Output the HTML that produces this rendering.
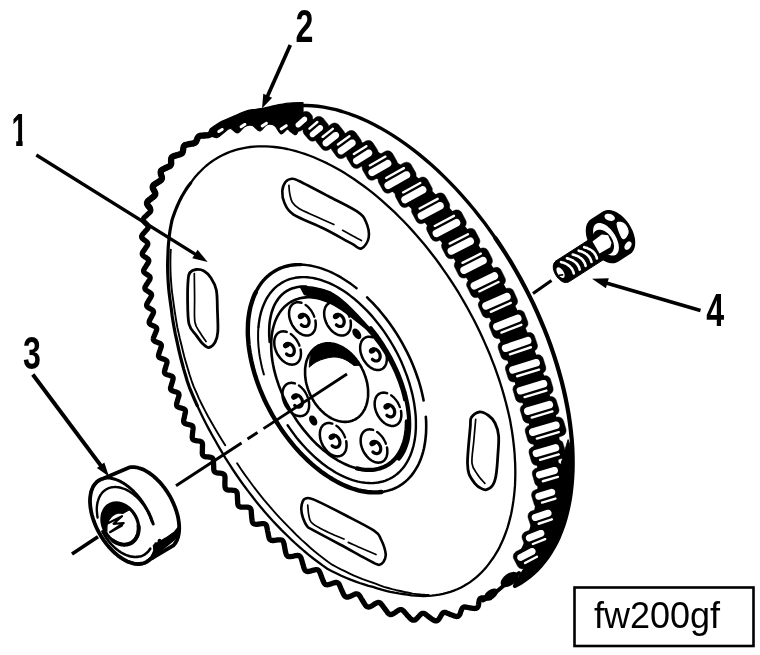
<!DOCTYPE html>
<html><head><meta charset="utf-8"><title>fw200gf</title>
<style>html,body{margin:0;padding:0;background:#fff;-webkit-font-smoothing:antialiased}svg{display:block}
text{font-family:"Liberation Sans",sans-serif;fill:#000}</style></head>
<body><svg width="760" height="655" viewBox="0 0 760 655">
<defs><filter id="g" x="-20%" y="-20%" width="140%" height="140%"><feOffset dx="0" dy="0"/></filter></defs>
<rect width="760" height="655" fill="#fff"/>
<path d="M300.2,105.5 L305.9,105.5 L311.8,105.7 L317.7,106.3 L323.7,107.1 L329.7,108.3 L335.9,109.7 L342.1,111.5 L348.4,113.5 L354.7,115.8 L361.0,118.4 L367.4,121.3 L373.9,124.5 L380.3,127.9 L386.7,131.6 L393.2,135.6 L399.6,139.9 L406.0,144.4 L412.4,149.1 L418.8,154.1 L425.1,159.4 L431.4,164.8 L437.7,170.5 L443.8,176.4 L450.0,182.6 L456.0,188.9 L461.9,195.4 L467.8,202.1 L473.6,209.0 L479.2,216.1 L484.8,223.3 L490.2,230.7 L495.5,238.3 L500.7,245.9" fill="none" stroke="#000" stroke-width="3.40" stroke-linecap="round" stroke-linejoin="round" />
<path d="M495.5,238.3 L500.7,246.0 L505.8,253.9 L510.8,261.9 L515.5,270.0 L520.2,278.2 L524.6,286.5 L528.9,294.9 L533.1,303.4 L537.0,311.9 L540.7,320.4 L544.3,329.0 L547.7,337.6 L550.9,346.3 L553.8,354.9 L556.6,363.6 L559.1,372.2 L561.5,380.8 L563.6,389.3 L565.5,397.8 L567.2,406.3 L568.7,414.7 L569.9,423.0 L570.9,431.2 L571.7,439.3 L572.3,447.3 L572.6,455.2 L572.7,462.9 L572.6,470.5 L572.2,478.0 L571.6,485.3 L570.8,492.4 L569.8,499.4 L568.5,506.2 L567.0,512.8 L565.3,519.1 L563.4,525.3 L561.2,531.3 L558.9,537.0 L556.3,542.5 L553.5,547.7 L550.5,552.8 L547.3,557.5 L543.9,562.0 L540.3,566.3 L536.6,570.2 L532.6,573.9 L528.5,577.4 L524.1,580.5 L519.7,583.4 L515.0,585.9" fill="none" stroke="#000" stroke-width="4.20" stroke-linecap="round" stroke-linejoin="round" />
<path d="M212.0,131.5 L211.6,132.4 L211.1,133.3 L210.5,134.0 L209.9,134.6 L209.1,134.9 L208.3,135.1 L207.4,135.3 L206.5,135.3 L205.6,135.4 L204.7,135.5 L203.8,135.5 L202.9,135.6 L202.0,135.6 L201.1,135.7 L200.2,135.8 L199.4,136.1 L198.7,136.5 L198.1,137.2 L197.6,138.0 L197.2,139.0 L196.8,140.0 L196.4,140.9 L196.0,141.8 L195.4,142.4 L194.8,142.9 L194.1,143.2 L193.3,143.4 L192.5,143.6 L191.6,143.7 L190.7,143.8 L189.9,144.0 L189.0,144.1 L188.1,144.3 L187.3,144.5 L186.4,144.7 L185.6,145.0 L184.8,145.3 L184.2,145.9 L183.8,146.6 L183.5,147.5 L183.3,148.5 L183.2,149.6 L183.0,150.6 L182.8,151.6 L182.5,152.4 L182.1,153.1 L181.5,153.6 L180.8,153.9 L180.0,154.2 L179.2,154.5 L178.4,154.7 L177.6,155.0 L176.8,155.2 L176.0,155.4 L175.2,155.7 L174.4,155.9 L173.7,156.2 L173.0,156.5 L172.3,156.9 L171.8,157.3 L171.5,157.9 L171.2,158.6 L171.1,159.3 L171.1,160.2 L171.1,161.0 L171.1,161.9 L171.2,162.7 L171.2,163.5 L171.1,164.2 L170.9,164.7 L170.6,165.2 L170.3,165.7 L169.8,166.0 L169.3,166.3 L168.8,166.6 L168.2,166.8 L167.7,167.1 L167.1,167.3 L166.5,167.6 L165.9,167.9 L165.3,168.1 L164.8,168.4 L164.2,168.7 L163.6,169.0 L163.0,169.3 L162.4,169.6 L161.9,170.0 L161.4,170.4 L161.0,170.8 L160.8,171.4 L160.7,172.1 L160.7,172.8 L160.8,173.6 L161.0,174.4 L161.3,175.3 L161.6,176.2 L161.8,177.0 L161.9,177.7 L161.9,178.4 L161.7,179.0 L161.5,179.6 L161.1,180.1 L160.5,180.5 L160.0,180.9 L159.4,181.3 L158.7,181.7 L158.1,182.1 L157.5,182.5 L156.8,182.9 L156.2,183.3 L155.5,183.7 L154.9,184.1 L154.2,184.6 L153.7,185.1 L153.2,185.6 L152.9,186.2 L152.7,186.9 L152.7,187.6 L153.0,188.5 L153.4,189.4 L153.9,190.3 L154.4,191.3 L154.9,192.2 L155.2,193.0 L155.3,193.8 L155.2,194.6 L154.9,195.2 L154.4,195.8 L153.8,196.4 L153.1,196.9 L152.4,197.5 L151.7,198.0 L151.0,198.6 L150.3,199.2 L149.5,199.7 L148.8,200.3 L148.1,200.9 L147.6,201.6 L147.2,202.3 L147.0,203.0 L147.1,203.9 L147.5,204.8 L148.1,205.7 L148.9,206.7 L149.6,207.6 L150.2,208.5 L150.7,209.4 L150.8,210.2 L150.7,210.9 L150.4,211.6 L149.9,212.2 L149.3,212.8 L148.6,213.4 L148.0,214.0 L147.3,214.6 L146.6,215.3 L146.0,215.9 L145.3,216.5 L144.6,217.2 L144.0,217.8 L143.6,218.5 L143.3,219.2 L143.2,220.0 L143.5,220.8 L144.0,221.6 L144.8,222.5 L145.7,223.3 L146.6,224.2 L147.4,225.0 L147.9,225.8 L148.2,226.5 L148.3,227.2 L148.1,227.9 L147.7,228.6 L147.1,229.2 L146.6,229.9 L146.0,230.5 L145.4,231.2 L144.8,231.8 L144.3,232.5 L143.7,233.1 L143.1,233.8 L142.6,234.4 L142.2,235.1 L141.8,235.8 L141.6,236.5 L141.7,237.2 L141.9,237.8 L142.4,238.5 L143.1,239.1 L143.9,239.8 L144.8,240.4 L145.7,241.0 L146.5,241.6 L147.2,242.3 L147.6,242.9 L147.8,243.5 L147.8,244.1 L147.6,244.8 L147.3,245.4 L146.9,246.1 L146.4,246.7 L146.0,247.4 L145.5,248.1 L145.1,248.7 L144.6,249.4 L144.2,250.1 L143.7,250.8 L143.2,251.4 L142.8,252.1 L142.5,252.8 L142.3,253.5 L142.3,254.1 L142.5,254.8 L142.9,255.4 L143.6,256.0 L144.4,256.6 L145.2,257.2 L146.2,257.7 L147.0,258.3 L147.8,258.9 L148.3,259.5 L148.7,260.1 L148.8,260.7 L148.7,261.4 L148.5,262.0 L148.2,262.7 L147.7,263.4 L147.3,264.1 L146.8,264.8 L146.4,265.5 L145.9,266.3 L145.5,267.0 L145.0,267.7 L144.5,268.5 L144.1,269.2 L143.8,270.0 L143.6,270.7 L143.7,271.5 L144.0,272.2 L144.7,272.9 L145.7,273.6 L146.8,274.4 L148.0,275.1 L149.0,275.8 L149.8,276.6 L150.1,277.4 L150.1,278.3 L149.9,279.2 L149.4,280.1 L148.8,281.0 L148.2,281.9 L147.6,282.9 L147.0,283.8 L146.4,284.7 L145.8,285.7 L145.2,286.6 L144.9,287.5 L144.9,288.4 L145.3,289.3 L146.1,290.1 L147.3,290.9 L148.5,291.7 L149.8,292.5 L150.7,293.3 L151.4,294.1 L151.6,294.9 L151.4,295.8 L151.1,296.6 L150.6,297.5 L150.1,298.4 L149.5,299.3 L149.0,300.2 L148.5,301.0 L148.0,301.9 L147.4,302.8 L147.0,303.7 L146.7,304.5 L146.6,305.3 L146.8,306.1 L147.4,306.9 L148.2,307.6 L149.3,308.2 L150.5,308.9 L151.7,309.5 L152.6,310.2 L153.2,310.9 L153.5,311.6 L153.5,312.4 L153.3,313.2 L152.9,314.1 L152.5,314.9 L152.0,315.8 L151.6,316.6 L151.1,317.5 L150.7,318.3 L150.2,319.2 L149.8,320.0 L149.4,320.9 L149.2,321.7 L149.2,322.5 L149.4,323.3 L149.9,324.0 L150.7,324.6 L151.8,325.1 L152.9,325.6 L154.1,326.2 L155.1,326.7 L156.0,327.2 L156.5,327.9 L156.7,328.6 L156.7,329.3 L156.6,330.1 L156.3,331.0 L155.9,331.8 L155.6,332.7 L155.2,333.5 L154.9,334.4 L154.5,335.2 L154.2,336.1 L153.8,336.9 L153.5,337.7 L153.4,338.6 L153.3,339.3 L153.5,340.0 L153.9,340.6 L154.6,341.2 L155.5,341.7 L156.6,342.1 L157.7,342.5 L158.8,342.9 L159.8,343.4 L160.5,343.8 L161.0,344.4 L161.3,345.0 L161.4,345.7 L161.3,346.4 L161.1,347.2 L160.8,348.0 L160.5,348.8 L160.3,349.6 L160.0,350.4 L159.7,351.2 L159.5,352.0 L159.2,352.8 L158.9,353.6 L158.7,354.4 L158.6,355.1 L158.5,355.8 L158.7,356.5 L159.0,357.1 L159.6,357.6 L160.4,358.0 L161.3,358.4 L162.4,358.7 L163.5,359.1 L164.5,359.4 L165.4,359.8 L166.1,360.3 L166.6,360.8 L166.9,361.4 L167.0,362.1 L166.9,362.8 L166.7,363.6 L166.5,364.4 L166.3,365.1 L166.0,365.9 L165.8,366.7 L165.6,367.5 L165.3,368.3 L165.1,369.1 L164.9,369.8 L164.7,370.6 L164.5,371.4 L164.5,372.1 L164.6,372.8 L164.9,373.4 L165.4,373.9 L166.2,374.3 L167.1,374.7 L168.2,375.0 L169.4,375.3 L170.5,375.7 L171.5,376.0 L172.3,376.5 L172.8,377.1 L173.1,377.8 L173.1,378.6 L173.0,379.4 L172.8,380.3 L172.5,381.3 L172.2,382.3 L171.9,383.2 L171.6,384.2 L171.3,385.2 L171.0,386.2 L170.7,387.2 L170.5,388.2 L170.6,389.0 L171.0,389.8 L171.8,390.5 L173.0,391.0 L174.4,391.5 L175.8,391.9 L177.1,392.4 L178.2,393.0 L178.8,393.7 L179.0,394.6 L179.0,395.6 L178.7,396.6 L178.4,397.7 L178.0,398.8 L177.7,399.8 L177.4,400.9 L177.1,402.0 L176.8,403.1 L176.6,404.1 L176.6,405.1 L176.8,405.9 L177.4,406.7 L178.4,407.2 L179.6,407.6 L181.0,408.0 L182.4,408.4 L183.6,408.8 L184.5,409.3 L185.2,410.0 L185.4,410.8 L185.5,411.7 L185.3,412.7 L185.1,413.7 L184.8,414.8 L184.6,415.8 L184.4,416.9 L184.2,417.9 L183.9,418.9 L183.7,420.0 L183.6,421.0 L183.7,421.9 L184.1,422.7 L184.7,423.3 L185.7,423.8 L186.9,424.2 L188.2,424.5 L189.6,424.8 L190.8,425.1 L191.8,425.5 L192.5,426.1 L192.9,426.8 L193.1,427.7 L193.1,428.6 L193.0,429.6 L192.8,430.7 L192.7,431.7 L192.6,432.7 L192.5,433.8 L192.4,434.8 L192.3,435.9 L192.2,436.9 L192.3,437.9 L192.5,438.7 L192.9,439.5 L193.7,440.0 L194.7,440.4 L195.9,440.7 L197.2,440.8 L198.6,441.0 L199.8,441.2 L200.8,441.6 L201.6,442.1 L202.1,442.7 L202.4,443.5 L202.5,444.4 L202.5,445.4 L202.5,446.3 L202.4,447.3 L202.4,448.3 L202.4,449.3 L202.4,450.2 L202.3,451.2 L202.3,452.2 L202.3,453.1 L202.4,454.0 L202.6,454.8 L203.0,455.5 L203.5,456.0 L204.3,456.4 L205.2,456.7 L206.3,456.9 L207.4,456.9 L208.6,457.0 L209.7,457.1 L210.7,457.3 L211.6,457.5 L212.2,457.9 L212.7,458.5 L213.1,459.1 L213.3,459.8 L213.4,460.7 L213.5,461.5 L213.5,462.4 L213.5,463.3 L213.6,464.1 L213.6,465.0 L213.6,465.9 L213.7,466.8 L213.7,467.7 L213.7,468.5 L213.8,469.4 L213.9,470.2 L214.1,471.0 L214.5,471.6 L215.0,472.1 L215.8,472.5 L216.7,472.8 L217.8,473.0 L218.9,473.1 L220.1,473.2 L221.3,473.4 L222.3,473.6 L223.2,473.9 L223.9,474.4 L224.4,475.0 L224.7,475.7 L224.9,476.5 L225.0,477.4 L225.0,478.3 L225.0,479.2 L225.0,480.1 L224.9,481.0 L224.9,482.0 L224.9,482.9 L224.9,483.8 L224.9,484.8 L224.9,485.7 L225.0,486.6 L225.1,487.4 L225.4,488.2 L225.8,488.9 L226.4,489.4 L227.2,489.8 L228.2,490.0 L229.3,490.1 L230.5,490.2 L231.8,490.2 L233.0,490.3 L234.1,490.4 L235.1,490.6 L235.8,491.0 L236.4,491.5 L236.8,492.2 L237.1,493.0 L237.2,493.8 L237.3,494.7 L237.4,495.7 L237.4,496.6 L237.4,497.6 L237.5,498.5 L237.5,499.4 L237.6,500.4 L237.6,501.3 L237.7,502.2 L237.7,503.2 L237.8,504.0 L238.0,504.9 L238.3,505.6 L238.8,506.2 L239.4,506.6 L240.1,506.9 L241.0,507.1 L242.0,507.2 L243.1,507.2 L244.3,507.2 L245.4,507.1 L246.5,507.1 L247.5,507.1 L248.4,507.3 L249.2,507.5 L249.8,507.8 L250.3,508.3 L250.6,508.8 L250.9,509.4 L251.1,510.1 L251.2,510.8 L251.3,511.6 L251.3,512.4 L251.4,513.2 L251.4,514.0 L251.5,514.8 L251.6,515.6 L251.6,516.4 L251.7,517.2 L251.8,518.0 L251.9,518.8 L252.0,519.6 L252.1,520.5 L252.2,521.2 L252.4,522.0 L252.7,522.6 L253.1,523.2 L253.7,523.7 L254.3,524.0 L255.1,524.2 L256.1,524.3 L257.1,524.3 L258.2,524.1 L259.3,524.0 L260.4,523.8 L261.5,523.7 L262.5,523.6 L263.5,523.6 L264.3,523.8 L265.0,524.0 L265.5,524.4 L266.0,524.9 L266.4,525.6 L266.6,526.3 L266.9,527.1 L267.0,527.9 L267.2,528.8 L267.4,529.7 L267.5,530.6 L267.7,531.5 L267.9,532.4 L268.1,533.3 L268.3,534.2 L268.4,535.1 L268.6,536.1 L268.8,537.0 L269.1,537.9 L269.4,538.7 L269.8,539.4 L270.5,539.9 L271.3,540.3 L272.2,540.5 L273.4,540.5 L274.7,540.4 L276.2,540.2 L277.6,539.9 L279.0,539.8 L280.2,539.8 L281.3,540.0 L282.2,540.3 L282.8,540.9 L283.3,541.7 L283.7,542.7 L283.9,543.7 L284.2,544.8 L284.4,545.9 L284.6,547.0 L284.8,548.1 L285.0,549.2 L285.2,550.3 L285.4,551.4 L285.7,552.4 L286.0,553.5 L286.3,554.4 L286.7,555.2 L287.3,555.9 L288.1,556.4 L289.0,556.6 L290.1,556.6 L291.4,556.5 L292.7,556.3 L294.0,556.0 L295.4,555.7 L296.6,555.5 L297.7,555.5 L298.7,555.6 L299.5,555.9 L300.1,556.5 L300.6,557.1 L301.0,557.9 L301.3,558.8 L301.6,559.8 L301.9,560.8 L302.2,561.8 L302.4,562.7 L302.7,563.7 L303.0,564.6 L303.3,565.6 L303.5,566.6 L303.8,567.5 L304.2,568.5 L304.5,569.3 L305.0,570.1 L305.5,570.7 L306.2,571.2 L307.0,571.4 L307.9,571.5 L309.0,571.4 L310.2,571.2 L311.4,570.8 L312.7,570.4 L313.9,570.1 L315.0,569.8 L316.1,569.7 L317.0,569.7 L317.8,569.9 L318.4,570.3 L319.0,570.9 L319.4,571.6 L319.8,572.3 L320.2,573.2 L320.5,574.1 L320.8,575.0 L321.2,575.8 L321.5,576.7 L321.8,577.6 L322.2,578.5 L322.5,579.4 L322.9,580.3 L323.2,581.1 L323.6,582.0 L324.0,582.8 L324.4,583.5 L325.0,584.1 L325.6,584.5 L326.3,584.7 L327.2,584.8 L328.2,584.7 L329.2,584.5 L330.4,584.1 L331.6,583.7 L332.7,583.2 L333.9,582.9 L334.9,582.6 L335.9,582.5 L336.8,582.5 L337.5,582.8 L338.2,583.2 L338.7,583.7 L339.2,584.4 L339.6,585.2 L339.9,586.0 L340.3,586.9 L340.6,587.7 L341.0,588.6 L341.4,589.4 L341.7,590.3 L342.1,591.1 L342.5,592.0 L342.9,592.8 L343.2,593.7 L343.7,594.5 L344.1,595.2 L344.6,595.9 L345.1,596.4 L345.8,596.8 L346.5,597.1 L347.3,597.1 L348.2,597.0 L349.2,596.7 L350.2,596.3 L351.3,595.8 L352.3,595.3 L353.4,594.8 L354.4,594.4 L355.3,594.0 L356.2,593.9 L357.0,593.9 L357.7,594.0 L358.3,594.3 L358.8,594.8 L359.3,595.3 L359.8,596.0 L360.2,596.7 L360.7,597.4 L361.1,598.2 L361.5,598.9 L362.0,599.7 L362.4,600.4 L362.9,601.1 L363.3,601.8 L363.7,602.6 L364.2,603.3 L364.7,604.0 L365.1,604.7 L365.6,605.4 L366.1,606.0 L366.7,606.5 L367.4,606.8 L368.1,607.0 L368.8,607.0 L369.7,606.8 L370.6,606.5 L371.5,606.0 L372.5,605.4 L373.5,604.8 L374.4,604.1 L375.4,603.5 L376.3,603.1 L377.1,602.7 L377.9,602.5 L378.7,602.5 L379.4,602.6 L380.0,602.9 L380.6,603.4 L381.1,603.9 L381.6,604.5 L382.1,605.2 L382.6,605.8 L383.1,606.5 L383.6,607.1 L384.0,607.8 L384.5,608.4 L385.0,609.0 L385.4,609.6 L385.8,610.2 L386.3,610.8 L386.7,611.4 L387.1,611.9 L387.5,612.5 L387.9,613.0 L388.3,613.4 L388.8,613.8 L389.2,614.1 L389.7,614.3 L390.2,614.5 L390.7,614.5 L391.2,614.5 L391.7,614.4 L392.3,614.2 L392.9,613.9 L393.5,613.6 L394.1,613.2 L394.8,612.8 L395.4,612.4 L396.0,611.9 L396.6,611.5 L397.2,611.1 L397.8,610.7 L398.4,610.3 L399.0,610.0 L399.5,609.8 L400.0,609.6 L400.5,609.6 L401.0,609.6 L401.5,609.6 L402.0,609.8 L402.4,610.1 L402.8,610.4 L403.3,610.7 L403.7,611.1 L404.1,611.6 L404.5,612.0 L404.9,612.5 L405.3,613.0 L405.7,613.4 L406.1,613.9 L406.5,614.4 L406.9,614.8 L407.3,615.3 L407.7,615.8 L408.1,616.2 L408.6,616.7 L409.0,617.2 L409.5,617.7 L409.9,618.1 L410.4,618.6 L410.8,619.0 L411.3,619.4 L411.9,619.7 L412.4,620.0 L412.9,620.2 L413.5,620.2 L414.1,620.2 L414.7,620.0 L415.4,619.7 L416.0,619.2 L416.7,618.6 L417.3,618.0 L418.0,617.2 L418.7,616.5 L419.4,615.7 L420.1,615.0 L420.7,614.3 L421.4,613.8 L422.1,613.5 L422.7,613.3 L423.3,613.3 L424.0,613.4 L424.6,613.6 L425.2,614.0 L425.8,614.5 L426.5,615.0 L427.1,615.5 L427.7,616.0 L428.4,616.5 L429.0,617.0 L429.7,617.5 L430.4,618.0 L431.0,618.5 L431.7,619.0 L432.4,619.4 L433.1,619.9 L433.8,620.3 L434.5,620.6 L435.2,620.8 L435.9,620.9 L436.6,620.9 L437.2,620.6 L437.9,620.2 L438.5,619.6 L439.1,618.9 L439.6,618.0 L440.2,617.1 L440.7,616.1 L441.2,615.2 L441.8,614.3 L442.3,613.6 L442.8,613.0 L443.4,612.6 L444.0,612.4 L444.7,612.3 L445.3,612.4 L446.0,612.6 L446.7,612.9 L447.4,613.2 L448.2,613.5 L448.9,613.8 L449.7,614.2 L450.4,614.5 L451.1,614.8 L451.9,615.0 L452.6,615.3 L453.4,615.6 L454.1,615.9 L454.8,616.1 L455.6,616.3 L456.3,616.5 L456.9,616.5 L457.6,616.4 L458.2,616.2 L458.7,615.8 L459.2,615.2 L459.7,614.5 L460.1,613.7 L460.4,612.8 L460.7,611.9 L461.0,611.0 L461.4,610.1 L461.7,609.2 L462.1,608.5 L462.5,607.9 L462.9,607.5 L463.4,607.2 L464.0,607.0 L464.6,607.0 L465.3,607.0 L465.9,607.1 L466.7,607.2 L467.4,607.4 L468.1,607.5 L468.9,607.7 L469.6,607.8 L470.3,607.9 L471.1,608.1 L471.9,608.2 L472.6,608.3 L473.4,608.4 L474.2,608.4 L475.0,608.5 L475.7,608.4 L476.4,608.2 L477.0,607.9 L477.5,607.4 L477.9,606.8 L478.3,606.0 L478.5,605.1 L478.6,604.1 L478.8,603.0 L478.9,602.0 L479.1,601.0 L479.3,600.1 L479.6,599.4 L480.0,598.8 L480.6,598.4 L481.2,598.1 L481.9,597.9 L482.6,597.9 L483.4,597.8 L484.3,597.8 L485.1,597.8 L485.9,597.8 L486.7,597.8 L487.5,597.8 L488.2,597.8 L489.0,597.8 L489.8,597.8" fill="none" stroke="#000" stroke-width="5.30" stroke-linecap="round" stroke-linejoin="round" />
<path d="M212.0,131.5 L211.6,132.4 L211.1,133.3 L210.5,134.0 L209.9,134.6 L209.1,134.9 L208.3,135.1 L207.4,135.3 L206.5,135.3 L205.6,135.4 L204.7,135.5 L203.8,135.5 L202.9,135.6 L202.0,135.6 L201.1,135.7 L200.2,135.8 L199.4,136.1 L198.7,136.5 L198.1,137.2 L197.6,138.0 L197.2,139.0 L196.8,140.0 L196.4,140.9 L196.0,141.8 L195.4,142.4 L194.8,142.9 L194.1,143.2 L193.3,143.4 L192.5,143.6 L191.6,143.7 L190.7,143.8 L189.9,144.0 L189.0,144.1 L188.1,144.3 L187.3,144.5 L186.4,144.7 L185.6,145.0 L184.8,145.3 L184.2,145.9 L183.8,146.6 L183.5,147.5 L183.3,148.5 L183.2,149.6 L183.0,150.6 L182.8,151.6 L182.5,152.4 L182.1,153.1 L181.5,153.6 L180.8,153.9 L180.0,154.2 L179.2,154.5 L178.4,154.7 L177.6,155.0 L176.8,155.2 L176.0,155.4 L175.2,155.7 L174.4,155.9 L173.7,156.2 L173.0,156.5 L172.3,156.9 L171.8,157.3 L171.5,157.9 L171.2,158.6 L171.1,159.3 L171.1,160.2 L171.1,161.0 L171.1,161.9 L171.2,162.7 L171.2,163.5 L171.1,164.2 L170.9,164.7 L170.6,165.2 L170.3,165.7 L169.8,166.0 L169.3,166.3 L168.8,166.6 L168.2,166.8 L167.7,167.1 L167.1,167.3 L166.5,167.6 L165.9,167.9 L165.3,168.1 L164.8,168.4 L164.2,168.7 L163.6,169.0 L163.0,169.3 L162.4,169.6 L161.9,170.0 L161.4,170.4 L161.0,170.8 L160.8,171.4 L160.7,172.1 L160.7,172.8 L160.8,173.6 L161.0,174.4 L161.3,175.3 L161.6,176.2 L161.8,177.0 L161.9,177.7 L161.9,178.4 L161.7,179.0 L161.5,179.6 L161.1,180.1 L160.5,180.5 L160.0,180.9 L159.4,181.3 L158.7,181.7 L158.1,182.1 L157.5,182.5 L156.8,182.9 L156.2,183.3 L155.5,183.7 L154.9,184.1 L154.2,184.6 L153.7,185.1 L153.2,185.6 L152.9,186.2 L152.7,186.9 L152.7,187.6 L153.0,188.5 L153.4,189.4 L153.9,190.3 L154.4,191.3 L154.9,192.2 L155.2,193.0 L155.3,193.8 L155.2,194.6 L154.9,195.2 L154.4,195.8 L153.8,196.4 L153.1,196.9 L152.4,197.5 L151.7,198.0 L151.0,198.6 L150.3,199.2 L149.5,199.7 L148.8,200.3 L148.1,200.9 L147.6,201.6 L147.2,202.3 L147.0,203.0 L147.1,203.9 L147.5,204.8 L148.1,205.7 L148.9,206.7 L149.6,207.6" fill="none" stroke="#000" stroke-width="6.30" stroke-linecap="round" stroke-linejoin="round" />
<path d="M210.0,129.2 C211.5,128.1 216.1,124.6 219.2,122.8 C222.3,121.0 225.3,120.0 228.4,118.6 C231.5,117.2 234.5,115.8 237.6,114.5 C240.7,113.2 243.7,111.7 246.8,110.8 C249.9,109.9 252.9,109.8 256.0,109.3 C259.1,108.8 262.1,108.4 265.2,107.8 C268.3,107.2 270.5,106.4 274.5,105.6 C278.5,104.8 284.4,103.7 289.2,103.2 C293.9,102.7 300.7,102.7 303.0,102.6 L303.0,113.0 C302.0,116.4 299.0,130.3 297.0,133.5 C295.0,136.7 292.6,132.7 291.0,132.0 C289.4,131.3 289.0,128.9 287.3,129.2 C285.6,129.5 283.1,134.4 281.0,133.8 C278.9,133.2 276.8,127.1 274.5,125.6 C272.2,124.1 269.5,123.7 267.0,124.6 C264.5,125.5 262.1,130.8 259.7,131.0 C257.3,131.2 254.8,126.3 252.4,125.5 C250.0,124.7 247.5,125.2 245.0,126.4 C242.5,127.6 240.0,132.6 237.6,132.9 C235.2,133.2 232.5,128.5 230.3,128.3 C228.2,128.2 226.8,130.5 224.7,132.0 C222.5,133.5 219.8,136.9 217.4,137.5 C215.0,138.1 211.2,135.9 210.0,135.6Z" fill="#000" stroke="#000" stroke-width="1.20" stroke-linecap="round" stroke-linejoin="round" />
<path d="M223.4,128.6 L223.6,128.9 L223.7,129.3 L223.6,129.7 L223.5,130.1 L223.3,130.4 L223.0,130.7 L219.6,132.8 L219.3,133.0 L218.9,133.1 L218.5,133.1 L218.1,132.9 L217.8,132.7 L217.6,132.4 L217.6,132.4 L217.4,132.1 L217.3,131.7 L217.4,131.3 L217.5,130.9 L217.7,130.6 L218.0,130.3 L221.4,128.2 L221.7,128.0 L222.1,127.9 L222.5,127.9 L222.9,128.1 L223.2,128.3 L223.4,128.6Z" fill="#fff" stroke="none" stroke-width="0.00" stroke-linecap="round" stroke-linejoin="round" />
<path d="M246.1,123.6 L246.3,123.9 L246.4,124.3 L246.4,124.7 L246.2,125.1 L246.0,125.4 L245.7,125.6 L241.9,128.1 L241.6,128.3 L241.2,128.3 L240.8,128.3 L240.4,128.2 L240.1,127.9 L239.9,127.6 L239.9,127.6 L239.7,127.3 L239.6,126.9 L239.6,126.5 L239.8,126.1 L240.0,125.8 L240.3,125.6 L244.1,123.1 L244.4,122.9 L244.8,122.9 L245.2,122.9 L245.6,123.0 L245.9,123.3 L246.1,123.6Z" fill="#fff" stroke="none" stroke-width="0.00" stroke-linecap="round" stroke-linejoin="round" />
<path d="M267.7,122.4 L267.8,122.8 L267.9,123.2 L267.9,123.6 L267.7,123.9 L267.5,124.2 L267.2,124.5 L263.0,127.2 L262.7,127.4 L262.3,127.5 L261.9,127.4 L261.5,127.3 L261.2,127.1 L260.9,126.8 L260.9,126.8 L260.8,126.4 L260.7,126.0 L260.7,125.6 L260.9,125.3 L261.1,125.0 L261.4,124.7 L265.6,122.0 L265.9,121.8 L266.3,121.7 L266.7,121.8 L267.1,121.9 L267.4,122.1 L267.7,122.4Z" fill="#fff" stroke="none" stroke-width="0.00" stroke-linecap="round" stroke-linejoin="round" />
<path d="M287.5,124.8 L287.6,125.2 L287.7,125.6 L287.7,126.0 L287.6,126.3 L287.3,126.7 L287.0,126.9 L282.0,130.2 L281.6,130.4 L281.3,130.4 L280.9,130.4 L280.5,130.3 L280.2,130.0 L279.9,129.8 L279.9,129.8 L279.8,129.4 L279.7,129.0 L279.7,128.6 L279.8,128.3 L280.1,127.9 L280.4,127.7 L285.4,124.4 L285.8,124.2 L286.1,124.2 L286.5,124.2 L286.9,124.3 L287.2,124.6 L287.5,124.8Z" fill="#fff" stroke="none" stroke-width="0.00" stroke-linecap="round" stroke-linejoin="round" />
<path d="M302.2,121.4 L315.8,128.8" fill="none" stroke="#000" stroke-width="13.72" stroke-linecap="butt" stroke-linejoin="round" />
<path d="M315.8,128.8 L330.3,136.8" fill="none" stroke="#000" stroke-width="15.61" stroke-linecap="butt" stroke-linejoin="round" />
<path d="M330.3,136.8 L346.2,144.5" fill="none" stroke="#000" stroke-width="19.08" stroke-linecap="butt" stroke-linejoin="round" />
<path d="M346.2,144.5 L362.4,154.4" fill="none" stroke="#000" stroke-width="20.50" stroke-linecap="butt" stroke-linejoin="round" />
<path d="M362.4,154.4 L379.7,165.5" fill="none" stroke="#000" stroke-width="21.23" stroke-linecap="butt" stroke-linejoin="round" />
<path d="M379.7,165.5 L397.2,177.7" fill="none" stroke="#000" stroke-width="25.08" stroke-linecap="butt" stroke-linejoin="round" />
<path d="M397.2,177.7 L413.8,192.3" fill="none" stroke="#000" stroke-width="27.27" stroke-linecap="butt" stroke-linejoin="round" />
<path d="M413.8,192.3 L430.7,208.3" fill="none" stroke="#000" stroke-width="27.27" stroke-linecap="butt" stroke-linejoin="round" />
<path d="M430.7,208.3 L446.4,225.6" fill="none" stroke="#000" stroke-width="28.35" stroke-linecap="butt" stroke-linejoin="round" />
<path d="M446.4,225.6 L460.7,243.6" fill="none" stroke="#000" stroke-width="28.44" stroke-linecap="butt" stroke-linejoin="round" />
<path d="M460.7,243.6 L473.4,263.0" fill="none" stroke="#000" stroke-width="28.16" stroke-linecap="butt" stroke-linejoin="round" />
<path d="M473.4,263.0 L486.1,282.5" fill="none" stroke="#000" stroke-width="28.16" stroke-linecap="butt" stroke-linejoin="round" />
<path d="M486.1,282.5 L498.0,303.0" fill="none" stroke="#000" stroke-width="28.89" stroke-linecap="butt" stroke-linejoin="round" />
<path d="M498.0,303.0 L508.6,324.3" fill="none" stroke="#000" stroke-width="28.46" stroke-linecap="butt" stroke-linejoin="round" />
<path d="M508.6,324.3 L517.8,346.3" fill="none" stroke="#000" stroke-width="28.46" stroke-linecap="butt" stroke-linejoin="round" />
<path d="M517.8,346.3 L525.6,368.3" fill="none" stroke="#000" stroke-width="29.20" stroke-linecap="butt" stroke-linejoin="round" />
<path d="M525.6,368.3 L533.0,389.2" fill="none" stroke="#000" stroke-width="29.94" stroke-linecap="butt" stroke-linejoin="round" />
<path d="M533.0,389.2 L539.6,409.9" fill="none" stroke="#000" stroke-width="28.42" stroke-linecap="butt" stroke-linejoin="round" />
<path d="M539.6,409.9 L545.6,430.6" fill="none" stroke="#000" stroke-width="28.42" stroke-linecap="butt" stroke-linejoin="round" />
<path d="M545.6,430.6 L547.3,452.5" fill="none" stroke="#000" stroke-width="26.32" stroke-linecap="butt" stroke-linejoin="round" />
<path d="M547.3,452.5 L548.3,474.6" fill="none" stroke="#000" stroke-width="21.66" stroke-linecap="butt" stroke-linejoin="round" />
<path d="M548.3,474.6 L546.6,496.2" fill="none" stroke="#000" stroke-width="19.57" stroke-linecap="butt" stroke-linejoin="round" />
<path d="M546.6,496.2 L543.0,517.2" fill="none" stroke="#000" stroke-width="19.56" stroke-linecap="butt" stroke-linejoin="round" />
<path d="M543.0,517.2 L536.6,537.4" fill="none" stroke="#000" stroke-width="18.60" stroke-linecap="butt" stroke-linejoin="round" />
<path d="M536.6,537.4 L528.1,556.0" fill="none" stroke="#000" stroke-width="18.60" stroke-linecap="butt" stroke-linejoin="round" />
<path d="M572.6,453.2 L572.7,461.0 L572.6,468.8 L572.3,476.3 L571.8,483.7 L571.0,491.0 L570.0,498.1 L568.8,504.9 L567.3,511.6 L565.6,518.1 L563.7,524.4 L561.5,530.4 L559.2,536.3 L556.6,541.8 L553.8,547.2 L550.8,552.3 L547.6,557.1 L544.2,561.7 L540.6,566.0 L536.8,570.0 L532.8,573.8 L528.6,577.3 L524.2,580.4 L519.7,583.3 L515.0,585.9 L514.0,584.0 C515.2,582.2 518.2,577.3 521.0,573.0 C523.8,568.7 526.9,564.2 530.5,558.0 C534.1,551.8 539.2,543.1 542.5,536.0 C545.8,528.9 548.3,523.0 550.5,515.2 C552.7,507.4 553.9,497.2 555.5,489.3 C557.1,481.4 558.5,474.2 560.0,468.0 C561.5,461.8 563.2,456.7 564.5,452.0 C565.8,447.3 567.4,442.0 568.0,440.0Z" fill="#000" stroke="#000" stroke-width="1.00" stroke-linecap="round" stroke-linejoin="round" />
<path d="M311.2,114.4 L312.0,115.6 L312.5,116.9 L312.6,118.4 L312.3,119.8 L311.7,121.1 L310.7,122.2 L302.0,129.9 L300.8,130.8 L299.4,131.2 L298.0,131.3 L296.6,131.1 L295.3,130.4 L294.2,129.5 L293.2,128.3 L292.4,127.2 L291.9,125.8 L291.8,124.4 L292.1,123.0 L292.7,121.7 L293.7,120.6 L302.4,112.8 L303.6,112.0 L305.0,111.5 L306.4,111.4 L307.8,111.7 L309.1,112.3 L310.2,113.3Z" fill="#000" stroke="#000" stroke-width="0.50" stroke-linecap="round" stroke-linejoin="round" />
<path d="M327.3,123.4 L328.1,124.6 L328.6,126.0 L328.6,127.4 L328.3,128.8 L327.6,130.1 L326.7,131.2 L316.3,139.9 L315.1,140.7 L313.7,141.1 L312.3,141.2 L310.9,140.9 L309.6,140.2 L308.5,139.3 L304.2,134.2 L303.5,133.0 L303.0,131.6 L303.0,130.2 L303.3,128.8 L303.9,127.5 L304.9,126.4 L315.3,117.7 L316.5,116.9 L317.9,116.5 L319.3,116.4 L320.7,116.7 L322.0,117.4 L323.1,118.3Z" fill="#000" stroke="#000" stroke-width="0.50" stroke-linecap="round" stroke-linejoin="round" />
<path d="M343.6,131.0 L344.4,132.3 L344.8,133.6 L344.8,135.1 L344.5,136.5 L343.8,137.7 L342.8,138.8 L329.4,149.4 L328.2,150.1 L326.8,150.5 L325.4,150.6 L324.0,150.2 L322.7,149.5 L321.7,148.5 L316.9,142.6 L316.2,141.4 L315.8,140.0 L315.8,138.5 L316.1,137.2 L316.8,135.9 L317.8,134.9 L331.2,124.2 L332.4,123.5 L333.8,123.1 L335.2,123.0 L336.6,123.4 L337.9,124.1 L338.9,125.1Z" fill="#000" stroke="#000" stroke-width="0.50" stroke-linecap="round" stroke-linejoin="round" />
<path d="M360.4,139.1 L361.1,140.3 L361.4,141.7 L361.4,143.2 L361.0,144.5 L360.2,145.8 L359.2,146.8 L344.2,157.6 L342.9,158.3 L341.6,158.6 L340.1,158.6 L338.7,158.2 L337.5,157.4 L336.5,156.4 L331.9,150.0 L331.2,148.8 L330.9,147.4 L331.0,145.9 L331.4,144.6 L332.1,143.3 L333.2,142.3 L348.1,131.5 L349.4,130.8 L350.8,130.5 L352.2,130.5 L353.6,130.9 L354.8,131.7 L355.8,132.7Z" fill="#000" stroke="#000" stroke-width="0.50" stroke-linecap="round" stroke-linejoin="round" />
<path d="M377.3,149.7 L377.9,151.0 L378.1,152.4 L378.0,153.8 L377.5,155.2 L376.7,156.3 L375.6,157.3 L359.3,167.6 L358.0,168.2 L356.6,168.4 L355.2,168.3 L353.8,167.8 L352.6,167.0 L351.7,165.9 L347.5,159.2 L346.9,157.9 L346.7,156.5 L346.8,155.0 L347.3,153.7 L348.1,152.5 L349.2,151.6 L365.4,141.3 L366.7,140.7 L368.2,140.5 L369.6,140.6 L370.9,141.1 L372.1,141.9 L373.0,143.0Z" fill="#000" stroke="#000" stroke-width="0.50" stroke-linecap="round" stroke-linejoin="round" />
<path d="M396.5,160.6 L397.1,161.9 L397.3,163.3 L397.1,164.7 L396.5,166.1 L395.7,167.2 L394.5,168.1 L374.5,179.6 L373.2,180.1 L371.7,180.3 L370.3,180.1 L369.0,179.5 L367.9,178.7 L367.0,177.5 L362.9,170.5 L362.4,169.1 L362.2,167.7 L362.4,166.3 L363.0,165.0 L363.8,163.8 L365.0,163.0 L385.0,151.5 L386.3,150.9 L387.8,150.8 L389.2,151.0 L390.5,151.5 L391.6,152.4 L392.5,153.5Z" fill="#000" stroke="#000" stroke-width="0.50" stroke-linecap="round" stroke-linejoin="round" />
<path d="M415.4,172.2 L415.9,173.6 L416.1,175.0 L415.9,176.4 L415.3,177.7 L414.5,178.9 L413.3,179.7 L390.5,192.5 L389.2,193.1 L387.8,193.2 L386.3,193.0 L385.0,192.5 L383.9,191.6 L383.0,190.4 L379.0,183.2 L378.4,181.9 L378.2,180.5 L378.5,179.0 L379.0,177.7 L379.9,176.6 L381.1,175.7 L403.8,162.9 L405.2,162.4 L406.6,162.2 L408.0,162.4 L409.3,163.0 L410.5,163.8 L411.3,165.0Z" fill="#000" stroke="#000" stroke-width="0.50" stroke-linecap="round" stroke-linejoin="round" />
<path d="M431.6,187.2 L432.2,188.5 L432.3,189.9 L432.1,191.3 L431.5,192.7 L430.6,193.8 L429.5,194.6 L407.3,206.8 L406.0,207.3 L404.6,207.5 L403.1,207.3 L401.8,206.7 L400.7,205.8 L399.9,204.7 L395.9,197.4 L395.4,196.1 L395.2,194.7 L395.4,193.2 L396.0,191.9 L396.9,190.8 L398.0,190.0 L420.2,177.8 L421.5,177.2 L422.9,177.1 L424.4,177.3 L425.7,177.9 L426.8,178.8 L427.7,179.9Z" fill="#000" stroke="#000" stroke-width="0.50" stroke-linecap="round" stroke-linejoin="round" />
<path d="M449.1,203.1 L449.6,204.5 L449.7,205.9 L449.5,207.3 L448.9,208.6 L448.0,209.7 L446.9,210.6 L423.7,223.1 L422.3,223.6 L420.9,223.7 L419.5,223.5 L418.2,222.9 L417.0,222.0 L416.2,220.8 L412.3,213.5 L411.8,212.2 L411.6,210.7 L411.8,209.3 L412.4,208.0 L413.3,206.9 L414.5,206.1 L437.7,193.6 L439.0,193.1 L440.5,192.9 L441.9,193.1 L443.2,193.7 L444.3,194.6 L445.2,195.8Z" fill="#000" stroke="#000" stroke-width="0.50" stroke-linecap="round" stroke-linejoin="round" />
<path d="M465.6,220.3 L466.1,221.6 L466.2,223.0 L466.0,224.4 L465.4,225.7 L464.4,226.9 L463.3,227.7 L438.6,240.7 L437.2,241.2 L435.8,241.3 L434.4,241.1 L433.1,240.5 L432.0,239.5 L431.1,238.4 L427.2,230.9 L426.7,229.6 L426.6,228.1 L426.9,226.7 L427.5,225.4 L428.4,224.3 L429.5,223.5 L454.2,210.5 L455.6,210.0 L457.0,209.9 L458.4,210.1 L459.7,210.7 L460.8,211.6 L461.7,212.8Z" fill="#000" stroke="#000" stroke-width="0.50" stroke-linecap="round" stroke-linejoin="round" />
<path d="M479.3,238.7 L479.8,240.1 L479.9,241.5 L479.6,242.9 L479.0,244.2 L478.1,245.3 L476.9,246.2 L453.4,258.2 L452.0,258.7 L450.6,258.8 L449.2,258.6 L447.9,258.0 L446.8,257.0 L446.0,255.9 L442.2,248.5 L441.7,247.1 L441.6,245.7 L441.8,244.3 L442.5,243.0 L443.4,241.9 L444.6,241.1 L468.1,229.0 L469.4,228.5 L470.9,228.4 L472.3,228.6 L473.6,229.2 L474.7,230.2 L475.5,231.4Z" fill="#000" stroke="#000" stroke-width="0.50" stroke-linecap="round" stroke-linejoin="round" />
<path d="M491.9,258.4 L492.3,259.7 L492.4,261.2 L492.2,262.6 L491.5,263.9 L490.6,265.0 L489.4,265.8 L466.0,277.5 L464.7,278.0 L463.2,278.1 L461.8,277.8 L460.5,277.2 L459.5,276.2 L458.6,275.1 L454.9,267.6 L454.4,266.3 L454.3,264.8 L454.6,263.4 L455.2,262.1 L456.2,261.0 L457.4,260.2 L480.7,248.5 L482.1,248.0 L483.5,247.9 L484.9,248.2 L486.2,248.8 L487.3,249.8 L488.1,250.9Z" fill="#000" stroke="#000" stroke-width="0.50" stroke-linecap="round" stroke-linejoin="round" />
<path d="M504.9,277.9 L505.4,279.3 L505.5,280.7 L505.2,282.1 L504.5,283.4 L503.6,284.5 L502.4,285.3 L478.2,297.1 L476.9,297.6 L475.5,297.6 L474.0,297.4 L472.8,296.7 L471.7,295.8 L470.9,294.6 L467.2,287.1 L466.7,285.7 L466.6,284.3 L466.9,282.9 L467.6,281.6 L468.5,280.5 L469.7,279.7 L493.9,267.9 L495.2,267.4 L496.7,267.3 L498.1,267.6 L499.3,268.2 L500.4,269.2 L501.2,270.4Z" fill="#000" stroke="#000" stroke-width="0.50" stroke-linecap="round" stroke-linejoin="round" />
<path d="M517.1,299.1 L517.5,300.5 L517.6,301.9 L517.2,303.3 L516.5,304.6 L515.6,305.6 L514.3,306.3 L489.5,317.4 L488.1,317.8 L486.6,317.9 L485.2,317.5 L484.0,316.8 L482.9,315.9 L482.2,314.6 L478.8,307.0 L478.4,305.6 L478.3,304.2 L478.7,302.8 L479.4,301.5 L480.3,300.5 L481.6,299.7 L506.4,288.6 L507.8,288.2 L509.3,288.2 L510.7,288.5 L511.9,289.2 L513.0,290.2 L513.7,291.4Z" fill="#000" stroke="#000" stroke-width="0.50" stroke-linecap="round" stroke-linejoin="round" />
<path d="M527.6,321.4 L527.9,322.8 L527.9,324.2 L527.5,325.6 L526.7,326.8 L525.7,327.8 L524.4,328.5 L499.8,338.2 L498.4,338.5 L497.0,338.5 L495.6,338.1 L494.4,337.4 L493.4,336.3 L492.7,335.1 L489.6,327.3 L489.3,325.9 L489.3,324.4 L489.7,323.1 L490.4,321.8 L491.5,320.8 L492.7,320.1 L517.4,310.5 L518.8,310.1 L520.2,310.2 L521.6,310.6 L522.8,311.3 L523.8,312.3 L524.5,313.6Z" fill="#000" stroke="#000" stroke-width="0.50" stroke-linecap="round" stroke-linejoin="round" />
<path d="M537.2,344.2 L537.5,345.6 L537.4,347.0 L536.9,348.4 L536.1,349.5 L535.1,350.5 L533.8,351.1 L508.0,359.9 L506.6,360.2 L505.2,360.1 L503.8,359.6 L502.6,358.8 L501.7,357.8 L501.1,356.5 L498.3,348.5 L498.1,347.1 L498.2,345.7 L498.6,344.3 L499.4,343.1 L500.5,342.2 L501.8,341.6 L527.5,332.8 L528.9,332.5 L530.4,332.6 L531.7,333.0 L532.9,333.8 L533.9,334.9 L534.5,336.2Z" fill="#000" stroke="#000" stroke-width="0.50" stroke-linecap="round" stroke-linejoin="round" />
<path d="M545.6,366.6 L545.8,368.0 L545.7,369.5 L545.2,370.8 L544.3,372.0 L543.2,372.9 L541.9,373.5 L514.9,381.7 L513.5,381.9 L512.1,381.8 L510.7,381.3 L509.6,380.5 L508.7,379.3 L508.1,378.0 L505.6,370.0 L505.4,368.6 L505.5,367.2 L506.0,365.8 L506.9,364.6 L508.0,363.7 L509.3,363.1 L536.3,354.9 L537.7,354.7 L539.1,354.8 L540.5,355.3 L541.6,356.2 L542.5,357.3 L543.1,358.6Z" fill="#000" stroke="#000" stroke-width="0.50" stroke-linecap="round" stroke-linejoin="round" />
<path d="M552.9,387.6 L553.1,389.1 L553.0,390.5 L552.5,391.8 L551.6,393.0 L550.5,393.9 L549.2,394.5 L522.4,402.6 L521.0,402.8 L519.6,402.6 L518.3,402.1 L517.1,401.3 L516.2,400.2 L515.6,398.9 L513.2,390.8 L512.9,389.4 L513.1,388.0 L513.6,386.6 L514.4,385.5 L515.5,384.6 L516.9,384.0 L543.6,375.9 L545.0,375.7 L546.5,375.8 L547.8,376.3 L549.0,377.2 L549.9,378.3 L550.5,379.6Z" fill="#000" stroke="#000" stroke-width="0.50" stroke-linecap="round" stroke-linejoin="round" />
<path d="M558.7,408.6 L559.0,410.0 L558.8,411.4 L558.3,412.8 L557.5,413.9 L556.3,414.8 L555.0,415.4 L529.7,422.9 L528.3,423.2 L526.9,423.0 L525.5,422.5 L524.4,421.7 L523.5,420.6 L522.9,419.2 L520.5,411.2 L520.2,409.8 L520.4,408.4 L520.9,407.0 L521.7,405.8 L522.9,404.9 L524.2,404.4 L549.5,396.8 L550.9,396.6 L552.3,396.7 L553.7,397.3 L554.8,398.1 L555.7,399.2 L556.3,400.5Z" fill="#000" stroke="#000" stroke-width="0.50" stroke-linecap="round" stroke-linejoin="round" />
<path d="M565.9,429.0 L566.1,430.5 L565.9,431.9 L565.4,433.2 L564.6,434.4 L563.4,435.3 L562.1,435.9 L534.6,444.0 L533.2,444.2 L531.8,444.0 L530.4,443.5 L529.3,442.7 L528.4,441.6 L527.8,440.2 L525.4,432.2 L525.2,430.8 L525.3,429.3 L525.9,428.0 L526.7,426.8 L527.8,425.9 L529.1,425.4 L556.6,417.3 L558.1,417.0 L559.5,417.2 L560.8,417.7 L562.0,418.5 L562.9,419.7 L563.5,421.0Z" fill="#000" stroke="#000" stroke-width="0.50" stroke-linecap="round" stroke-linejoin="round" />
<path d="M565.4,451.6 L565.6,453.0 L565.5,454.4 L564.9,455.8 L564.1,456.9 L563.0,457.8 L561.6,458.4 L538.3,465.2 L536.9,465.4 L535.5,465.2 L534.1,464.7 L533.0,463.9 L532.1,462.7 L531.5,461.4 L529.2,453.5 L529.0,452.1 L529.1,450.7 L529.6,449.3 L530.5,448.2 L531.6,447.3 L532.9,446.7 L556.3,439.9 L557.7,439.7 L559.1,439.9 L560.5,440.4 L561.6,441.2 L562.5,442.3 L563.1,443.7Z" fill="#000" stroke="#000" stroke-width="0.50" stroke-linecap="round" stroke-linejoin="round" />
<path d="M564.1,474.2 L564.3,475.6 L564.2,477.0 L563.7,478.4 L562.8,479.5 L561.7,480.4 L560.4,481.0 L541.5,486.4 L540.1,486.6 L538.6,486.5 L537.3,485.9 L536.1,485.1 L535.2,484.0 L534.7,482.6 L532.5,475.0 L532.3,473.6 L532.4,472.2 L532.9,470.8 L533.8,469.7 L534.9,468.8 L536.2,468.2 L555.1,462.8 L556.5,462.6 L558.0,462.7 L559.3,463.2 L560.5,464.1 L561.4,465.2 L561.9,466.5Z" fill="#000" stroke="#000" stroke-width="0.50" stroke-linecap="round" stroke-linejoin="round" />
<path d="M561.4,495.8 L561.6,497.2 L561.5,498.6 L561.0,500.0 L560.2,501.1 L559.1,502.0 L557.8,502.6 L541.0,507.8 L539.5,508.0 L538.1,507.9 L536.8,507.4 L535.6,506.5 L534.7,505.4 L534.1,504.1 L531.8,496.6 L531.6,495.2 L531.7,493.8 L532.2,492.4 L533.0,491.3 L534.1,490.4 L535.5,489.8 L552.3,484.6 L553.7,484.4 L555.1,484.5 L556.4,485.0 L557.6,485.9 L558.5,487.0 L559.1,488.3Z" fill="#000" stroke="#000" stroke-width="0.50" stroke-linecap="round" stroke-linejoin="round" />
<path d="M557.8,516.4 L558.1,517.8 L558.0,519.3 L557.5,520.6 L556.7,521.8 L555.6,522.8 L554.3,523.4 L537.6,528.9 L536.2,529.2 L534.8,529.1 L533.4,528.6 L532.3,527.8 L531.3,526.7 L530.7,525.4 L528.2,518.0 L528.0,516.6 L528.1,515.1 L528.5,513.8 L529.4,512.6 L530.4,511.6 L531.7,511.0 L548.4,505.5 L549.8,505.2 L551.2,505.3 L552.6,505.8 L553.8,506.6 L554.7,507.7 L555.4,509.0Z" fill="#000" stroke="#000" stroke-width="0.50" stroke-linecap="round" stroke-linejoin="round" />
<path d="M550.8,535.9 L551.2,537.3 L551.2,538.7 L550.8,540.1 L550.1,541.3 L549.0,542.3 L547.8,543.0 L532.4,549.1 L531.0,549.5 L529.5,549.5 L528.1,549.1 L526.9,548.4 L525.9,547.3 L525.2,546.1 L522.4,539.0 L522.0,537.6 L522.0,536.1 L522.4,534.7 L523.2,533.5 L524.2,532.5 L525.5,531.8 L540.9,525.7 L542.3,525.3 L543.7,525.3 L545.1,525.7 L546.3,526.5 L547.3,527.5 L548.0,528.7Z" fill="#000" stroke="#000" stroke-width="0.50" stroke-linecap="round" stroke-linejoin="round" />
<path d="M542.3,553.0 L542.8,554.3 L542.9,555.8 L542.6,557.2 L542.0,558.5 L541.1,559.6 L539.9,560.4 L524.9,568.3 L523.6,568.8 L522.2,568.9 L520.7,568.6 L519.4,568.0 L518.3,567.1 L517.5,565.9 L513.9,559.1 L513.4,557.7 L513.3,556.3 L513.5,554.9 L514.1,553.6 L515.1,552.5 L516.2,551.6 L531.2,543.8 L532.6,543.3 L534.0,543.2 L535.4,543.4 L536.7,544.0 L537.8,544.9 L538.7,546.1Z" fill="#000" stroke="#000" stroke-width="0.50" stroke-linecap="round" stroke-linejoin="round" />
<path d="M306.6,117.5 L307.0,118.1 L307.2,118.7 L307.2,119.4 L307.1,120.1 L306.8,120.7 L306.4,121.2 L299.9,126.9 L299.4,127.3 L298.7,127.6 L298.0,127.6 L297.3,127.5 L296.7,127.2 L296.2,126.7 L296.2,126.7 L295.8,126.1 L295.5,125.5 L295.5,124.8 L295.6,124.1 L295.9,123.5 L296.4,123.0 L302.8,117.3 L303.4,116.9 L304.1,116.6 L304.7,116.6 L305.4,116.7 L306.1,117.0 L306.6,117.5Z" fill="#fff" stroke="none" stroke-width="0.00" stroke-linecap="round" stroke-linejoin="round" />
<path d="M322.4,126.1 L322.8,126.7 L323.1,127.5 L323.1,128.2 L322.9,129.0 L322.6,129.7 L322.1,130.2 L314.4,136.6 L313.8,137.0 L313.1,137.3 L312.3,137.3 L311.6,137.2 L310.9,136.8 L310.3,136.3 L310.3,136.3 L309.9,135.6 L309.7,134.9 L309.6,134.2 L309.8,133.4 L310.2,132.7 L310.7,132.2 L318.3,125.7 L318.9,125.3 L319.7,125.1 L320.4,125.1 L321.2,125.2 L321.8,125.6 L322.4,126.1Z" fill="#fff" stroke="none" stroke-width="0.00" stroke-linecap="round" stroke-linejoin="round" />
<path d="M318.2,121.2 L318.4,121.5 L318.5,121.8 L318.5,122.1 L318.4,122.4 L318.3,122.7 L318.1,122.9 L310.2,129.5 L310.0,129.7 L309.7,129.8 L309.4,129.8 L309.1,129.7 L308.8,129.6 L308.5,129.4 L308.5,129.4 L308.4,129.1 L308.3,128.8 L308.3,128.5 L308.3,128.2 L308.5,127.9 L308.7,127.7 L316.5,121.1 L316.8,120.9 L317.1,120.8 L317.4,120.8 L317.7,120.9 L318.0,121.0 L318.2,121.2Z" fill="#fff" stroke="none" stroke-width="0.00" stroke-linecap="round" stroke-linejoin="round" />
<path d="M338.4,133.3 L338.8,134.0 L339.1,134.8 L339.1,135.7 L338.9,136.5 L338.5,137.3 L337.9,137.9 L328.0,145.8 L327.2,146.3 L326.4,146.5 L325.5,146.5 L324.7,146.3 L324.0,145.9 L323.3,145.3 L323.2,145.1 L322.8,144.4 L322.5,143.6 L322.5,142.7 L322.7,141.9 L323.1,141.1 L323.7,140.5 L333.6,132.6 L334.4,132.2 L335.2,131.9 L336.1,131.9 L336.9,132.1 L337.7,132.5 L338.3,133.1Z" fill="#fff" stroke="none" stroke-width="0.00" stroke-linecap="round" stroke-linejoin="round" />
<path d="M333.7,128.1 L333.9,128.3 L334.0,128.6 L334.0,129.0 L333.9,129.3 L333.7,129.5 L333.5,129.8 L323.3,137.9 L323.1,138.0 L322.8,138.1 L322.5,138.1 L322.1,138.1 L321.9,137.9 L321.6,137.7 L321.6,137.7 L321.5,137.4 L321.4,137.1 L321.4,136.8 L321.5,136.5 L321.6,136.2 L321.8,136.0 L332.0,127.9 L332.3,127.7 L332.6,127.6 L332.9,127.6 L333.2,127.7 L333.5,127.9 L333.7,128.1Z" fill="#fff" stroke="none" stroke-width="0.00" stroke-linecap="round" stroke-linejoin="round" />
<path d="M355.1,141.1 L355.5,141.8 L355.7,142.7 L355.7,143.5 L355.4,144.4 L355.0,145.1 L354.4,145.7 L342.9,154.0 L342.2,154.4 L341.3,154.6 L340.5,154.5 L339.6,154.3 L338.9,153.8 L338.3,153.2 L338.1,152.9 L337.7,152.1 L337.5,151.3 L337.5,150.4 L337.7,149.6 L338.2,148.8 L338.8,148.3 L350.2,140.0 L351.0,139.6 L351.8,139.4 L352.7,139.4 L353.5,139.6 L354.2,140.1 L354.8,140.7Z" fill="#fff" stroke="none" stroke-width="0.00" stroke-linecap="round" stroke-linejoin="round" />
<path d="M350.4,135.6 L350.5,135.8 L350.6,136.1 L350.6,136.4 L350.5,136.7 L350.3,137.0 L350.1,137.2 L338.6,145.5 L338.4,145.7 L338.1,145.8 L337.8,145.7 L337.4,145.7 L337.2,145.5 L337.0,145.3 L337.0,145.3 L336.8,145.0 L336.7,144.7 L336.8,144.4 L336.8,144.1 L337.0,143.8 L337.2,143.6 L348.7,135.3 L349.0,135.1 L349.3,135.1 L349.6,135.1 L349.9,135.2 L350.2,135.3 L350.4,135.6Z" fill="#fff" stroke="none" stroke-width="0.00" stroke-linecap="round" stroke-linejoin="round" />
<path d="M371.8,151.3 L372.2,152.1 L372.3,153.0 L372.2,153.8 L371.9,154.6 L371.5,155.3 L370.8,155.9 L358.3,163.8 L357.5,164.2 L356.6,164.4 L355.8,164.3 L355.0,164.0 L354.3,163.5 L353.7,162.8 L353.5,162.4 L353.1,161.6 L352.9,160.8 L353.0,159.9 L353.3,159.1 L353.8,158.4 L354.5,157.9 L367.0,149.9 L367.8,149.6 L368.6,149.4 L369.5,149.5 L370.3,149.8 L371.0,150.3 L371.5,150.9Z" fill="#fff" stroke="none" stroke-width="0.00" stroke-linecap="round" stroke-linejoin="round" />
<path d="M367.4,145.5 L367.5,145.8 L367.5,146.1 L367.5,146.4 L367.4,146.7 L367.2,147.0 L367.0,147.2 L354.5,155.1 L354.3,155.2 L353.9,155.3 L353.6,155.2 L353.3,155.1 L353.1,155.0 L352.9,154.7 L352.9,154.7 L352.8,154.4 L352.7,154.1 L352.7,153.8 L352.8,153.5 L353.0,153.3 L353.3,153.1 L365.7,145.2 L366.0,145.0 L366.3,145.0 L366.6,145.0 L366.9,145.1 L367.2,145.3 L367.4,145.5Z" fill="#fff" stroke="none" stroke-width="0.00" stroke-linecap="round" stroke-linejoin="round" />
<path d="M391.0,162.0 L391.4,162.8 L391.5,163.6 L391.4,164.5 L391.0,165.3 L390.5,166.0 L389.8,166.5 L373.6,175.8 L372.8,176.1 L372.0,176.2 L371.1,176.1 L370.3,175.8 L369.6,175.3 L369.1,174.6 L368.7,174.0 L368.4,173.2 L368.3,172.3 L368.4,171.4 L368.8,170.7 L369.3,170.0 L370.0,169.4 L386.2,160.2 L387.0,159.8 L387.8,159.7 L388.7,159.8 L389.5,160.2 L390.2,160.7 L390.7,161.4Z" fill="#fff" stroke="none" stroke-width="0.00" stroke-linecap="round" stroke-linejoin="round" />
<path d="M386.4,156.0 L386.5,156.3 L386.6,156.6 L386.5,156.9 L386.4,157.2 L386.2,157.4 L386.0,157.6 L370.5,166.5 L370.2,166.6 L369.9,166.7 L369.6,166.6 L369.3,166.5 L369.0,166.3 L368.9,166.0 L368.9,166.0 L368.7,165.8 L368.7,165.4 L368.7,165.1 L368.9,164.8 L369.1,164.6 L369.3,164.4 L384.8,155.5 L385.1,155.4 L385.4,155.4 L385.7,155.4 L386.0,155.5 L386.2,155.7 L386.4,156.0Z" fill="#fff" stroke="none" stroke-width="0.00" stroke-linecap="round" stroke-linejoin="round" />
<path d="M409.9,173.6 L410.2,174.4 L410.3,175.3 L410.2,176.1 L409.8,176.9 L409.3,177.6 L408.6,178.1 L389.7,188.8 L388.9,189.1 L388.0,189.2 L387.1,189.1 L386.4,188.7 L385.7,188.2 L385.2,187.5 L384.7,186.7 L384.4,185.9 L384.3,185.1 L384.4,184.2 L384.8,183.4 L385.3,182.8 L386.0,182.2 L404.9,171.6 L405.7,171.3 L406.6,171.2 L407.5,171.3 L408.2,171.6 L408.9,172.1 L409.4,172.8Z" fill="#fff" stroke="none" stroke-width="0.00" stroke-linecap="round" stroke-linejoin="round" />
<path d="M404.9,167.6 L405.1,167.9 L405.1,168.2 L405.0,168.5 L404.9,168.8 L404.7,169.0 L404.5,169.2 L386.8,179.1 L386.5,179.3 L386.2,179.3 L385.9,179.2 L385.6,179.1 L385.4,178.9 L385.2,178.7 L385.2,178.7 L385.1,178.4 L385.0,178.1 L385.1,177.8 L385.2,177.5 L385.4,177.2 L385.6,177.0 L403.3,167.1 L403.6,167.0 L403.9,167.0 L404.2,167.0 L404.5,167.1 L404.8,167.3 L404.9,167.6Z" fill="#fff" stroke="none" stroke-width="0.00" stroke-linecap="round" stroke-linejoin="round" />
<path d="M426.1,188.5 L426.4,189.3 L426.5,190.2 L426.4,191.0 L426.0,191.8 L425.5,192.5 L424.8,193.0 L406.5,203.0 L405.7,203.4 L404.8,203.5 L404.0,203.3 L403.2,203.0 L402.5,202.4 L402.0,201.7 L401.6,201.0 L401.3,200.2 L401.2,199.3 L401.3,198.5 L401.7,197.7 L402.2,197.0 L402.9,196.5 L421.2,186.5 L422.0,186.1 L422.9,186.0 L423.7,186.2 L424.5,186.5 L425.2,187.1 L425.7,187.8Z" fill="#fff" stroke="none" stroke-width="0.00" stroke-linecap="round" stroke-linejoin="round" />
<path d="M421.3,182.4 L421.4,182.7 L421.5,183.0 L421.4,183.3 L421.3,183.6 L421.1,183.8 L420.8,184.0 L403.7,193.5 L403.4,193.6 L403.1,193.6 L402.8,193.6 L402.5,193.4 L402.2,193.2 L402.1,193.0 L402.1,193.0 L401.9,192.7 L401.9,192.4 L402.0,192.1 L402.1,191.8 L402.3,191.6 L402.5,191.4 L419.7,181.9 L420.0,181.8 L420.3,181.8 L420.6,181.8 L420.9,182.0 L421.1,182.1 L421.3,182.4Z" fill="#fff" stroke="none" stroke-width="0.00" stroke-linecap="round" stroke-linejoin="round" />
<path d="M443.5,204.4 L443.8,205.2 L443.9,206.1 L443.8,206.9 L443.4,207.7 L442.9,208.4 L442.2,208.9 L422.9,219.3 L422.1,219.6 L421.2,219.7 L420.4,219.5 L419.6,219.2 L418.9,218.6 L418.4,217.9 L418.0,217.1 L417.7,216.3 L417.6,215.5 L417.7,214.6 L418.1,213.8 L418.6,213.2 L419.3,212.7 L438.6,202.3 L439.4,202.0 L440.3,201.9 L441.2,202.0 L441.9,202.4 L442.6,202.9 L443.1,203.6Z" fill="#fff" stroke="none" stroke-width="0.00" stroke-linecap="round" stroke-linejoin="round" />
<path d="M438.7,198.3 L438.8,198.6 L438.8,198.9 L438.8,199.2 L438.7,199.5 L438.5,199.7 L438.2,199.9 L420.2,209.6 L419.9,209.7 L419.6,209.7 L419.3,209.7 L419.0,209.5 L418.8,209.3 L418.6,209.1 L418.6,209.1 L418.5,208.8 L418.4,208.5 L418.5,208.2 L418.6,207.9 L418.8,207.6 L419.1,207.5 L437.1,197.8 L437.4,197.7 L437.7,197.6 L438.0,197.7 L438.3,197.8 L438.5,198.0 L438.7,198.3Z" fill="#fff" stroke="none" stroke-width="0.00" stroke-linecap="round" stroke-linejoin="round" />
<path d="M460.0,221.5 L460.3,222.3 L460.4,223.2 L460.2,224.0 L459.9,224.8 L459.3,225.4 L458.6,225.9 L437.8,236.9 L437.0,237.2 L436.2,237.3 L435.3,237.1 L434.5,236.8 L433.9,236.2 L433.4,235.5 L432.9,234.6 L432.6,233.8 L432.5,232.9 L432.7,232.1 L433.0,231.3 L433.6,230.7 L434.3,230.2 L455.1,219.2 L455.9,218.9 L456.8,218.8 L457.6,219.0 L458.4,219.3 L459.0,219.9 L459.5,220.6Z" fill="#fff" stroke="none" stroke-width="0.00" stroke-linecap="round" stroke-linejoin="round" />
<path d="M455.0,215.3 L455.1,215.6 L455.2,215.9 L455.1,216.2 L455.0,216.5 L454.8,216.7 L454.5,216.9 L435.4,227.0 L435.1,227.1 L434.7,227.1 L434.4,227.1 L434.2,227.0 L433.9,226.7 L433.7,226.5 L433.7,226.5 L433.6,226.2 L433.6,225.9 L433.6,225.6 L433.8,225.3 L434.0,225.1 L434.2,224.9 L453.4,214.8 L453.7,214.7 L454.0,214.6 L454.3,214.7 L454.6,214.8 L454.9,215.0 L455.0,215.3Z" fill="#fff" stroke="none" stroke-width="0.00" stroke-linecap="round" stroke-linejoin="round" />
<path d="M473.7,239.9 L474.0,240.7 L474.1,241.6 L473.9,242.4 L473.6,243.2 L473.0,243.9 L472.3,244.4 L452.7,254.4 L451.9,254.7 L451.0,254.8 L450.2,254.7 L449.4,254.3 L448.7,253.7 L448.2,253.0 L447.8,252.2 L447.5,251.4 L447.5,250.5 L447.6,249.7 L448.0,248.9 L448.5,248.3 L449.3,247.8 L468.8,237.7 L469.7,237.4 L470.5,237.3 L471.4,237.5 L472.1,237.8 L472.8,238.4 L473.3,239.1Z" fill="#fff" stroke="none" stroke-width="0.00" stroke-linecap="round" stroke-linejoin="round" />
<path d="M469.0,233.7 L469.1,234.0 L469.1,234.3 L469.0,234.6 L468.9,234.9 L468.7,235.1 L468.5,235.3 L450.2,244.7 L449.9,244.8 L449.6,244.8 L449.3,244.8 L449.0,244.6 L448.8,244.4 L448.6,244.2 L448.6,244.2 L448.5,243.9 L448.5,243.6 L448.5,243.2 L448.7,243.0 L448.9,242.7 L449.1,242.5 L467.4,233.2 L467.7,233.1 L468.0,233.0 L468.3,233.1 L468.6,233.2 L468.8,233.4 L469.0,233.7Z" fill="#fff" stroke="none" stroke-width="0.00" stroke-linecap="round" stroke-linejoin="round" />
<path d="M486.5,259.4 L486.8,260.2 L486.9,261.0 L486.7,261.9 L486.3,262.7 L485.8,263.3 L485.1,263.8 L465.4,273.7 L464.5,274.0 L463.7,274.0 L462.8,273.9 L462.1,273.5 L461.4,272.9 L460.9,272.2 L460.5,271.4 L460.2,270.6 L460.2,269.7 L460.3,268.9 L460.7,268.1 L461.3,267.5 L462.0,267.0 L481.7,257.1 L482.5,256.8 L483.4,256.7 L484.2,256.9 L485.0,257.3 L485.6,257.8 L486.1,258.6Z" fill="#fff" stroke="none" stroke-width="0.00" stroke-linecap="round" stroke-linejoin="round" />
<path d="M481.8,253.1 L481.9,253.4 L482.0,253.7 L481.9,254.0 L481.8,254.3 L481.6,254.5 L481.3,254.7 L463.0,263.9 L462.7,264.0 L462.4,264.0 L462.1,264.0 L461.8,263.8 L461.5,263.6 L461.4,263.4 L461.4,263.4 L461.3,263.1 L461.2,262.8 L461.3,262.5 L461.4,262.2 L461.6,261.9 L461.9,261.8 L480.2,252.6 L480.5,252.5 L480.8,252.4 L481.1,252.5 L481.4,252.6 L481.7,252.8 L481.8,253.1Z" fill="#fff" stroke="none" stroke-width="0.00" stroke-linecap="round" stroke-linejoin="round" />
<path d="M497.9,274.8 L498.2,275.6 L498.2,276.4 L498.1,277.3 L497.7,278.1 L497.1,278.7 L496.4,279.2 L475.7,289.3 L474.8,289.6 L474.0,289.7 L473.1,289.5 L472.4,289.1 L471.7,288.5 L471.3,287.8 L470.8,286.9 L470.5,286.1 L470.5,285.3 L470.7,284.4 L471.0,283.7 L471.6,283.0 L472.3,282.5 L493.0,272.4 L493.9,272.1 L494.7,272.0 L495.6,272.2 L496.3,272.6 L497.0,273.2 L497.5,273.9Z" fill="#fff" stroke="none" stroke-width="0.00" stroke-linecap="round" stroke-linejoin="round" />
<path d="M499.6,281.5 L499.7,281.8 L499.7,282.1 L499.6,282.4 L499.5,282.7 L499.3,282.9 L499.0,283.1 L479.9,292.5 L479.6,292.6 L479.3,292.6 L478.9,292.6 L478.7,292.4 L478.4,292.2 L478.3,292.0 L478.3,292.0 L478.2,291.7 L478.1,291.4 L478.2,291.0 L478.3,290.8 L478.5,290.5 L478.8,290.4 L498.0,281.0 L498.3,280.9 L498.6,280.8 L498.9,280.9 L499.2,281.0 L499.4,281.3 L499.6,281.5Z" fill="#fff" stroke="none" stroke-width="0.00" stroke-linecap="round" stroke-linejoin="round" />
<path d="M510.5,295.6 L510.7,296.4 L510.8,297.3 L510.6,298.1 L510.2,298.9 L509.6,299.5 L508.8,299.9 L487.2,309.6 L486.3,309.8 L485.5,309.8 L484.6,309.6 L483.9,309.2 L483.3,308.6 L482.8,307.9 L482.4,307.0 L482.2,306.2 L482.1,305.3 L482.3,304.5 L482.7,303.7 L483.3,303.1 L484.1,302.6 L505.7,293.0 L506.6,292.7 L507.4,292.7 L508.3,292.9 L509.0,293.3 L509.6,293.9 L510.1,294.7Z" fill="#fff" stroke="none" stroke-width="0.00" stroke-linecap="round" stroke-linejoin="round" />
<path d="M511.9,302.4 L512.0,302.7 L512.0,303.0 L511.9,303.3 L511.7,303.6 L511.5,303.8 L511.3,304.0 L491.3,312.9 L491.0,313.0 L490.7,313.0 L490.4,312.9 L490.1,312.8 L489.9,312.5 L489.7,312.3 L489.7,312.3 L489.6,312.0 L489.6,311.7 L489.7,311.4 L489.8,311.1 L490.1,310.9 L490.3,310.7 L510.3,301.8 L510.6,301.7 L510.9,301.7 L511.2,301.8 L511.5,301.9 L511.7,302.1 L511.9,302.4Z" fill="#fff" stroke="none" stroke-width="0.00" stroke-linecap="round" stroke-linejoin="round" />
<path d="M521.4,317.5 L521.6,318.3 L521.6,319.2 L521.3,320.0 L520.9,320.7 L520.3,321.3 L519.5,321.8 L497.9,330.2 L497.0,330.5 L496.2,330.4 L495.4,330.2 L494.6,329.8 L494.0,329.1 L493.6,328.4 L493.2,327.5 L493.0,326.6 L493.0,325.8 L493.3,324.9 L493.7,324.2 L494.4,323.6 L495.1,323.2 L516.7,314.7 L517.6,314.5 L518.4,314.5 L519.3,314.7 L520.0,315.2 L520.6,315.8 L521.0,316.6Z" fill="#fff" stroke="none" stroke-width="0.00" stroke-linecap="round" stroke-linejoin="round" />
<path d="M522.5,324.4 L522.6,324.7 L522.5,325.0 L522.5,325.3 L522.3,325.5 L522.1,325.8 L521.8,325.9 L501.8,333.8 L501.5,333.8 L501.2,333.8 L500.9,333.7 L500.6,333.6 L500.4,333.3 L500.3,333.1 L500.3,333.1 L500.2,332.8 L500.2,332.5 L500.3,332.2 L500.4,331.9 L500.7,331.7 L500.9,331.5 L520.9,323.7 L521.2,323.6 L521.5,323.6 L521.8,323.7 L522.1,323.9 L522.3,324.1 L522.5,324.4Z" fill="#fff" stroke="none" stroke-width="0.00" stroke-linecap="round" stroke-linejoin="round" />
<path d="M531.3,339.9 L531.5,340.8 L531.4,341.6 L531.2,342.4 L530.7,343.2 L530.0,343.7 L529.3,344.1 L506.5,351.9 L505.6,352.1 L504.8,352.0 L503.9,351.7 L503.2,351.3 L502.7,350.6 L502.3,349.8 L501.9,348.9 L501.8,348.0 L501.8,347.2 L502.1,346.4 L502.6,345.6 L503.2,345.1 L504.0,344.7 L526.8,336.9 L527.7,336.8 L528.5,336.8 L529.3,337.1 L530.1,337.6 L530.6,338.2 L531.0,339.0Z" fill="#fff" stroke="none" stroke-width="0.00" stroke-linecap="round" stroke-linejoin="round" />
<path d="M532.0,346.9 L532.1,347.2 L532.1,347.5 L532.0,347.8 L531.8,348.0 L531.6,348.3 L531.3,348.4 L510.3,355.5 L510.0,355.6 L509.7,355.6 L509.4,355.5 L509.1,355.3 L508.9,355.1 L508.8,354.8 L508.8,354.8 L508.7,354.5 L508.8,354.2 L508.9,353.9 L509.0,353.6 L509.3,353.4 L509.5,353.3 L530.5,346.1 L530.8,346.1 L531.1,346.1 L531.4,346.2 L531.7,346.4 L531.9,346.6 L532.0,346.9Z" fill="#fff" stroke="none" stroke-width="0.00" stroke-linecap="round" stroke-linejoin="round" />
<path d="M539.8,362.2 L540.0,363.0 L539.9,363.9 L539.6,364.7 L539.1,365.4 L538.4,366.0 L537.6,366.3 L513.6,373.6 L512.8,373.8 L511.9,373.7 L511.1,373.4 L510.4,372.9 L509.9,372.2 L509.5,371.4 L509.2,370.5 L509.1,369.6 L509.2,368.8 L509.5,368.0 L510.0,367.3 L510.6,366.7 L511.4,366.4 L535.4,359.0 L536.3,358.9 L537.1,359.0 L537.9,359.3 L538.6,359.8 L539.2,360.5 L539.5,361.2Z" fill="#fff" stroke="none" stroke-width="0.00" stroke-linecap="round" stroke-linejoin="round" />
<path d="M540.2,369.2 L540.3,369.5 L540.2,369.8 L540.1,370.1 L539.9,370.4 L539.7,370.6 L539.4,370.7 L517.5,377.4 L517.1,377.4 L516.8,377.4 L516.5,377.3 L516.3,377.1 L516.1,376.9 L516.0,376.6 L516.0,376.6 L515.9,376.3 L515.9,376.0 L516.0,375.7 L516.2,375.4 L516.5,375.2 L516.8,375.1 L538.7,368.4 L539.0,368.3 L539.3,368.4 L539.6,368.5 L539.9,368.7 L540.1,368.9 L540.2,369.2Z" fill="#fff" stroke="none" stroke-width="0.00" stroke-linecap="round" stroke-linejoin="round" />
<path d="M547.2,383.2 L547.3,384.1 L547.2,384.9 L546.9,385.7 L546.4,386.4 L545.7,387.0 L544.9,387.3 L521.2,394.5 L520.3,394.6 L519.5,394.5 L518.6,394.2 L518.0,393.7 L517.4,393.1 L517.1,392.3 L516.8,391.3 L516.6,390.5 L516.7,389.6 L517.0,388.8 L517.5,388.1 L518.2,387.6 L519.0,387.2 L542.8,380.0 L543.6,379.9 L544.5,380.0 L545.3,380.3 L546.0,380.8 L546.5,381.5 L546.9,382.2Z" fill="#fff" stroke="none" stroke-width="0.00" stroke-linecap="round" stroke-linejoin="round" />
<path d="M547.5,390.2 L547.6,390.5 L547.6,390.8 L547.5,391.1 L547.3,391.4 L547.0,391.6 L546.7,391.7 L525.0,398.2 L524.6,398.3 L524.3,398.3 L524.0,398.2 L523.8,398.0 L523.6,397.7 L523.5,397.4 L523.5,397.4 L523.4,397.1 L523.4,396.8 L523.6,396.5 L523.7,396.3 L524.0,396.1 L524.3,395.9 L546.0,389.4 L546.4,389.3 L546.7,389.4 L547.0,389.5 L547.2,389.7 L547.4,389.9 L547.5,390.2Z" fill="#fff" stroke="none" stroke-width="0.00" stroke-linecap="round" stroke-linejoin="round" />
<path d="M553.0,404.1 L553.2,405.0 L553.1,405.8 L552.8,406.6 L552.3,407.3 L551.6,407.9 L550.8,408.2 L528.4,414.9 L527.6,415.0 L526.7,414.9 L525.9,414.6 L525.2,414.1 L524.7,413.4 L524.3,412.6 L524.1,411.7 L523.9,410.8 L524.0,410.0 L524.3,409.2 L524.8,408.5 L525.5,407.9 L526.3,407.6 L548.6,400.9 L549.5,400.8 L550.3,400.9 L551.1,401.2 L551.8,401.7 L552.4,402.4 L552.7,403.2Z" fill="#fff" stroke="none" stroke-width="0.00" stroke-linecap="round" stroke-linejoin="round" />
<path d="M553.5,411.1 L553.6,411.4 L553.6,411.7 L553.4,412.0 L553.3,412.2 L553.0,412.4 L552.7,412.5 L532.1,418.7 L531.8,418.7 L531.5,418.7 L531.2,418.6 L530.9,418.4 L530.7,418.2 L530.6,417.9 L530.6,417.9 L530.5,417.6 L530.6,417.3 L530.7,417.0 L530.9,416.7 L531.1,416.5 L531.4,416.4 L552.0,410.2 L552.3,410.2 L552.7,410.2 L553.0,410.3 L553.2,410.5 L553.4,410.8 L553.5,411.1Z" fill="#fff" stroke="none" stroke-width="0.00" stroke-linecap="round" stroke-linejoin="round" />
<path d="M559.6,424.7 L559.7,425.6 L559.6,426.4 L559.3,427.2 L558.8,427.9 L558.1,428.5 L557.3,428.8 L533.4,435.9 L532.5,436.0 L531.7,435.9 L530.9,435.6 L530.2,435.1 L529.6,434.4 L529.3,433.6 L529.0,432.7 L528.9,431.8 L529.0,431.0 L529.3,430.2 L529.8,429.5 L530.4,428.9 L531.2,428.6 L555.2,421.5 L556.1,421.4 L556.9,421.5 L557.7,421.8 L558.4,422.3 L558.9,423.0 L559.3,423.8Z" fill="#fff" stroke="none" stroke-width="0.00" stroke-linecap="round" stroke-linejoin="round" />
<path d="M559.9,431.7 L560.0,432.0 L559.9,432.3 L559.8,432.6 L559.6,432.9 L559.4,433.1 L559.1,433.2 L537.2,439.7 L536.9,439.7 L536.5,439.7 L536.3,439.6 L536.0,439.4 L535.8,439.1 L535.7,438.9 L535.7,438.9 L535.6,438.5 L535.7,438.2 L535.8,437.9 L536.0,437.7 L536.2,437.5 L536.5,437.4 L558.4,430.9 L558.7,430.9 L559.0,430.9 L559.3,431.0 L559.6,431.2 L559.8,431.4 L559.9,431.7Z" fill="#fff" stroke="none" stroke-width="0.00" stroke-linecap="round" stroke-linejoin="round" />
<path d="M559.1,447.2 L559.3,448.1 L559.2,449.0 L558.9,449.8 L558.4,450.4 L557.7,451.0 L556.9,451.3 L537.1,457.1 L536.2,457.2 L535.4,457.1 L534.6,456.8 L533.9,456.3 L533.3,455.6 L533.0,454.8 L532.8,454.0 L532.6,453.2 L532.7,452.3 L533.0,451.5 L533.6,450.8 L534.2,450.3 L535.0,450.0 L554.8,444.2 L555.7,444.1 L556.5,444.2 L557.3,444.5 L558.0,445.0 L558.6,445.7 L558.9,446.4Z" fill="#fff" stroke="none" stroke-width="0.00" stroke-linecap="round" stroke-linejoin="round" />
<path d="M559.9,454.1 L559.9,454.4 L559.9,454.7 L559.8,455.0 L559.6,455.3 L559.3,455.5 L559.0,455.6 L540.4,461.0 L540.1,461.1 L539.8,461.0 L539.5,460.9 L539.3,460.7 L539.1,460.5 L539.0,460.2 L539.0,460.2 L538.9,459.9 L538.9,459.6 L539.1,459.3 L539.2,459.0 L539.5,458.8 L539.8,458.7 L558.4,453.3 L558.7,453.3 L559.0,453.3 L559.3,453.4 L559.5,453.6 L559.7,453.8 L559.9,454.1Z" fill="#fff" stroke="none" stroke-width="0.00" stroke-linecap="round" stroke-linejoin="round" />
<path d="M557.9,469.8 L558.0,470.7 L557.9,471.5 L557.6,472.3 L557.1,473.0 L556.4,473.6 L555.6,473.9 L540.3,478.3 L539.4,478.5 L538.6,478.4 L537.8,478.0 L537.1,477.5 L536.6,476.9 L536.2,476.1 L536.1,475.5 L535.9,474.7 L536.0,473.8 L536.3,473.0 L536.8,472.3 L537.5,471.8 L538.3,471.5 L553.6,467.0 L554.5,466.9 L555.4,467.0 L556.2,467.3 L556.8,467.8 L557.4,468.5 L557.7,469.3Z" fill="#fff" stroke="none" stroke-width="0.00" stroke-linecap="round" stroke-linejoin="round" />
<path d="M559.0,476.6 L559.1,476.9 L559.0,477.2 L558.9,477.5 L558.7,477.7 L558.5,477.9 L558.2,478.1 L543.2,482.4 L542.9,482.4 L542.6,482.4 L542.3,482.3 L542.0,482.1 L541.8,481.9 L541.7,481.6 L541.7,481.6 L541.6,481.3 L541.7,480.9 L541.8,480.7 L542.0,480.4 L542.2,480.2 L542.5,480.1 L557.6,475.8 L557.9,475.7 L558.2,475.7 L558.5,475.9 L558.7,476.0 L558.9,476.3 L559.0,476.6Z" fill="#fff" stroke="none" stroke-width="0.00" stroke-linecap="round" stroke-linejoin="round" />
<path d="M555.1,491.5 L555.2,492.4 L555.2,493.2 L554.9,494.0 L554.4,494.7 L553.7,495.3 L552.9,495.6 L539.6,499.7 L538.8,499.8 L537.9,499.8 L537.1,499.5 L536.4,499.0 L535.9,498.3 L535.5,497.5 L535.4,497.1 L535.3,496.2 L535.3,495.4 L535.6,494.6 L536.1,493.9 L536.8,493.3 L537.6,493.0 L550.8,488.9 L551.7,488.8 L552.6,488.9 L553.4,489.2 L554.1,489.7 L554.6,490.3 L555.0,491.1Z" fill="#fff" stroke="none" stroke-width="0.00" stroke-linecap="round" stroke-linejoin="round" />
<path d="M556.6,498.2 L556.6,498.5 L556.6,498.8 L556.5,499.1 L556.3,499.4 L556.0,499.6 L555.8,499.7 L542.4,503.8 L542.1,503.8 L541.8,503.8 L541.5,503.7 L541.2,503.5 L541.0,503.3 L540.9,503.0 L540.9,503.0 L540.8,502.7 L540.9,502.4 L541.0,502.1 L541.2,501.8 L541.4,501.6 L541.7,501.5 L555.1,497.4 L555.4,497.3 L555.7,497.4 L556.0,497.5 L556.2,497.7 L556.4,497.9 L556.6,498.2Z" fill="#fff" stroke="none" stroke-width="0.00" stroke-linecap="round" stroke-linejoin="round" />
<path d="M551.4,512.3 L551.6,513.2 L551.5,514.0 L551.2,514.9 L550.7,515.6 L550.1,516.1 L549.3,516.5 L536.1,520.9 L535.3,521.0 L534.4,521.0 L533.6,520.7 L532.9,520.2 L532.4,519.5 L532.0,518.8 L531.8,518.4 L531.7,517.5 L531.7,516.6 L532.0,515.8 L532.5,515.1 L533.2,514.6 L533.9,514.2 L547.1,509.8 L547.9,509.7 L548.8,509.7 L549.6,510.0 L550.3,510.5 L550.9,511.2 L551.3,511.9Z" fill="#fff" stroke="none" stroke-width="0.00" stroke-linecap="round" stroke-linejoin="round" />
<path d="M553.0,519.0 L553.1,519.3 L553.1,519.6 L552.9,519.9 L552.8,520.1 L552.5,520.3 L552.3,520.5 L539.0,524.9 L538.7,524.9 L538.4,524.9 L538.1,524.8 L537.8,524.6 L537.6,524.4 L537.5,524.1 L537.5,524.1 L537.4,523.8 L537.4,523.5 L537.5,523.2 L537.7,522.9 L538.0,522.7 L538.2,522.6 L551.5,518.2 L551.8,518.1 L552.1,518.2 L552.4,518.3 L552.7,518.4 L552.9,518.7 L553.0,519.0Z" fill="#fff" stroke="none" stroke-width="0.00" stroke-linecap="round" stroke-linejoin="round" />
<path d="M544.2,532.2 L544.4,533.0 L544.4,533.9 L544.2,534.7 L543.7,535.4 L543.1,536.0 L542.4,536.4 L530.4,541.2 L529.5,541.4 L528.7,541.4 L527.9,541.2 L527.1,540.7 L526.5,540.1 L526.1,539.4 L526.0,539.1 L525.8,538.3 L525.8,537.4 L526.0,536.6 L526.5,535.9 L527.1,535.3 L527.8,534.8 L539.8,530.1 L540.7,529.9 L541.5,529.9 L542.4,530.1 L543.1,530.5 L543.7,531.2 L544.1,531.9Z" fill="#fff" stroke="none" stroke-width="0.00" stroke-linecap="round" stroke-linejoin="round" />
<path d="M546.3,538.6 L546.4,538.9 L546.4,539.3 L546.3,539.6 L546.1,539.8 L545.9,540.1 L545.6,540.2 L533.4,545.1 L533.1,545.2 L532.8,545.2 L532.5,545.1 L532.2,544.9 L532.0,544.7 L531.8,544.4 L531.8,544.4 L531.7,544.1 L531.7,543.8 L531.8,543.5 L532.0,543.2 L532.2,543.0 L532.5,542.9 L544.7,538.0 L545.0,537.9 L545.4,537.9 L545.7,538.0 L545.9,538.1 L546.2,538.4 L546.3,538.6Z" fill="#fff" stroke="none" stroke-width="0.00" stroke-linecap="round" stroke-linejoin="round" />
<path d="M535.3,550.0 L535.6,550.8 L535.6,551.6 L535.5,552.5 L535.1,553.3 L534.6,553.9 L533.9,554.4 L522.1,560.6 L521.3,560.9 L520.5,560.9 L519.6,560.8 L518.9,560.4 L518.2,559.9 L517.7,559.2 L517.5,558.9 L517.2,558.1 L517.2,557.2 L517.3,556.4 L517.7,555.6 L518.2,554.9 L518.9,554.4 L530.6,548.3 L531.5,548.0 L532.3,547.9 L533.2,548.0 L533.9,548.4 L534.6,549.0 L535.1,549.7Z" fill="#fff" stroke="none" stroke-width="0.00" stroke-linecap="round" stroke-linejoin="round" />
<path d="M538.0,556.2 L538.1,556.5 L538.1,556.8 L538.1,557.1 L537.9,557.4 L537.7,557.7 L537.5,557.8 L525.6,564.1 L525.3,564.2 L524.9,564.2 L524.6,564.2 L524.4,564.0 L524.1,563.8 L523.9,563.6 L523.9,563.6 L523.8,563.3 L523.8,563.0 L523.9,562.7 L524.0,562.4 L524.2,562.2 L524.4,562.0 L536.4,555.7 L536.7,555.6 L537.0,555.6 L537.3,555.6 L537.6,555.8 L537.8,556.0 L538.0,556.2Z" fill="#fff" stroke="none" stroke-width="0.00" stroke-linecap="round" stroke-linejoin="round" />
<ellipse cx="509.5" cy="579.5" rx="10.0" ry="6.0" transform="rotate(-36 509.5 579.5)"/>
<ellipse cx="491.0" cy="594.5" rx="8.0" ry="4.6" transform="rotate(-36 491.0 594.5)"/>
<path d="M483.0,600.5 L492.0,595.5 L508.0,582.0 L519.0,573.0" fill="none" stroke="#000" stroke-width="4.00" stroke-linecap="round" stroke-linejoin="round" />
<path d="M508.9,523.0 L507.6,527.3 L506.2,531.5 L504.7,535.5 L503.1,539.5 L501.4,543.3 L499.6,547.1 L497.7,550.7 L495.6,554.1 L493.5,557.5 L491.2,560.7 L488.9,563.9 L486.5,566.9 L484.0,569.8 L481.4,572.5 L478.7,575.1 L475.9,577.6 L473.0,579.9 L470.1,582.1 L467.0,584.1 L463.8,586.0 L460.6,587.7 L457.2,589.2 L453.8,590.6 L450.3,591.8 L446.7,592.9 L443.0,593.8 L439.3,594.6 L435.5,595.2 L431.7,595.6 L427.7,595.9 L423.7,596.0 L419.7,595.9 L415.6,595.7 L411.5,595.3 L407.3,594.7 L403.0,594.0 L398.8,593.4 L394.6,592.7 L390.3,591.8 L386.0,590.8 L381.7,589.7 L377.3,588.4 L372.9,586.9 L368.5,585.8 L364.0,584.4 L359.6,583.0 L355.1,581.3 L350.5,579.6 L345.9,577.7 L341.3,575.7 L336.7,573.5 L332.0,571.2 L327.3,568.7 L322.6,565.4 L318.0,562.0 L313.3,558.5 L308.7,554.8 L304.1,551.0 L299.6,547.1 L295.0,543.0 L290.5,538.8 L286.1,534.5 L281.6,530.1 L277.3,525.6 L272.9,521.0 L268.6,516.2 L264.4,511.4 L260.2,506.4 L256.1,501.4 L252.1,496.3 L248.1,491.1 L244.1,485.8 L240.3,480.5 L236.5,475.0 L232.8,469.5 L229.2,463.9 L225.6,458.3 L222.2,452.6 L218.8,446.8 L215.5,441.0 L212.2,435.2 L209.0,429.4 L205.9,423.5 L202.9,417.5 L200.0,411.5 L197.2,405.5" fill="none" stroke="#000" stroke-width="2.30" stroke-linecap="round" stroke-linejoin="round" />
<path d="M197.2,405.5 L194.5,399.5 L191.9,393.4 L189.4,387.3 L187.3,381.2 L185.5,375.1 L183.7,369.1 L182.1,363.0 L180.5,357.0 L179.1,351.1 L177.8,345.1 L176.5,339.2 L175.2,333.3 L174.1,327.5 L173.1,321.7 L172.2,316.0 L171.5,310.3 L170.7,304.6 L169.9,298.9 L169.2,293.2 L168.6,287.6 L168.2,282.1 L167.9,276.6 L167.7,271.1 L167.6,265.8 L167.7,260.5 L167.9,255.3 L168.1,250.1 L168.4,244.9 L168.9,239.9 L169.4,234.9 L170.1,230.0 L171.0,225.3 L171.9,220.6 L173.3,216.3 L174.8,212.1 L176.4,208.0 L178.1,204.1 L179.9,200.2 L181.8,196.5 L183.9,193.0 L186.0,189.5 L188.3,186.2 L190.6,183.1" fill="none" stroke="#000" stroke-width="3.20" stroke-linecap="round" stroke-linejoin="round" />
<path d="M190.6,183.1 L192.9,179.9 L195.3,176.8 L197.8,173.9 L200.5,171.2 L203.2,168.5 L206.0,166.0 L208.9,163.7 L211.8,161.5 L214.9,159.4 L218.1,157.5 L221.3,155.7 L224.7,154.1 L228.1,152.6 L231.5,151.3 L235.1,150.1 L238.8,149.1 L242.5,148.3 L246.2,147.6 L250.1,147.0 L254.0,146.6 L257.9,146.4 L262.0,146.3 L266.0,146.4 L270.2,146.6 L274.4,147.0 L278.6,147.5 L282.8,148.2 L287.2,149.0 L291.5,150.0 L295.9,151.2 L300.3,152.5 L304.7,153.9 L309.2,155.5 L313.7,157.3 L318.2,159.2 L322.7,161.2 L327.3,163.4 L331.8,165.7 L336.4,168.2 L340.9,170.8 L345.5,173.6 L350.0,176.5 L354.6,179.5 L359.1,182.7 L363.7,186.0 L368.2,189.4 L372.7,192.9 L377.2,196.6 L381.6,200.4 L386.0,204.3 L390.4,208.3 L394.8,212.4 L399.1,216.7 L403.4,221.0 L407.7,225.5 L411.9,230.1 L416.0,234.7 L420.1,239.5 L424.2,244.3 L428.2,249.2 L432.1,254.2 L436.0,259.3 L439.8,264.5 L443.5,269.8 L447.2,275.1 L450.8,280.5 L454.3,285.9 L457.8,291.4 L461.1,297.0 L464.4,302.6 L467.6,308.3 L470.7,314.0 L473.8,319.7 L476.7,325.5 L479.5,331.3 L482.3,337.2 L484.9,343.1 L487.5,349.0 L490.0,354.9 L492.3,360.8 L494.6,366.7 L496.7,372.7 L498.8,378.6 L500.7,384.5 L502.5,390.4 L504.2,396.4 L505.8,402.2 L507.3,408.1 L508.7,414.0 L510.0,419.8 L511.0,425.6 L512.0,431.3 L512.8,437.0 L513.5,442.6 L514.1,448.2 L514.6,453.7 L514.9,459.1 L515.2,464.5 L515.3,469.9 L515.3,475.1 L515.2,480.3 L515.0,485.4 L514.6,490.4 L514.1,495.3 L513.5,500.2 L512.8,504.9 L512.0,509.6 L511.1,514.2 L510.0,518.6 L508.9,523.0" fill="none" stroke="#000" stroke-width="2.30" stroke-linecap="round" stroke-linejoin="round" />
<path d="M428.6,594.9 L424.7,594.8 L420.7,594.5 L416.8,594.1 L412.7,593.6 L408.7,592.8 L404.6,592.0 L400.4,591.0 L396.3,590.2 L392.2,589.2 L388.1,588.0 L383.9,586.8 L379.8,585.3 L375.5,583.7 L371.1,582.2 L366.8,580.7 L362.6,579.2 L358.3,577.4 L354.0,575.6 L349.7,573.6 L345.3,571.4 L340.9,569.3 L336.4,567.0 L332.1,564.7 L327.9,561.8 L323.6,558.5 L319.1,555.0 L314.7,551.4 L310.3,547.7 L306.0,543.8 L301.6,539.9 L297.3,535.8 L293.1,531.5 L288.8,527.2 L284.6,522.8 L280.3,518.4 L276.1,513.8 L272.0,509.2 L267.9,504.4 L263.8,499.6 L259.8,494.6 L255.9,489.6 L252.0,484.5 L248.2,479.3 L244.4,474.1 L240.7,468.8 L237.1,463.3" fill="none" stroke="#000" stroke-width="1.90" stroke-linecap="round" stroke-linejoin="round" />
<path d="M225.2,445.2 L221.6,439.5 L218.1,433.8 L214.7,428.1 L211.4,422.3 L208.1,416.5 L205.0,410.6 L202.0,404.7 L199.1,398.8 L196.4,392.7 L193.8,386.8 L191.6,380.8 L189.6,374.8 L187.8,368.7 L186.0,362.7 L184.3,356.7 L182.8,350.8 L181.4,344.8 L179.9,338.9 L178.6,333.0 L177.3,327.2 L176.3,321.4 L175.4,315.6 L174.5,309.9 L173.7,304.1 L172.9,298.4 L172.1,292.7 L171.5,287.1 L171.1,281.6 L170.7,276.1 L170.5,270.7 L170.4,265.3 L170.4,260.0 L170.5,254.8 L170.8,249.6" fill="none" stroke="#000" stroke-width="1.90" stroke-linecap="round" stroke-linejoin="round" />
<path d="M291.8,178.8 C294.1,178.6 293.0,178.1 299.0,181.0 C305.0,183.9 318.3,190.9 328.0,196.0 C337.7,201.1 350.7,207.1 357.0,211.4 C363.3,215.7 363.9,217.2 365.8,221.6 C367.8,226.0 369.4,233.1 368.7,237.6 C368.0,242.1 364.3,247.5 361.4,248.5 C358.5,249.5 357.6,246.7 351.3,243.4 C345.0,240.1 333.4,233.3 323.7,228.5 C314.0,223.7 299.7,218.6 293.2,214.3 C286.7,210.1 286.3,206.9 284.5,203.0 C282.7,199.1 282.1,194.5 282.3,191.0 C282.5,187.5 283.9,184.0 285.5,182.0 C287.1,180.0 289.6,179.0 291.8,178.8Z" fill="#fff" stroke="#000" stroke-width="2.60" stroke-linecap="round" stroke-linejoin="round" />
<path d="M288.9,185.3 C289.0,186.8 289.2,191.2 289.8,194.0 C290.4,196.8 290.8,199.9 292.3,202.3 C293.8,204.7 295.1,206.1 299.0,208.5 C302.9,210.9 310.2,213.8 316.0,216.5 C321.8,219.2 330.9,223.2 333.9,224.5" fill="none" stroke="#000" stroke-width="1.70" stroke-linecap="round" stroke-linejoin="round" />
<path d="M342.6,230.3 C344.2,231.2 348.9,233.8 352.0,235.5 C355.1,237.2 359.8,239.7 361.4,240.5" fill="none" stroke="#000" stroke-width="1.70" stroke-linecap="round" stroke-linejoin="round" />
<path d="M305.6,498.5 C307.5,498.1 307.4,496.9 314.0,499.6 C320.6,502.4 335.0,509.8 345.0,515.0 C355.0,520.2 368.0,526.6 374.0,530.6 C380.0,534.6 378.9,535.1 380.8,539.0 C382.8,542.9 385.3,550.2 385.7,554.0 C386.1,557.8 384.6,560.2 383.4,562.0 C382.1,563.8 381.2,565.4 378.2,564.8 C375.2,564.2 371.8,561.8 365.4,558.4 C359.0,555.0 348.6,549.1 340.0,544.5 C331.4,539.9 319.5,533.6 314.0,530.6 C308.5,527.6 309.0,528.4 307.2,526.3 C305.4,524.2 304.0,520.9 303.0,518.0 C302.0,515.1 301.4,511.9 301.3,509.2 C301.2,506.5 301.8,503.8 302.5,502.0 C303.2,500.2 303.7,498.9 305.6,498.5Z" fill="#fff" stroke="#000" stroke-width="2.60" stroke-linecap="round" stroke-linejoin="round" />
<path d="M307.7,505.0 C307.9,506.5 308.1,511.2 308.6,514.0 C309.2,516.8 309.0,519.6 311.0,522.0 C313.0,524.4 317.0,526.5 320.5,528.5 C324.0,530.5 328.1,532.2 332.0,534.0 C335.9,535.8 342.0,538.2 344.0,539.0" fill="none" stroke="#000" stroke-width="1.70" stroke-linecap="round" stroke-linejoin="round" />
<path d="M348.3,542.4 C350.6,543.4 357.4,546.5 362.0,548.5 C366.6,550.5 373.7,553.5 376.0,554.5" fill="none" stroke="#000" stroke-width="1.70" stroke-linecap="round" stroke-linejoin="round" />
<path d="M188.2,279.0 C188.6,274.4 188.7,274.1 190.0,272.5 C191.3,270.9 193.7,269.8 196.0,269.5 C198.3,269.2 201.5,269.6 204.0,271.0 C206.5,272.4 208.9,274.8 211.0,278.0 C213.1,281.2 215.2,284.7 216.3,290.0 C217.4,295.3 217.2,303.0 217.4,310.0 C217.7,317.0 218.2,326.7 217.8,332.0 C217.4,337.3 216.7,339.4 215.2,342.0 C213.7,344.6 211.0,347.2 209.0,347.5 C207.0,347.8 205.2,346.1 203.0,344.0 C200.8,341.9 198.3,338.3 196.0,335.0 C193.7,331.7 190.4,329.8 189.0,324.0 C187.6,318.2 187.7,307.5 187.6,300.0 C187.5,292.5 187.8,283.6 188.2,279.0Z" fill="#fff" stroke="#000" stroke-width="2.80" stroke-linecap="round" stroke-linejoin="round" />
<path d="M194.3,273.5 C194.4,277.6 194.5,289.9 194.6,298.0 C194.7,306.1 194.0,316.2 194.9,322.0 C195.8,327.8 198.2,329.2 200.0,332.5 C201.8,335.8 205.0,340.0 206.0,341.5" fill="none" stroke="#000" stroke-width="1.70" stroke-linecap="round" stroke-linejoin="round" />
<path d="M470.3,426.6 C470.8,422.0 469.8,419.9 471.3,417.5 C472.8,415.1 476.5,412.3 479.4,412.0 C482.3,411.7 485.9,413.7 488.5,415.5 C491.1,417.3 493.3,419.6 495.0,423.0 C496.7,426.4 498.1,430.3 498.6,435.8 C499.1,441.3 498.2,449.3 497.8,456.0 C497.4,462.7 496.8,471.1 495.9,476.0 C495.0,480.9 494.2,483.2 492.5,485.5 C490.8,487.8 488.0,489.5 485.8,489.8 C483.6,490.1 481.3,488.6 479.5,487.5 C477.7,486.4 476.6,485.6 474.8,483.4 C473.1,481.1 470.2,477.4 469.0,474.0 C467.8,470.6 467.6,468.1 467.5,463.3 C467.4,458.5 468.1,451.1 468.6,445.0 C469.1,438.9 469.9,431.2 470.3,426.6Z" fill="#fff" stroke="#000" stroke-width="2.80" stroke-linecap="round" stroke-linejoin="round" />
<path d="M475.7,419.3 C475.4,422.9 474.4,433.7 473.8,441.0 C473.2,448.3 471.4,457.7 472.0,463.3 C472.6,468.9 475.4,471.1 477.5,474.5 C479.6,477.9 483.7,481.9 484.9,483.4" fill="none" stroke="#000" stroke-width="1.70" stroke-linecap="round" stroke-linejoin="round" />
<path d="M381.3,492.0 L378.6,492.3 L375.8,492.4 L373.0,492.4 L370.1,492.2 L367.2,492.0 L364.3,491.5 L361.3,491.0 L358.3,490.3 L355.2,489.4 L352.2,488.5 L349.1,487.4 L346.0,486.1 L342.9,484.8 L339.8,483.3 L336.7,481.6 L333.6,479.9 L330.5,478.0 L327.4,476.0 L324.3,473.9 L321.2,471.7 L318.1,469.3 L315.1,466.9 L312.1,464.3 L309.1,461.7 L306.2,458.9 L303.3,456.0 L300.4,453.1 L297.6,450.0 L294.8,446.9 L292.1,443.7 L289.5,440.4 L286.9,437.0 L284.3,433.5 L281.8,430.0 L279.4,426.4 L277.1,422.8 L274.8,419.1 L272.6,415.4 L270.5,411.6 L268.5,407.8 L266.5,403.9 L264.6,400.0 L262.9,396.1 L261.2,392.2 L259.6,388.2 L258.1,384.2 L256.7,380.3 L255.4,376.3 L254.2,372.3 L253.1,368.4 L252.1,364.4 L251.2,360.5 L250.4,356.5 L249.7,352.7 L249.1,348.8 L248.6,345.0 L248.3,341.2 L248.0,337.5 L247.8,333.8 L247.8,330.2 L247.9,326.6 L248.0,323.1 L248.3,319.6 L248.7,316.3 L249.2,313.0 L249.8,309.8 L250.5,306.6 L251.4,303.6 L252.3,300.7 L253.3,297.8 L254.4,295.0 L255.7,292.4" fill="none" stroke="#000" stroke-width="4.40" stroke-linecap="round" stroke-linejoin="round" />
<path d="M255.7,292.4 L257.0,289.8 L258.4,287.4 L259.9,285.1 L261.5,282.8 L263.2,280.7 L265.0,278.8 L266.9,276.9 L268.9,275.2 L270.9,273.6 L273.1,272.1 L275.3,270.7 L277.6,269.5 L279.9,268.4 L282.3,267.5 L284.8,266.6 L287.4,266.0 L290.0,265.4 L292.7,265.0 L295.4,264.7 L298.2,264.6 L301.0,264.6" fill="none" stroke="#000" stroke-width="3.40" stroke-linecap="round" stroke-linejoin="round" />
<path d="M301.0,264.6 L303.9,264.8 L306.9,265.1 L309.9,265.5 L312.9,266.1 L315.9,266.8 L319.0,267.6 L322.1,268.6 L325.3,269.8 L328.4,271.0 L331.5,272.4 L334.7,274.0 L337.8,275.6 L341.0,277.4 L344.2,279.4 L347.3,281.4 L350.4,283.6 L353.5,285.9 L356.6,288.3" fill="none" stroke="#000" stroke-width="2.40" stroke-linecap="round" stroke-linejoin="round" />
<path d="M367.1,297.4 L370.0,300.3 L372.9,303.2 L375.8,306.3 L378.6,309.4 L381.3,312.7 L384.0,316.0 L386.7,319.4 L389.2,322.8 L391.8,326.4 L394.2,330.0 L396.6,333.6 L398.9,337.4 L401.1,341.1 L403.2,344.9 L405.3,348.8 L407.3,352.7 L409.2,356.6 L411.0,360.5 L412.7,364.5 L414.3,368.5 L415.8,372.5 L417.2,376.5 L418.6,380.5 L419.8,384.5 L420.9,388.5 L421.9,392.5 L422.8,396.5 L423.6,400.5" fill="none" stroke="#000" stroke-width="2.60" stroke-linecap="round" stroke-linejoin="round" />
<path d="M425.8,416.7 L426.1,420.5 L426.2,424.3 L426.2,428.0 L426.1,431.6 L425.9,435.2 L425.5,438.7 L425.1,442.1 L424.5,445.4 L423.9,448.7 L423.1,451.8 L422.2,454.9 L421.2,457.9 L420.1,460.7 L418.9,463.5 L417.6,466.2 L416.1,468.7 L414.6,471.1 L413.0,473.4 L411.3,475.6 L409.5,477.7 L407.6,479.6 L405.6,481.4 L403.5,483.1 L401.3,484.7 L399.1,486.1 L396.8,487.3 L394.4,488.5 L391.9,489.5 L389.3,490.3 L386.7,491.0 L384.1,491.6 L381.3,492.0" fill="none" stroke="#000" stroke-width="2.60" stroke-linecap="round" stroke-linejoin="round" />
<path d="M263.9,374.6 L262.9,371.0 L262.0,367.5 L261.2,363.9 L260.5,360.4 L259.8,356.9 L259.3,353.4 L258.9,349.9 L258.5,346.5 L258.3,343.1 L258.1,339.8 L258.1,336.5 L258.1,333.3 L258.2,330.1 L258.5,327.0" fill="none" stroke="#000" stroke-width="2.00" stroke-linecap="round" stroke-linejoin="round" />
<path d="M258.5,327.0 L258.8,323.9 L259.2,321.0 L259.7,318.0 L260.3,315.2 L261.0,312.4 L261.8,309.8 L262.7,307.2 L263.7,304.7 L264.8,302.3 L265.9,299.9 L267.2,297.7 L268.5,295.6 L269.9,293.6 L271.4,291.7 L273.0,289.9 L274.7,288.2 L276.4,286.7 L278.2,285.2 L280.1,283.9 L282.1,282.6 L284.1,281.5 L286.2,280.5 L288.3,279.7 L290.5,278.9 L292.8,278.3 L295.1,277.8 L297.5,277.5 L299.9,277.2 L302.3,277.1 L304.8,277.1 L307.4,277.3 L310.0,277.6 L312.6,277.9 L315.2,278.5 L317.9,279.1 L320.6,279.9 L323.3,280.8 L326.0,281.8 L328.8,282.9 L331.5,284.2 L334.3,285.5 L337.1,287.0 L339.8,288.6 L342.6,290.3 L345.3,292.1 L348.1,294.1 L350.8,296.1 L353.5,298.2 L356.2,300.5 L358.9,302.8 L361.5,305.3 L364.1,307.8 L366.7,310.4 L369.3,313.1 L371.8,315.9 L374.2,318.7 L376.6,321.7 L379.0,324.7 L381.3,327.7 L383.6,330.9 L385.8,334.1 L387.9,337.3 L390.0,340.6 L392.0,344.0 L394.0,347.4 L395.9,350.8 L397.7,354.3 L399.4,357.8 L401.1,361.3 L402.6,364.9 L404.1,368.5 L405.5,372.1 L406.9,375.7 L408.1,379.3 L409.3,382.9 L410.3,386.5 L411.3,390.1 L412.2,393.6 L413.0,397.2 L413.7,400.8 L414.3,404.3 L414.8,407.8 L415.2,411.2 L415.6,414.6 L415.8,418.0 L415.9,421.3 L415.9,424.6 L415.9,427.9 L415.7,431.0 L415.5,434.1 L415.1,437.2 L414.7,440.1 L414.1,443.0 L413.5,445.8 L412.7,448.6 L411.9,451.2 L411.0,453.8 L410.0,456.3 L408.9,458.6 L407.7,460.9 L406.4,463.1 L405.1,465.2 L403.6,467.2 L402.1,469.0 L400.5,470.8 L398.8,472.5 L397.1,474.0 L395.2,475.4 L393.3,476.7 L391.4,477.9 L389.3,479.0 L387.2,479.9 L385.0,480.8 L382.8,481.5 L380.5,482.0 L378.2,482.5 L375.8,482.8 L373.4,483.0 L370.9,483.1 L368.4,483.0 L365.8,482.9 L363.3,482.5 L360.6,482.1 L358.0,481.6 L355.3,480.9 L352.6,480.1 L349.9,479.2 L347.2,478.1 L344.4,476.9 L341.6,475.6 L338.9,474.2 L336.1,472.7 L333.4,471.1 L330.6,469.3 L327.8,467.5 L325.1,465.5 L322.4,463.5 L319.7,461.3 L317.0,459.0 L314.3,456.7 L311.7,454.2 L309.1,451.7 L306.5,449.0 L304.0,446.3 L301.5,443.5 L299.0,440.6 L296.6,437.7 L294.3,434.6 L292.0,431.5 L289.8,428.4 L287.6,425.2" fill="none" stroke="#000" stroke-width="2.40" stroke-linecap="round" stroke-linejoin="round" />
<path d="M269.7,341.9 L269.5,339.0 L269.3,336.1 L269.2,333.2 L269.2,330.4 L269.3,327.7 L269.4,325.0 L269.7,322.4 L270.0,319.9 L270.5,317.4 L271.0,315.0 L271.6,312.7 L272.3,310.5 L273.1,308.3 L273.9,306.3 L274.8,304.3 L275.9,302.4 L277.0,300.7 L278.1,299.0 L279.4,297.4 L280.7,295.9 L282.1,294.5 L283.6,293.3 L285.1,292.1 L286.7,291.0 L288.4,290.1 L290.1,289.2 L291.9,288.5 L293.8,287.9 L295.7,287.4 L297.7,287.0 L299.7,286.7 L301.8,286.5 L303.9,286.5 L306.1,286.5" fill="none" stroke="#000" stroke-width="2.60" stroke-linecap="round" stroke-linejoin="round" />
<path d="M370.7,328.2 L372.9,331.0 L375.1,333.8 L377.2,336.6 L379.2,339.5 L381.2,342.5 L383.2,345.5 L385.0,348.5 L386.9,351.6 L388.7,354.7 L390.4,357.8 L392.0,360.9 L393.6,364.1 L395.1,367.3 L396.6,370.5 L398.0,373.7 L399.3,377.0 L400.5,380.2 L401.7,383.4 L402.7,386.6 L403.7,389.8 L404.7,393.0 L405.5,396.2 L406.2,399.3 L406.9,402.4 L407.5,405.5 L408.0,408.6 L408.4,411.6 L408.7,414.5 L409.0,417.5 L409.1,420.4 L409.2,423.2 L409.2,425.9 L409.1,428.6 L408.9,431.3 L408.6,433.9 L408.2,436.4 L407.8,438.8 L407.3,441.2 L406.6,443.4 L405.9,445.6 L405.1,447.8 L404.3,449.8 L403.3,451.7 L402.3,453.6 L401.2,455.3 L400.0,457.0 L398.7,458.5" fill="none" stroke="#000" stroke-width="4.20" stroke-linecap="round" stroke-linejoin="round" />
<path d="M368.0,469.9 L365.9,469.8 L363.7,469.6 L361.5,469.3 L359.2,468.9 L356.9,468.4 L354.7,467.7 L352.3,467.0 L350.0,466.2 L347.7,465.3 L345.3,464.2 L343.0,463.1 L340.6,461.9 L338.2,460.6 L335.9,459.2 L333.5,457.7 L331.1,456.1 L328.8,454.4 L326.5,452.6 L324.1,450.8 L321.8,448.8 L319.6,446.8 L317.3,444.7 L315.1,442.6 L312.9,440.3 L310.7,438.0 L308.6,435.6 L306.5,433.2 L304.4,430.7 L302.4,428.1 L300.4,425.5 L298.5,422.9 L296.6,420.2 L294.8,417.4 L293.0,414.6 L291.3,411.8 L289.7,408.9 L288.1,406.0 L286.5,403.1 L285.1,400.2 L283.7,397.2 L282.3,394.2 L281.1,391.2 L279.9,388.2 L278.7,385.2 L277.7,382.2 L276.7,379.2 L275.8,376.2 L275.0,373.2 L274.2,370.2 L273.6,367.2 L273.0,364.3 L272.5,361.4 L272.1,358.5 L271.7,355.6 L271.5,352.8 L271.3,350.0 L271.2,347.2 L271.2,344.5 L271.2,341.8 L271.4,339.2 L271.6,336.7 L271.9,334.2 L272.3,331.7 L272.8,329.3 L273.4,327.0 L274.0,324.8 L274.7,322.6 L275.5,320.5 L276.4,318.5 L277.3,316.6 L278.4,314.7 L279.5,312.9 L280.6,311.2 L281.9,309.6 L283.2,308.1 L284.6,306.7 L286.0,305.4 L287.5,304.2 L289.1,303.0 L290.7,302.0 L292.4,301.1 L294.2,300.2 L296.0,299.5 L297.8,298.9 L299.8,298.3 L301.7,297.9 L303.7,297.6 L305.8,297.4 L307.8,297.3 L310.0,297.3 L312.1,297.4 L314.3,297.6 L316.5,297.9 L318.8,298.3 L321.1,298.8 L323.3,299.5 L325.7,300.2 L328.0,301.0 L330.3,301.9 L332.7,303.0 L335.0,304.1 L337.4,305.3 L339.8,306.6 L342.1,308.0 L344.5,309.5 L346.9,311.1 L349.2,312.8 L351.5,314.6 L353.9,316.4 L356.2,318.4 L358.4,320.4 L360.7,322.5 L362.9,324.6 L365.1,326.9 L367.3,329.2 L369.4,331.6 L371.5,334.0 L373.6,336.5 L375.6,339.1 L377.6,341.7 L379.5,344.3 L381.4,347.0 L383.2,349.8 L385.0,352.6 L386.7,355.4 L388.3,358.3 L389.9,361.2 L391.5,364.1 L392.9,367.0 L394.3,370.0 L395.7,373.0 L396.9,376.0 L398.1,379.0 L399.3,382.0 L400.3,385.0 L401.3,388.0 L402.2,391.0 L403.0,394.0 L403.8,397.0 L404.4,400.0" fill="none" stroke="#000" stroke-width="2.60" stroke-linecap="round" stroke-linejoin="round" />
<path d="M406.8,421.4 L406.8,424.1 L406.7,426.8 L406.5,429.4 L406.2,431.9 L405.9,434.4 L405.4,436.9 L404.9,439.2 L404.3,441.5 L403.6,443.8 L402.8,445.9 L401.9,448.0 L401.0,450.0 L400.0,451.9 L398.9,453.7 L397.7,455.5 L396.5,457.1 L395.2,458.7 L393.8,460.1 L392.3,461.5 L390.8,462.8 L389.2,463.9 L387.6,465.0 L385.9,466.0 L384.1,466.8 L382.3,467.6 L380.4,468.2 L378.5,468.8 L376.5,469.2 L374.5,469.6 L372.4,469.8 L370.3,469.9 L368.2,469.9 L366.0,469.8 L363.8,469.6 L361.5,469.3 L359.3,468.9 L356.9,468.4" fill="none" stroke="#000" stroke-width="4.20" stroke-linecap="round" stroke-linejoin="round" />
<path d="M300.0,286.4 C302.5,286.6 310.0,286.7 315.0,287.6 C320.0,288.5 325.0,289.5 330.0,292.0 C335.0,294.5 340.2,298.4 345.0,302.5 C349.8,306.6 354.1,311.3 359.0,316.5 C363.9,321.7 371.9,330.7 374.5,333.5 L367.0,329.5 C364.6,327.6 356.8,321.3 352.5,318.0 C348.2,314.7 344.8,312.0 341.0,309.5 C337.2,307.0 334.2,305.1 330.0,303.2 C325.8,301.3 320.2,299.4 316.0,298.0 C311.8,296.6 306.4,295.2 304.5,294.6Z" fill="#000" stroke="#000" stroke-width="1.40" stroke-linecap="round" stroke-linejoin="round" />
<path d="M315.4,320.5 L315.5,321.1 L315.6,321.7 L315.6,322.2 L315.7,322.8 L315.7,323.4 L315.7,323.9 L315.8,324.5 L315.7,325.0 L315.7,325.6 L315.7,326.1 L315.6,326.6 L315.5,327.1 L315.5,327.6 L315.3,328.1 L315.2,328.6 L315.1,329.1 L314.9,329.5 L314.8,330.0 L314.6,330.4 L314.4,330.8 L314.2,331.2 L313.9,331.6 L313.7,332.0 L313.4,332.3 L313.2,332.6 L312.9,333.0 L312.6,333.3 L312.3,333.6 L312.0,333.8 L311.6,334.1 L311.3,334.3 L310.9,334.5 L310.6,334.7 L310.2,334.9 L309.8,335.0 L309.4,335.2 L309.0,335.3 L308.6,335.4 L308.2,335.5 L307.8,335.5 L307.3,335.5 L306.9,335.6 L306.5,335.6 L306.0,335.5 L305.6,335.5 L305.1,335.4 L304.7,335.3 L304.2,335.2 L303.7,335.1 L303.3,335.0 L302.8,334.8 L302.3,334.6 L301.9,334.4 L301.4,334.2 L300.9,333.9 L300.5,333.7 L300.0,333.4 L299.6,333.1 L299.1,332.8 L298.7,332.5 L298.2,332.1 L297.8,331.7 L297.3,331.4 L296.9,331.0 L296.5,330.6 L296.1,330.1 L295.7,329.7 L295.3,329.3 L294.9,328.8 L294.5,328.3 L294.1,327.8 L293.8,327.3 L293.4,326.8 L293.1,326.3 L292.7,325.8 L292.4,325.3 L292.1,324.7 L291.8,324.2 L291.6,323.6 L291.3,323.0 L291.0,322.5 L290.8,321.9 L290.6,321.3 L290.4,320.8 L290.2,320.2 L290.0,319.6 L289.8,319.0 L289.7,318.4 L289.5,317.9 L289.4,317.3 L289.3,316.7 L289.2,316.1 L289.2,315.6 L289.1,315.0 L289.1,314.4 L289.1,313.9 L289.0,313.3 L289.1,312.8 L289.1,312.2 L289.1,311.7 L289.2,311.2 L289.3,310.7 L289.3,310.2 L289.5,309.7 L289.6,309.2 L289.7,308.7 L289.9,308.3 L290.0,307.8 L290.2,307.4 L290.4,307.0 L290.6,306.6 L290.9,306.2 L291.1,305.8 L291.4,305.5 L291.6,305.2 L291.9,304.8 L292.2,304.5 L292.5,304.2 L292.8,304.0 L293.2,303.7 L293.5,303.5 L293.9,303.3 L294.2,303.1 L294.6,302.9 L295.0,302.8 L295.4,302.6 L295.8,302.5 L296.2,302.4 L296.6,302.3 L297.0,302.3 L297.5,302.3 L297.9,302.2 L298.3,302.2 L298.8,302.3 L299.2,302.3 L299.7,302.4 L300.1,302.5 L300.6,302.6 L301.1,302.7 L301.5,302.8" fill="none" stroke="#000" stroke-width="2.50" stroke-linecap="round" stroke-linejoin="round" />
<path d="M305.5,304.9 L305.9,305.2 L306.4,305.5 L306.8,305.9 L307.2,306.2 L307.7,306.6 L308.1,307.0 L308.5,307.4 L308.9,307.9 L309.3,308.3 L309.7,308.8 L310.1,309.2 L310.5,309.7 L310.9,310.2 L311.2,310.7 L311.6,311.2 L311.9,311.7 L312.2,312.3 L312.5,312.8 L312.8,313.4 L313.1,313.9 L313.4,314.5 L313.6,315.0 L313.9,315.6 L314.1,316.2 L314.3,316.7" fill="none" stroke="#000" stroke-width="2.30" stroke-linecap="round" stroke-linejoin="round" />
<path d="M299.9,315.5 L300.0,315.4 L300.1,315.3 L300.3,315.2 L300.4,315.1 L300.5,315.0 L300.7,314.9 L300.8,314.8 L301.0,314.7 L301.1,314.6 L301.3,314.6 L301.4,314.5 L301.6,314.5 L301.8,314.4 L301.9,314.4 L302.1,314.4 L302.3,314.3 L302.4,314.3 L302.6,314.3 L302.8,314.3 L303.0,314.3 L303.1,314.3 L303.3,314.4 L303.5,314.4 L303.7,314.4 L303.9,314.5 L304.1,314.5 L304.2,314.6 L304.4,314.7 L304.6,314.7 L304.8,314.8 L305.0,314.9 L305.1,315.0 L305.3,315.1 L305.5,315.2 L305.6,315.3 L305.8,315.4 L306.0,315.6 L306.2,315.7 L306.3,315.8 L306.5,316.0 L306.6,316.1 L306.8,316.3 L306.9,316.4 L307.1,316.6 L307.2,316.8 L307.4,316.9 L307.5,317.1 L307.6,317.3 L307.7,317.5 L307.9,317.7 L308.0,317.9 L308.1,318.0 L308.2,318.2 L308.3,318.4 L308.4,318.6 L308.5,318.9 L308.6,319.1 L308.6,319.3 L308.7,319.5 L308.8,319.7 L308.8,319.9 L308.9,320.1 L308.9,320.3 L309.0,320.5 L309.0,320.7 L309.0,321.0 L309.1,321.2 L309.1,321.4 L309.1,321.6 L309.1,321.8 L309.1,322.0 L309.1,322.2 L309.1,322.4 L309.0,322.6 L309.0,322.8 L309.0,323.0 L308.9,323.2 L308.9,323.4 L308.9,323.6 L308.8,323.7 L308.7,323.9 L308.7,324.1 L308.6,324.2 L308.5,324.4 L308.4,324.6 L308.3,324.7 L308.2,324.9 L308.1,325.0 L308.0,325.1 L307.9,325.3 L307.8,325.4 L307.7,325.5 L307.5,325.6 L307.4,325.7 L307.3,325.8 L307.1,325.9 L307.0,326.0 L306.8,326.1 L306.7,326.2 L306.5,326.2 L306.4,326.3 L306.2,326.3 L306.0,326.4 L305.9,326.4 L305.7,326.4 L305.5,326.5 L305.4,326.5 L305.2,326.5 L305.0,326.5 L304.8,326.5 L304.7,326.5 L304.5,326.4 L304.3,326.4 L304.1,326.4 L303.9,326.3 L303.7,326.3 L303.6,326.2 L303.4,326.1 L303.2,326.1 L303.0,326.0 L302.8,325.9 L302.7,325.8 L302.5,325.7 L302.3,325.6 L302.2,325.5 L302.0,325.4 L301.8,325.2 L301.6,325.1 L301.5,325.0 L301.3,324.8" fill="none" stroke="#000" stroke-width="3.20" stroke-linecap="round" stroke-linejoin="round" />
<ellipse cx="301.2" cy="316.1" rx="3.6" ry="2.8" transform="rotate(-30 301.2 316.1)"/>
<path d="M350.5,320.5 L350.6,321.1 L350.7,321.7 L350.7,322.2 L350.8,322.8 L350.8,323.4 L350.8,323.9 L350.9,324.5 L350.8,325.0 L350.8,325.6 L350.8,326.1 L350.7,326.6 L350.6,327.1 L350.6,327.6 L350.4,328.1 L350.3,328.6 L350.2,329.1 L350.0,329.5 L349.9,330.0 L349.7,330.4 L349.5,330.8 L349.3,331.2 L349.0,331.6 L348.8,332.0 L348.5,332.3 L348.3,332.6 L348.0,333.0 L347.7,333.3 L347.4,333.6 L347.1,333.8 L346.7,334.1 L346.4,334.3 L346.0,334.5 L345.7,334.7 L345.3,334.9 L344.9,335.0 L344.5,335.2 L344.1,335.3 L343.7,335.4 L343.3,335.5 L342.9,335.5 L342.4,335.5 L342.0,335.6 L341.6,335.6 L341.1,335.5 L340.7,335.5 L340.2,335.4 L339.8,335.3 L339.3,335.2 L338.8,335.1 L338.4,335.0 L337.9,334.8 L337.4,334.6 L337.0,334.4 L336.5,334.2 L336.0,333.9 L335.6,333.7 L335.1,333.4 L334.7,333.1 L334.2,332.8 L333.8,332.5 L333.3,332.1 L332.9,331.7 L332.4,331.4 L332.0,331.0 L331.6,330.6 L331.2,330.1 L330.8,329.7 L330.4,329.3 L330.0,328.8 L329.6,328.3 L329.2,327.8 L328.9,327.3 L328.5,326.8 L328.2,326.3 L327.8,325.8 L327.5,325.3 L327.2,324.7 L326.9,324.2 L326.7,323.6 L326.4,323.0 L326.1,322.5 L325.9,321.9 L325.7,321.3 L325.5,320.8 L325.3,320.2 L325.1,319.6 L324.9,319.0 L324.8,318.4 L324.6,317.9 L324.5,317.3 L324.4,316.7 L324.3,316.1 L324.3,315.6 L324.2,315.0 L324.2,314.4 L324.2,313.9 L324.1,313.3 L324.2,312.8 L324.2,312.2 L324.2,311.7 L324.3,311.2 L324.4,310.7 L324.4,310.2 L324.6,309.7 L324.7,309.2 L324.8,308.7 L325.0,308.3 L325.1,307.8 L325.3,307.4 L325.5,307.0 L325.7,306.6 L326.0,306.2 L326.2,305.8 L326.5,305.5 L326.7,305.2 L327.0,304.8 L327.3,304.5 L327.6,304.2 L327.9,304.0 L328.3,303.7 L328.6,303.5 L329.0,303.3 L329.3,303.1 L329.7,302.9 L330.1,302.8 L330.5,302.6 L330.9,302.5 L331.3,302.4 L331.7,302.3 L332.1,302.3 L332.6,302.3 L333.0,302.2 L333.4,302.2 L333.9,302.3 L334.3,302.3 L334.8,302.4 L335.2,302.5 L335.7,302.6 L336.2,302.7 L336.6,302.8" fill="none" stroke="#000" stroke-width="2.50" stroke-linecap="round" stroke-linejoin="round" />
<path d="M340.6,304.9 L341.0,305.2 L341.5,305.5 L341.9,305.9 L342.3,306.2 L342.8,306.6 L343.2,307.0 L343.6,307.4 L344.0,307.9 L344.4,308.3 L344.8,308.8 L345.2,309.2 L345.6,309.7 L346.0,310.2 L346.3,310.7 L346.7,311.2 L347.0,311.7 L347.3,312.3 L347.6,312.8 L347.9,313.4 L348.2,313.9 L348.5,314.5 L348.7,315.0 L349.0,315.6 L349.2,316.2 L349.4,316.7" fill="none" stroke="#000" stroke-width="2.30" stroke-linecap="round" stroke-linejoin="round" />
<path d="M335.0,315.5 L335.1,315.4 L335.2,315.3 L335.4,315.2 L335.5,315.1 L335.6,315.0 L335.8,314.9 L335.9,314.8 L336.1,314.7 L336.2,314.6 L336.4,314.6 L336.5,314.5 L336.7,314.5 L336.9,314.4 L337.0,314.4 L337.2,314.4 L337.4,314.3 L337.5,314.3 L337.7,314.3 L337.9,314.3 L338.1,314.3 L338.2,314.3 L338.4,314.4 L338.6,314.4 L338.8,314.4 L339.0,314.5 L339.2,314.5 L339.3,314.6 L339.5,314.7 L339.7,314.7 L339.9,314.8 L340.1,314.9 L340.2,315.0 L340.4,315.1 L340.6,315.2 L340.7,315.3 L340.9,315.4 L341.1,315.6 L341.3,315.7 L341.4,315.8 L341.6,316.0 L341.7,316.1 L341.9,316.3 L342.0,316.4 L342.2,316.6 L342.3,316.8 L342.5,316.9 L342.6,317.1 L342.7,317.3 L342.8,317.5 L343.0,317.7 L343.1,317.9 L343.2,318.0 L343.3,318.2 L343.4,318.4 L343.5,318.6 L343.6,318.9 L343.7,319.1 L343.7,319.3 L343.8,319.5 L343.9,319.7 L343.9,319.9 L344.0,320.1 L344.0,320.3 L344.1,320.5 L344.1,320.7 L344.1,321.0 L344.2,321.2 L344.2,321.4 L344.2,321.6 L344.2,321.8 L344.2,322.0 L344.2,322.2 L344.2,322.4 L344.1,322.6 L344.1,322.8 L344.1,323.0 L344.0,323.2 L344.0,323.4 L344.0,323.6 L343.9,323.7 L343.8,323.9 L343.8,324.1 L343.7,324.2 L343.6,324.4 L343.5,324.6 L343.4,324.7 L343.3,324.9 L343.2,325.0 L343.1,325.1 L343.0,325.3 L342.9,325.4 L342.8,325.5 L342.6,325.6 L342.5,325.7 L342.4,325.8 L342.2,325.9 L342.1,326.0 L341.9,326.1 L341.8,326.2 L341.6,326.2 L341.5,326.3 L341.3,326.3 L341.1,326.4 L341.0,326.4 L340.8,326.4 L340.6,326.5 L340.5,326.5 L340.3,326.5 L340.1,326.5 L339.9,326.5 L339.8,326.5 L339.6,326.4 L339.4,326.4 L339.2,326.4 L339.0,326.3 L338.8,326.3 L338.7,326.2 L338.5,326.1 L338.3,326.1 L338.1,326.0 L337.9,325.9 L337.8,325.8 L337.6,325.7 L337.4,325.6 L337.3,325.5 L337.1,325.4 L336.9,325.2 L336.7,325.1 L336.6,325.0 L336.4,324.8" fill="none" stroke="#000" stroke-width="3.20" stroke-linecap="round" stroke-linejoin="round" />
<ellipse cx="336.3" cy="316.1" rx="3.6" ry="2.8" transform="rotate(-30 336.3 316.1)"/>
<path d="M386.5,355.0 L386.6,355.6 L386.7,356.2 L386.7,356.7 L386.8,357.3 L386.8,357.9 L386.8,358.4 L386.9,359.0 L386.8,359.5 L386.8,360.1 L386.8,360.6 L386.7,361.1 L386.6,361.6 L386.6,362.1 L386.4,362.6 L386.3,363.1 L386.2,363.6 L386.0,364.0 L385.9,364.5 L385.7,364.9 L385.5,365.3 L385.3,365.7 L385.0,366.1 L384.8,366.5 L384.5,366.8 L384.3,367.1 L384.0,367.5 L383.7,367.8 L383.4,368.1 L383.1,368.3 L382.7,368.6 L382.4,368.8 L382.0,369.0 L381.7,369.2 L381.3,369.4 L380.9,369.5 L380.5,369.7 L380.1,369.8 L379.7,369.9 L379.3,370.0 L378.9,370.0 L378.4,370.0 L378.0,370.1 L377.6,370.1 L377.1,370.0 L376.7,370.0 L376.2,369.9 L375.8,369.8 L375.3,369.7 L374.8,369.6 L374.4,369.5 L373.9,369.3 L373.4,369.1 L373.0,368.9 L372.5,368.7 L372.0,368.4 L371.6,368.2 L371.1,367.9 L370.7,367.6 L370.2,367.3 L369.8,367.0 L369.3,366.6 L368.9,366.2 L368.4,365.9 L368.0,365.5 L367.6,365.1 L367.2,364.6 L366.8,364.2 L366.4,363.8 L366.0,363.3 L365.6,362.8 L365.2,362.3 L364.9,361.8 L364.5,361.3 L364.2,360.8 L363.8,360.3 L363.5,359.8 L363.2,359.2 L362.9,358.7 L362.7,358.1 L362.4,357.5 L362.1,357.0 L361.9,356.4 L361.7,355.8 L361.5,355.3 L361.3,354.7 L361.1,354.1 L360.9,353.5 L360.8,352.9 L360.6,352.4 L360.5,351.8 L360.4,351.2 L360.3,350.6 L360.3,350.1 L360.2,349.5 L360.2,348.9 L360.2,348.4 L360.1,347.8 L360.2,347.3 L360.2,346.7 L360.2,346.2 L360.3,345.7 L360.4,345.2 L360.4,344.7 L360.6,344.2 L360.7,343.7 L360.8,343.2 L361.0,342.8 L361.1,342.3 L361.3,341.9 L361.5,341.5 L361.7,341.1 L362.0,340.7 L362.2,340.3 L362.5,340.0 L362.7,339.7 L363.0,339.3 L363.3,339.0 L363.6,338.7 L363.9,338.5 L364.3,338.2 L364.6,338.0 L365.0,337.8 L365.3,337.6 L365.7,337.4 L366.1,337.3 L366.5,337.1 L366.9,337.0 L367.3,336.9 L367.7,336.8 L368.1,336.8 L368.6,336.8 L369.0,336.7 L369.4,336.7 L369.9,336.8 L370.3,336.8 L370.8,336.9 L371.2,337.0 L371.7,337.1 L372.2,337.2 L372.6,337.3" fill="none" stroke="#000" stroke-width="2.50" stroke-linecap="round" stroke-linejoin="round" />
<path d="M376.6,339.4 L377.0,339.7 L377.5,340.0 L377.9,340.4 L378.3,340.7 L378.8,341.1 L379.2,341.5 L379.6,341.9 L380.0,342.4 L380.4,342.8 L380.8,343.3 L381.2,343.7 L381.6,344.2 L382.0,344.7 L382.3,345.2 L382.7,345.7 L383.0,346.2 L383.3,346.8 L383.6,347.3 L383.9,347.9 L384.2,348.4 L384.5,349.0 L384.7,349.5 L385.0,350.1 L385.2,350.7 L385.4,351.2" fill="none" stroke="#000" stroke-width="2.30" stroke-linecap="round" stroke-linejoin="round" />
<path d="M371.0,350.0 L371.1,349.9 L371.2,349.8 L371.4,349.7 L371.5,349.6 L371.6,349.5 L371.8,349.4 L371.9,349.3 L372.1,349.2 L372.2,349.1 L372.4,349.1 L372.5,349.0 L372.7,349.0 L372.9,348.9 L373.0,348.9 L373.2,348.9 L373.4,348.8 L373.5,348.8 L373.7,348.8 L373.9,348.8 L374.1,348.8 L374.2,348.8 L374.4,348.9 L374.6,348.9 L374.8,348.9 L375.0,349.0 L375.2,349.0 L375.3,349.1 L375.5,349.2 L375.7,349.2 L375.9,349.3 L376.1,349.4 L376.2,349.5 L376.4,349.6 L376.6,349.7 L376.7,349.8 L376.9,349.9 L377.1,350.1 L377.3,350.2 L377.4,350.3 L377.6,350.5 L377.7,350.6 L377.9,350.8 L378.0,350.9 L378.2,351.1 L378.3,351.3 L378.5,351.4 L378.6,351.6 L378.7,351.8 L378.8,352.0 L379.0,352.2 L379.1,352.4 L379.2,352.5 L379.3,352.7 L379.4,352.9 L379.5,353.1 L379.6,353.4 L379.7,353.6 L379.7,353.8 L379.8,354.0 L379.9,354.2 L379.9,354.4 L380.0,354.6 L380.0,354.8 L380.1,355.0 L380.1,355.2 L380.1,355.5 L380.2,355.7 L380.2,355.9 L380.2,356.1 L380.2,356.3 L380.2,356.5 L380.2,356.7 L380.2,356.9 L380.1,357.1 L380.1,357.3 L380.1,357.5 L380.0,357.7 L380.0,357.9 L380.0,358.1 L379.9,358.2 L379.8,358.4 L379.8,358.6 L379.7,358.7 L379.6,358.9 L379.5,359.1 L379.4,359.2 L379.3,359.4 L379.2,359.5 L379.1,359.6 L379.0,359.8 L378.9,359.9 L378.8,360.0 L378.6,360.1 L378.5,360.2 L378.4,360.3 L378.2,360.4 L378.1,360.5 L377.9,360.6 L377.8,360.7 L377.6,360.7 L377.5,360.8 L377.3,360.8 L377.1,360.9 L377.0,360.9 L376.8,360.9 L376.6,361.0 L376.5,361.0 L376.3,361.0 L376.1,361.0 L375.9,361.0 L375.8,361.0 L375.6,360.9 L375.4,360.9 L375.2,360.9 L375.0,360.8 L374.8,360.8 L374.7,360.7 L374.5,360.6 L374.3,360.6 L374.1,360.5 L373.9,360.4 L373.8,360.3 L373.6,360.2 L373.4,360.1 L373.3,360.0 L373.1,359.9 L372.9,359.7 L372.7,359.6 L372.6,359.5 L372.4,359.3" fill="none" stroke="#000" stroke-width="3.20" stroke-linecap="round" stroke-linejoin="round" />
<ellipse cx="372.3" cy="350.6" rx="3.6" ry="2.8" transform="rotate(-30 372.3 350.6)"/>
<path d="M401.0,410.9 L401.1,411.5 L401.2,412.1 L401.2,412.6 L401.3,413.2 L401.3,413.8 L401.3,414.3 L401.4,414.9 L401.3,415.4 L401.3,416.0 L401.3,416.5 L401.2,417.0 L401.1,417.5 L401.1,418.0 L400.9,418.5 L400.8,419.0 L400.7,419.5 L400.5,419.9 L400.4,420.4 L400.2,420.8 L400.0,421.2 L399.8,421.6 L399.5,422.0 L399.3,422.4 L399.0,422.7 L398.8,423.0 L398.5,423.4 L398.2,423.7 L397.9,424.0 L397.6,424.2 L397.2,424.5 L396.9,424.7 L396.5,424.9 L396.2,425.1 L395.8,425.3 L395.4,425.4 L395.0,425.6 L394.6,425.7 L394.2,425.8 L393.8,425.9 L393.4,425.9 L392.9,425.9 L392.5,426.0 L392.1,426.0 L391.6,425.9 L391.2,425.9 L390.7,425.8 L390.3,425.7 L389.8,425.6 L389.3,425.5 L388.9,425.4 L388.4,425.2 L387.9,425.0 L387.5,424.8 L387.0,424.6 L386.5,424.3 L386.1,424.1 L385.6,423.8 L385.2,423.5 L384.7,423.2 L384.3,422.9 L383.8,422.5 L383.4,422.1 L382.9,421.8 L382.5,421.4 L382.1,421.0 L381.7,420.5 L381.3,420.1 L380.9,419.7 L380.5,419.2 L380.1,418.7 L379.7,418.2 L379.4,417.7 L379.0,417.2 L378.7,416.7 L378.3,416.2 L378.0,415.7 L377.7,415.1 L377.4,414.6 L377.2,414.0 L376.9,413.4 L376.6,412.9 L376.4,412.3 L376.2,411.7 L376.0,411.2 L375.8,410.6 L375.6,410.0 L375.4,409.4 L375.3,408.8 L375.1,408.3 L375.0,407.7 L374.9,407.1 L374.8,406.5 L374.8,406.0 L374.7,405.4 L374.7,404.8 L374.7,404.3 L374.6,403.7 L374.7,403.2 L374.7,402.6 L374.7,402.1 L374.8,401.6 L374.9,401.1 L374.9,400.6 L375.1,400.1 L375.2,399.6 L375.3,399.1 L375.5,398.7 L375.6,398.2 L375.8,397.8 L376.0,397.4 L376.2,397.0 L376.5,396.6 L376.7,396.2 L377.0,395.9 L377.2,395.6 L377.5,395.2 L377.8,394.9 L378.1,394.6 L378.4,394.4 L378.8,394.1 L379.1,393.9 L379.5,393.7 L379.8,393.5 L380.2,393.3 L380.6,393.2 L381.0,393.0 L381.4,392.9 L381.8,392.8 L382.2,392.7 L382.6,392.7 L383.1,392.7 L383.5,392.6 L383.9,392.6 L384.4,392.7 L384.8,392.7 L385.3,392.8 L385.7,392.9 L386.2,393.0 L386.7,393.1 L387.1,393.2" fill="none" stroke="#000" stroke-width="2.50" stroke-linecap="round" stroke-linejoin="round" />
<path d="M391.1,395.3 L391.5,395.6 L392.0,395.9 L392.4,396.3 L392.8,396.6 L393.3,397.0 L393.7,397.4 L394.1,397.8 L394.5,398.3 L394.9,398.7 L395.3,399.2 L395.7,399.6 L396.1,400.1 L396.5,400.6 L396.8,401.1 L397.2,401.6 L397.5,402.1 L397.8,402.7 L398.1,403.2 L398.4,403.8 L398.7,404.3 L399.0,404.9 L399.2,405.4 L399.5,406.0 L399.7,406.6 L399.9,407.1" fill="none" stroke="#000" stroke-width="2.30" stroke-linecap="round" stroke-linejoin="round" />
<path d="M385.5,405.9 L385.6,405.8 L385.7,405.7 L385.9,405.6 L386.0,405.5 L386.1,405.4 L386.3,405.3 L386.4,405.2 L386.6,405.1 L386.7,405.0 L386.9,405.0 L387.0,404.9 L387.2,404.9 L387.4,404.8 L387.5,404.8 L387.7,404.8 L387.9,404.7 L388.0,404.7 L388.2,404.7 L388.4,404.7 L388.6,404.7 L388.7,404.7 L388.9,404.8 L389.1,404.8 L389.3,404.8 L389.5,404.9 L389.7,404.9 L389.8,405.0 L390.0,405.1 L390.2,405.1 L390.4,405.2 L390.6,405.3 L390.7,405.4 L390.9,405.5 L391.1,405.6 L391.2,405.7 L391.4,405.8 L391.6,406.0 L391.8,406.1 L391.9,406.2 L392.1,406.4 L392.2,406.5 L392.4,406.7 L392.5,406.8 L392.7,407.0 L392.8,407.2 L393.0,407.3 L393.1,407.5 L393.2,407.7 L393.3,407.9 L393.5,408.1 L393.6,408.3 L393.7,408.4 L393.8,408.6 L393.9,408.8 L394.0,409.0 L394.1,409.3 L394.2,409.5 L394.2,409.7 L394.3,409.9 L394.4,410.1 L394.4,410.3 L394.5,410.5 L394.5,410.7 L394.6,410.9 L394.6,411.1 L394.6,411.4 L394.7,411.6 L394.7,411.8 L394.7,412.0 L394.7,412.2 L394.7,412.4 L394.7,412.6 L394.7,412.8 L394.6,413.0 L394.6,413.2 L394.6,413.4 L394.5,413.6 L394.5,413.8 L394.5,414.0 L394.4,414.1 L394.3,414.3 L394.3,414.5 L394.2,414.6 L394.1,414.8 L394.0,415.0 L393.9,415.1 L393.8,415.3 L393.7,415.4 L393.6,415.5 L393.5,415.7 L393.4,415.8 L393.3,415.9 L393.1,416.0 L393.0,416.1 L392.9,416.2 L392.7,416.3 L392.6,416.4 L392.4,416.5 L392.3,416.6 L392.1,416.6 L392.0,416.7 L391.8,416.7 L391.6,416.8 L391.5,416.8 L391.3,416.8 L391.1,416.9 L391.0,416.9 L390.8,416.9 L390.6,416.9 L390.4,416.9 L390.3,416.9 L390.1,416.8 L389.9,416.8 L389.7,416.8 L389.5,416.7 L389.3,416.7 L389.2,416.6 L389.0,416.5 L388.8,416.5 L388.6,416.4 L388.4,416.3 L388.3,416.2 L388.1,416.1 L387.9,416.0 L387.8,415.9 L387.6,415.8 L387.4,415.6 L387.2,415.5 L387.1,415.4 L386.9,415.2" fill="none" stroke="#000" stroke-width="3.20" stroke-linecap="round" stroke-linejoin="round" />
<ellipse cx="386.8" cy="406.5" rx="3.6" ry="2.8" transform="rotate(-30 386.8 406.5)"/>
<path d="M387.0,447.6 L387.1,448.2 L387.2,448.8 L387.2,449.3 L387.3,449.9 L387.3,450.5 L387.3,451.0 L387.4,451.6 L387.3,452.1 L387.3,452.7 L387.3,453.2 L387.2,453.7 L387.1,454.2 L387.1,454.7 L386.9,455.2 L386.8,455.7 L386.7,456.2 L386.5,456.6 L386.4,457.1 L386.2,457.5 L386.0,457.9 L385.8,458.3 L385.5,458.7 L385.3,459.1 L385.0,459.4 L384.8,459.7 L384.5,460.1 L384.2,460.4 L383.9,460.7 L383.6,460.9 L383.2,461.2 L382.9,461.4 L382.5,461.6 L382.2,461.8 L381.8,462.0 L381.4,462.1 L381.0,462.3 L380.6,462.4 L380.2,462.5 L379.8,462.6 L379.4,462.6 L378.9,462.6 L378.5,462.7 L378.1,462.7 L377.6,462.6 L377.2,462.6 L376.7,462.5 L376.3,462.4 L375.8,462.3 L375.3,462.2 L374.9,462.1 L374.4,461.9 L373.9,461.7 L373.5,461.5 L373.0,461.3 L372.5,461.0 L372.1,460.8 L371.6,460.5 L371.2,460.2 L370.7,459.9 L370.3,459.6 L369.8,459.2 L369.4,458.8 L368.9,458.5 L368.5,458.1 L368.1,457.7 L367.7,457.2 L367.3,456.8 L366.9,456.4 L366.5,455.9 L366.1,455.4 L365.7,454.9 L365.4,454.4 L365.0,453.9 L364.7,453.4 L364.3,452.9 L364.0,452.4 L363.7,451.8 L363.4,451.3 L363.2,450.7 L362.9,450.1 L362.6,449.6 L362.4,449.0 L362.2,448.4 L362.0,447.9 L361.8,447.3 L361.6,446.7 L361.4,446.1 L361.3,445.5 L361.1,445.0 L361.0,444.4 L360.9,443.8 L360.8,443.2 L360.8,442.7 L360.7,442.1 L360.7,441.5 L360.7,441.0 L360.6,440.4 L360.7,439.9 L360.7,439.3 L360.7,438.8 L360.8,438.3 L360.9,437.8 L360.9,437.3 L361.1,436.8 L361.2,436.3 L361.3,435.8 L361.5,435.4 L361.6,434.9 L361.8,434.5 L362.0,434.1 L362.2,433.7 L362.5,433.3 L362.7,432.9 L363.0,432.6 L363.2,432.3 L363.5,431.9 L363.8,431.6 L364.1,431.3 L364.4,431.1 L364.8,430.8 L365.1,430.6 L365.5,430.4 L365.8,430.2 L366.2,430.0 L366.6,429.9 L367.0,429.7 L367.4,429.6 L367.8,429.5 L368.2,429.4 L368.6,429.4 L369.1,429.4 L369.5,429.3 L369.9,429.3 L370.4,429.4 L370.8,429.4 L371.3,429.5 L371.7,429.6 L372.2,429.7 L372.7,429.8 L373.1,429.9" fill="none" stroke="#000" stroke-width="2.50" stroke-linecap="round" stroke-linejoin="round" />
<path d="M377.1,432.0 L377.5,432.3 L378.0,432.6 L378.4,433.0 L378.8,433.3 L379.3,433.7 L379.7,434.1 L380.1,434.5 L380.5,435.0 L380.9,435.4 L381.3,435.9 L381.7,436.3 L382.1,436.8 L382.5,437.3 L382.8,437.8 L383.2,438.3 L383.5,438.8 L383.8,439.4 L384.1,439.9 L384.4,440.5 L384.7,441.0 L385.0,441.6 L385.2,442.1 L385.5,442.7 L385.7,443.3 L385.9,443.8" fill="none" stroke="#000" stroke-width="2.30" stroke-linecap="round" stroke-linejoin="round" />
<path d="M371.5,442.6 L371.6,442.5 L371.7,442.4 L371.9,442.3 L372.0,442.2 L372.1,442.1 L372.3,442.0 L372.4,441.9 L372.6,441.8 L372.7,441.7 L372.9,441.7 L373.0,441.6 L373.2,441.6 L373.4,441.5 L373.5,441.5 L373.7,441.5 L373.9,441.4 L374.0,441.4 L374.2,441.4 L374.4,441.4 L374.6,441.4 L374.7,441.4 L374.9,441.5 L375.1,441.5 L375.3,441.5 L375.5,441.6 L375.7,441.6 L375.8,441.7 L376.0,441.8 L376.2,441.8 L376.4,441.9 L376.6,442.0 L376.7,442.1 L376.9,442.2 L377.1,442.3 L377.2,442.4 L377.4,442.5 L377.6,442.7 L377.8,442.8 L377.9,442.9 L378.1,443.1 L378.2,443.2 L378.4,443.4 L378.5,443.5 L378.7,443.7 L378.8,443.9 L379.0,444.0 L379.1,444.2 L379.2,444.4 L379.3,444.6 L379.5,444.8 L379.6,445.0 L379.7,445.1 L379.8,445.3 L379.9,445.5 L380.0,445.7 L380.1,446.0 L380.2,446.2 L380.2,446.4 L380.3,446.6 L380.4,446.8 L380.4,447.0 L380.5,447.2 L380.5,447.4 L380.6,447.6 L380.6,447.8 L380.6,448.1 L380.7,448.3 L380.7,448.5 L380.7,448.7 L380.7,448.9 L380.7,449.1 L380.7,449.3 L380.7,449.5 L380.6,449.7 L380.6,449.9 L380.6,450.1 L380.5,450.3 L380.5,450.5 L380.5,450.7 L380.4,450.8 L380.3,451.0 L380.3,451.2 L380.2,451.3 L380.1,451.5 L380.0,451.7 L379.9,451.8 L379.8,452.0 L379.7,452.1 L379.6,452.2 L379.5,452.4 L379.4,452.5 L379.3,452.6 L379.1,452.7 L379.0,452.8 L378.9,452.9 L378.7,453.0 L378.6,453.1 L378.4,453.2 L378.3,453.3 L378.1,453.3 L378.0,453.4 L377.8,453.4 L377.6,453.5 L377.5,453.5 L377.3,453.5 L377.1,453.6 L377.0,453.6 L376.8,453.6 L376.6,453.6 L376.4,453.6 L376.3,453.6 L376.1,453.5 L375.9,453.5 L375.7,453.5 L375.5,453.4 L375.3,453.4 L375.2,453.3 L375.0,453.2 L374.8,453.2 L374.6,453.1 L374.4,453.0 L374.3,452.9 L374.1,452.8 L373.9,452.7 L373.8,452.6 L373.6,452.5 L373.4,452.3 L373.2,452.2 L373.1,452.1 L372.9,451.9" fill="none" stroke="#000" stroke-width="3.20" stroke-linecap="round" stroke-linejoin="round" />
<ellipse cx="372.8" cy="443.2" rx="3.6" ry="2.8" transform="rotate(-30 372.8 443.2)"/>
<path d="M346.2,441.3 L346.3,441.9 L346.4,442.5 L346.4,443.0 L346.5,443.6 L346.5,444.2 L346.5,444.7 L346.6,445.3 L346.5,445.8 L346.5,446.4 L346.5,446.9 L346.4,447.4 L346.3,447.9 L346.3,448.4 L346.1,448.9 L346.0,449.4 L345.9,449.9 L345.7,450.3 L345.6,450.8 L345.4,451.2 L345.2,451.6 L345.0,452.0 L344.7,452.4 L344.5,452.8 L344.2,453.1 L344.0,453.4 L343.7,453.8 L343.4,454.1 L343.1,454.4 L342.8,454.6 L342.4,454.9 L342.1,455.1 L341.7,455.3 L341.4,455.5 L341.0,455.7 L340.6,455.8 L340.2,456.0 L339.8,456.1 L339.4,456.2 L339.0,456.3 L338.6,456.3 L338.1,456.3 L337.7,456.4 L337.3,456.4 L336.8,456.3 L336.4,456.3 L335.9,456.2 L335.5,456.1 L335.0,456.0 L334.5,455.9 L334.1,455.8 L333.6,455.6 L333.1,455.4 L332.7,455.2 L332.2,455.0 L331.7,454.7 L331.3,454.5 L330.8,454.2 L330.4,453.9 L329.9,453.6 L329.5,453.3 L329.0,452.9 L328.6,452.5 L328.1,452.2 L327.7,451.8 L327.3,451.4 L326.9,450.9 L326.5,450.5 L326.1,450.1 L325.7,449.6 L325.3,449.1 L324.9,448.6 L324.6,448.1 L324.2,447.6 L323.9,447.1 L323.5,446.6 L323.2,446.1 L322.9,445.5 L322.6,445.0 L322.4,444.4 L322.1,443.8 L321.8,443.3 L321.6,442.7 L321.4,442.1 L321.2,441.6 L321.0,441.0 L320.8,440.4 L320.6,439.8 L320.5,439.2 L320.3,438.7 L320.2,438.1 L320.1,437.5 L320.0,436.9 L320.0,436.4 L319.9,435.8 L319.9,435.2 L319.9,434.7 L319.8,434.1 L319.9,433.6 L319.9,433.0 L319.9,432.5 L320.0,432.0 L320.1,431.5 L320.1,431.0 L320.3,430.5 L320.4,430.0 L320.5,429.5 L320.7,429.1 L320.8,428.6 L321.0,428.2 L321.2,427.8 L321.4,427.4 L321.7,427.0 L321.9,426.6 L322.2,426.3 L322.4,426.0 L322.7,425.6 L323.0,425.3 L323.3,425.0 L323.6,424.8 L324.0,424.5 L324.3,424.3 L324.7,424.1 L325.0,423.9 L325.4,423.7 L325.8,423.6 L326.2,423.4 L326.6,423.3 L327.0,423.2 L327.4,423.1 L327.8,423.1 L328.3,423.1 L328.7,423.0 L329.1,423.0 L329.6,423.1 L330.0,423.1 L330.5,423.2 L330.9,423.3 L331.4,423.4 L331.9,423.5 L332.3,423.6" fill="none" stroke="#000" stroke-width="2.50" stroke-linecap="round" stroke-linejoin="round" />
<path d="M336.3,425.7 L336.7,426.0 L337.2,426.3 L337.6,426.7 L338.0,427.0 L338.5,427.4 L338.9,427.8 L339.3,428.2 L339.7,428.7 L340.1,429.1 L340.5,429.6 L340.9,430.0 L341.3,430.5 L341.7,431.0 L342.0,431.5 L342.4,432.0 L342.7,432.5 L343.0,433.1 L343.3,433.6 L343.6,434.2 L343.9,434.7 L344.2,435.3 L344.4,435.8 L344.7,436.4 L344.9,437.0 L345.1,437.5" fill="none" stroke="#000" stroke-width="2.30" stroke-linecap="round" stroke-linejoin="round" />
<path d="M330.7,436.3 L330.8,436.2 L330.9,436.1 L331.1,436.0 L331.2,435.9 L331.3,435.8 L331.5,435.7 L331.6,435.6 L331.8,435.5 L331.9,435.4 L332.1,435.4 L332.2,435.3 L332.4,435.3 L332.6,435.2 L332.7,435.2 L332.9,435.2 L333.1,435.1 L333.2,435.1 L333.4,435.1 L333.6,435.1 L333.8,435.1 L333.9,435.1 L334.1,435.2 L334.3,435.2 L334.5,435.2 L334.7,435.3 L334.9,435.3 L335.0,435.4 L335.2,435.5 L335.4,435.5 L335.6,435.6 L335.8,435.7 L335.9,435.8 L336.1,435.9 L336.3,436.0 L336.4,436.1 L336.6,436.2 L336.8,436.4 L337.0,436.5 L337.1,436.6 L337.3,436.8 L337.4,436.9 L337.6,437.1 L337.7,437.2 L337.9,437.4 L338.0,437.6 L338.2,437.7 L338.3,437.9 L338.4,438.1 L338.5,438.3 L338.7,438.5 L338.8,438.7 L338.9,438.8 L339.0,439.0 L339.1,439.2 L339.2,439.4 L339.3,439.7 L339.4,439.9 L339.4,440.1 L339.5,440.3 L339.6,440.5 L339.6,440.7 L339.7,440.9 L339.7,441.1 L339.8,441.3 L339.8,441.5 L339.8,441.8 L339.9,442.0 L339.9,442.2 L339.9,442.4 L339.9,442.6 L339.9,442.8 L339.9,443.0 L339.9,443.2 L339.8,443.4 L339.8,443.6 L339.8,443.8 L339.7,444.0 L339.7,444.2 L339.7,444.4 L339.6,444.5 L339.5,444.7 L339.5,444.9 L339.4,445.0 L339.3,445.2 L339.2,445.4 L339.1,445.5 L339.0,445.7 L338.9,445.8 L338.8,445.9 L338.7,446.1 L338.6,446.2 L338.5,446.3 L338.3,446.4 L338.2,446.5 L338.1,446.6 L337.9,446.7 L337.8,446.8 L337.6,446.9 L337.5,447.0 L337.3,447.0 L337.2,447.1 L337.0,447.1 L336.8,447.2 L336.7,447.2 L336.5,447.2 L336.3,447.3 L336.2,447.3 L336.0,447.3 L335.8,447.3 L335.6,447.3 L335.5,447.3 L335.3,447.2 L335.1,447.2 L334.9,447.2 L334.7,447.1 L334.5,447.1 L334.4,447.0 L334.2,446.9 L334.0,446.9 L333.8,446.8 L333.6,446.7 L333.5,446.6 L333.3,446.5 L333.1,446.4 L333.0,446.3 L332.8,446.2 L332.6,446.0 L332.4,445.9 L332.3,445.8 L332.1,445.6" fill="none" stroke="#000" stroke-width="3.20" stroke-linecap="round" stroke-linejoin="round" />
<ellipse cx="332.0" cy="436.9" rx="3.6" ry="2.8" transform="rotate(-30 332.0 436.9)"/>
<path d="M308.8,401.1 L308.9,401.7 L309.0,402.3 L309.0,402.8 L309.1,403.4 L309.1,404.0 L309.1,404.5 L309.2,405.1 L309.1,405.6 L309.1,406.2 L309.1,406.7 L309.0,407.2 L308.9,407.7 L308.9,408.2 L308.7,408.7 L308.6,409.2 L308.5,409.7 L308.3,410.1 L308.2,410.6 L308.0,411.0 L307.8,411.4 L307.6,411.8 L307.3,412.2 L307.1,412.6 L306.8,412.9 L306.6,413.2 L306.3,413.6 L306.0,413.9 L305.7,414.2 L305.4,414.4 L305.0,414.7 L304.7,414.9 L304.3,415.1 L304.0,415.3 L303.6,415.5 L303.2,415.6 L302.8,415.8 L302.4,415.9 L302.0,416.0 L301.6,416.1 L301.2,416.1 L300.7,416.1 L300.3,416.2 L299.9,416.2 L299.4,416.1 L299.0,416.1 L298.5,416.0 L298.1,415.9 L297.6,415.8 L297.1,415.7 L296.7,415.6 L296.2,415.4 L295.7,415.2 L295.3,415.0 L294.8,414.8 L294.3,414.5 L293.9,414.3 L293.4,414.0 L293.0,413.7 L292.5,413.4 L292.1,413.1 L291.6,412.7 L291.2,412.3 L290.7,412.0 L290.3,411.6 L289.9,411.2 L289.5,410.7 L289.1,410.3 L288.7,409.9 L288.3,409.4 L287.9,408.9 L287.5,408.4 L287.2,407.9 L286.8,407.4 L286.5,406.9 L286.1,406.4 L285.8,405.9 L285.5,405.3 L285.2,404.8 L285.0,404.2 L284.7,403.6 L284.4,403.1 L284.2,402.5 L284.0,401.9 L283.8,401.4 L283.6,400.8 L283.4,400.2 L283.2,399.6 L283.1,399.0 L282.9,398.5 L282.8,397.9 L282.7,397.3 L282.6,396.7 L282.6,396.2 L282.5,395.6 L282.5,395.0 L282.5,394.5 L282.4,393.9 L282.5,393.4 L282.5,392.8 L282.5,392.3 L282.6,391.8 L282.7,391.3 L282.7,390.8 L282.9,390.3 L283.0,389.8 L283.1,389.3 L283.3,388.9 L283.4,388.4 L283.6,388.0 L283.8,387.6 L284.0,387.2 L284.3,386.8 L284.5,386.4 L284.8,386.1 L285.0,385.8 L285.3,385.4 L285.6,385.1 L285.9,384.8 L286.2,384.6 L286.6,384.3 L286.9,384.1 L287.3,383.9 L287.6,383.7 L288.0,383.5 L288.4,383.4 L288.8,383.2 L289.2,383.1 L289.6,383.0 L290.0,382.9 L290.4,382.9 L290.9,382.9 L291.3,382.8 L291.7,382.8 L292.2,382.9 L292.6,382.9 L293.1,383.0 L293.5,383.1 L294.0,383.2 L294.5,383.3 L294.9,383.4" fill="none" stroke="#000" stroke-width="2.50" stroke-linecap="round" stroke-linejoin="round" />
<path d="M298.9,385.5 L299.3,385.8 L299.8,386.1 L300.2,386.5 L300.6,386.8 L301.1,387.2 L301.5,387.6 L301.9,388.0 L302.3,388.5 L302.7,388.9 L303.1,389.4 L303.5,389.8 L303.9,390.3 L304.3,390.8 L304.6,391.3 L305.0,391.8 L305.3,392.3 L305.6,392.9 L305.9,393.4 L306.2,394.0 L306.5,394.5 L306.8,395.1 L307.0,395.6 L307.3,396.2 L307.5,396.8 L307.7,397.3" fill="none" stroke="#000" stroke-width="2.30" stroke-linecap="round" stroke-linejoin="round" />
<path d="M293.3,396.1 L293.4,396.0 L293.5,395.9 L293.7,395.8 L293.8,395.7 L293.9,395.6 L294.1,395.5 L294.2,395.4 L294.4,395.3 L294.5,395.2 L294.7,395.2 L294.8,395.1 L295.0,395.1 L295.2,395.0 L295.3,395.0 L295.5,395.0 L295.7,394.9 L295.8,394.9 L296.0,394.9 L296.2,394.9 L296.4,394.9 L296.5,394.9 L296.7,395.0 L296.9,395.0 L297.1,395.0 L297.3,395.1 L297.5,395.1 L297.6,395.2 L297.8,395.3 L298.0,395.3 L298.2,395.4 L298.4,395.5 L298.5,395.6 L298.7,395.7 L298.9,395.8 L299.0,395.9 L299.2,396.0 L299.4,396.2 L299.6,396.3 L299.7,396.4 L299.9,396.6 L300.0,396.7 L300.2,396.9 L300.3,397.0 L300.5,397.2 L300.6,397.4 L300.8,397.5 L300.9,397.7 L301.0,397.9 L301.1,398.1 L301.3,398.3 L301.4,398.5 L301.5,398.6 L301.6,398.8 L301.7,399.0 L301.8,399.2 L301.9,399.5 L302.0,399.7 L302.0,399.9 L302.1,400.1 L302.2,400.3 L302.2,400.5 L302.3,400.7 L302.3,400.9 L302.4,401.1 L302.4,401.3 L302.4,401.6 L302.5,401.8 L302.5,402.0 L302.5,402.2 L302.5,402.4 L302.5,402.6 L302.5,402.8 L302.5,403.0 L302.4,403.2 L302.4,403.4 L302.4,403.6 L302.3,403.8 L302.3,404.0 L302.3,404.2 L302.2,404.3 L302.1,404.5 L302.1,404.7 L302.0,404.8 L301.9,405.0 L301.8,405.2 L301.7,405.3 L301.6,405.5 L301.5,405.6 L301.4,405.7 L301.3,405.9 L301.2,406.0 L301.1,406.1 L300.9,406.2 L300.8,406.3 L300.7,406.4 L300.5,406.5 L300.4,406.6 L300.2,406.7 L300.1,406.8 L299.9,406.8 L299.8,406.9 L299.6,406.9 L299.4,407.0 L299.3,407.0 L299.1,407.0 L298.9,407.1 L298.8,407.1 L298.6,407.1 L298.4,407.1 L298.2,407.1 L298.1,407.1 L297.9,407.0 L297.7,407.0 L297.5,407.0 L297.3,406.9 L297.1,406.9 L297.0,406.8 L296.8,406.7 L296.6,406.7 L296.4,406.6 L296.2,406.5 L296.1,406.4 L295.9,406.3 L295.7,406.2 L295.6,406.1 L295.4,406.0 L295.2,405.8 L295.0,405.7 L294.9,405.6 L294.7,405.4" fill="none" stroke="#000" stroke-width="3.20" stroke-linecap="round" stroke-linejoin="round" />
<ellipse cx="294.6" cy="396.7" rx="3.6" ry="2.8" transform="rotate(-30 294.6 396.7)"/>
<path d="M300.6,349.6 L300.7,350.2 L300.8,350.8 L300.8,351.3 L300.9,351.9 L300.9,352.5 L300.9,353.0 L301.0,353.6 L300.9,354.1 L300.9,354.7 L300.9,355.2 L300.8,355.7 L300.7,356.2 L300.7,356.7 L300.5,357.2 L300.4,357.7 L300.3,358.2 L300.1,358.6 L300.0,359.1 L299.8,359.5 L299.6,359.9 L299.4,360.3 L299.1,360.7 L298.9,361.1 L298.6,361.4 L298.4,361.7 L298.1,362.1 L297.8,362.4 L297.5,362.7 L297.2,362.9 L296.8,363.2 L296.5,363.4 L296.1,363.6 L295.8,363.8 L295.4,364.0 L295.0,364.1 L294.6,364.3 L294.2,364.4 L293.8,364.5 L293.4,364.6 L293.0,364.6 L292.5,364.6 L292.1,364.7 L291.7,364.7 L291.2,364.6 L290.8,364.6 L290.3,364.5 L289.9,364.4 L289.4,364.3 L288.9,364.2 L288.5,364.1 L288.0,363.9 L287.5,363.7 L287.1,363.5 L286.6,363.3 L286.1,363.0 L285.7,362.8 L285.2,362.5 L284.8,362.2 L284.3,361.9 L283.9,361.6 L283.4,361.2 L283.0,360.8 L282.5,360.5 L282.1,360.1 L281.7,359.7 L281.3,359.2 L280.9,358.8 L280.5,358.4 L280.1,357.9 L279.7,357.4 L279.3,356.9 L279.0,356.4 L278.6,355.9 L278.3,355.4 L277.9,354.9 L277.6,354.4 L277.3,353.8 L277.0,353.3 L276.8,352.7 L276.5,352.1 L276.2,351.6 L276.0,351.0 L275.8,350.4 L275.6,349.9 L275.4,349.3 L275.2,348.7 L275.0,348.1 L274.9,347.5 L274.7,347.0 L274.6,346.4 L274.5,345.8 L274.4,345.2 L274.4,344.7 L274.3,344.1 L274.3,343.5 L274.3,343.0 L274.2,342.4 L274.3,341.9 L274.3,341.3 L274.3,340.8 L274.4,340.3 L274.5,339.8 L274.5,339.3 L274.7,338.8 L274.8,338.3 L274.9,337.8 L275.1,337.4 L275.2,336.9 L275.4,336.5 L275.6,336.1 L275.8,335.7 L276.1,335.3 L276.3,334.9 L276.6,334.6 L276.8,334.3 L277.1,333.9 L277.4,333.6 L277.7,333.3 L278.0,333.1 L278.4,332.8 L278.7,332.6 L279.1,332.4 L279.4,332.2 L279.8,332.0 L280.2,331.9 L280.6,331.7 L281.0,331.6 L281.4,331.5 L281.8,331.4 L282.2,331.4 L282.7,331.4 L283.1,331.3 L283.5,331.3 L284.0,331.4 L284.4,331.4 L284.9,331.5 L285.3,331.6 L285.8,331.7 L286.3,331.8 L286.7,331.9" fill="none" stroke="#000" stroke-width="2.50" stroke-linecap="round" stroke-linejoin="round" />
<path d="M290.7,334.0 L291.1,334.3 L291.6,334.6 L292.0,335.0 L292.4,335.3 L292.9,335.7 L293.3,336.1 L293.7,336.5 L294.1,337.0 L294.5,337.4 L294.9,337.9 L295.3,338.3 L295.7,338.8 L296.1,339.3 L296.4,339.8 L296.8,340.3 L297.1,340.8 L297.4,341.4 L297.7,341.9 L298.0,342.5 L298.3,343.0 L298.6,343.6 L298.8,344.1 L299.1,344.7 L299.3,345.3 L299.5,345.8" fill="none" stroke="#000" stroke-width="2.30" stroke-linecap="round" stroke-linejoin="round" />
<path d="M285.1,344.6 L285.2,344.5 L285.3,344.4 L285.5,344.3 L285.6,344.2 L285.7,344.1 L285.9,344.0 L286.0,343.9 L286.2,343.8 L286.3,343.7 L286.5,343.7 L286.6,343.6 L286.8,343.6 L287.0,343.5 L287.1,343.5 L287.3,343.5 L287.5,343.4 L287.6,343.4 L287.8,343.4 L288.0,343.4 L288.2,343.4 L288.3,343.4 L288.5,343.5 L288.7,343.5 L288.9,343.5 L289.1,343.6 L289.3,343.6 L289.4,343.7 L289.6,343.8 L289.8,343.8 L290.0,343.9 L290.2,344.0 L290.3,344.1 L290.5,344.2 L290.7,344.3 L290.8,344.4 L291.0,344.5 L291.2,344.7 L291.4,344.8 L291.5,344.9 L291.7,345.1 L291.8,345.2 L292.0,345.4 L292.1,345.5 L292.3,345.7 L292.4,345.9 L292.6,346.0 L292.7,346.2 L292.8,346.4 L292.9,346.6 L293.1,346.8 L293.2,347.0 L293.3,347.1 L293.4,347.3 L293.5,347.5 L293.6,347.7 L293.7,348.0 L293.8,348.2 L293.8,348.4 L293.9,348.6 L294.0,348.8 L294.0,349.0 L294.1,349.2 L294.1,349.4 L294.2,349.6 L294.2,349.8 L294.2,350.1 L294.3,350.3 L294.3,350.5 L294.3,350.7 L294.3,350.9 L294.3,351.1 L294.3,351.3 L294.3,351.5 L294.2,351.7 L294.2,351.9 L294.2,352.1 L294.1,352.3 L294.1,352.5 L294.1,352.7 L294.0,352.8 L293.9,353.0 L293.9,353.2 L293.8,353.3 L293.7,353.5 L293.6,353.7 L293.5,353.8 L293.4,354.0 L293.3,354.1 L293.2,354.2 L293.1,354.4 L293.0,354.5 L292.9,354.6 L292.7,354.7 L292.6,354.8 L292.5,354.9 L292.3,355.0 L292.2,355.1 L292.0,355.2 L291.9,355.3 L291.7,355.3 L291.6,355.4 L291.4,355.4 L291.2,355.5 L291.1,355.5 L290.9,355.5 L290.7,355.6 L290.6,355.6 L290.4,355.6 L290.2,355.6 L290.0,355.6 L289.9,355.6 L289.7,355.5 L289.5,355.5 L289.3,355.5 L289.1,355.4 L288.9,355.4 L288.8,355.3 L288.6,355.2 L288.4,355.2 L288.2,355.1 L288.0,355.0 L287.9,354.9 L287.7,354.8 L287.5,354.7 L287.4,354.6 L287.2,354.5 L287.0,354.3 L286.8,354.2 L286.7,354.1 L286.5,353.9" fill="none" stroke="#000" stroke-width="3.20" stroke-linecap="round" stroke-linejoin="round" />
<ellipse cx="286.4" cy="345.2" rx="3.6" ry="2.8" transform="rotate(-30 286.4 345.2)"/>
<ellipse cx="356.8" cy="333.8" rx="3.6" ry="6" transform="rotate(-35 356.8 333.8)"/>
<ellipse cx="313.2" cy="420.5" rx="3.6" ry="5.5" transform="rotate(-30 313.2 420.5)"/>
<path d="M354.1,419.9 L353.1,420.3 L352.2,420.7 L351.2,421.0 L350.3,421.3 L349.3,421.5 L348.2,421.7 L347.2,421.8 L346.2,421.9 L345.1,421.9 L344.0,421.9 L343.0,421.8 L341.9,421.7 L340.8,421.5 L339.7,421.3 L338.6,421.1 L337.5,420.8 L336.4,420.4 L335.3,420.0 L334.2,419.6 L333.1,419.1 L332.0,418.6 L330.9,418.0 L329.8,417.4 L328.8,416.7 L327.7,416.0 L326.7,415.3 L325.6,414.5 L324.6,413.7 L323.6,412.8 L322.6,411.9 L321.6,411.0 L320.7,410.0 L319.7,409.0 L318.8,408.0 L317.9,406.9 L317.0,405.8 L316.2,404.7 L315.3,403.6 L314.5,402.4 L313.8,401.2 L313.0,400.0 L312.3,398.7 L311.6,397.5 L311.0,396.2 L310.3,394.9 L309.7,393.6 L309.2,392.3 L308.7,390.9 L308.2,389.6 L307.7,388.2 L307.3,386.9 L306.9,385.5 L306.5,384.1 L306.2,382.8 L305.9,381.4 L305.7,380.0 L305.5,378.7 L305.3,377.3 L305.2,375.9 L305.1,374.6 L305.1,373.3 L305.1,371.9 L305.1,370.6 L305.1,369.3 L305.2,368.0 L305.4,366.8 L305.6,365.5 L305.8,364.3 L306.0,363.1 L306.3,361.9 L306.7,360.8 L307.0,359.6 L307.4,358.5 L307.9,357.5 L308.3,356.4 L308.8,355.4 L309.4,354.5 L310.0,353.5 L310.6,352.6 L311.2,351.7 L311.9,350.9 L312.6,350.1 L313.3,349.4 L314.0,348.7 L314.8,348.0 L315.6,347.4 L316.5,346.8 L317.3,346.2 L318.2,345.7 L319.1,345.3 L320.1,344.9 L321.0,344.5 L322.0,344.2 L322.9,343.9 L323.9,343.7 L325.0,343.5 L326.0,343.4 L327.0,343.3 L328.1,343.3 L329.2,343.3 L330.2,343.4 L331.3,343.5 L332.4,343.7 L333.5,343.9 L334.6,344.1 L335.7,344.4 L336.8,344.8 L337.9,345.2 L339.0,345.6 L340.1,346.1 L341.2,346.6 L342.3,347.2 L343.4,347.8 L344.4,348.5 L345.5,349.2 L346.5,349.9 L347.6,350.7 L348.6,351.5 L349.6,352.4 L350.6,353.3 L351.6,354.2 L352.5,355.2 L353.5,356.2 L354.4,357.2 L355.3,358.3 L356.2,359.4 L357.0,360.5 L357.9,361.6 L358.7,362.8 L359.4,364.0 L360.2,365.2 L360.9,366.5 L361.6,367.7 L362.2,369.0 L362.9,370.3 L363.5,371.6 L364.0,372.9 L364.5,374.3 L365.0,375.6 L365.5,377.0 L365.9,378.3 L366.3,379.7 L366.7,381.1 L367.0,382.4 L367.3,383.8 L367.5,385.2 L367.7,386.5 L367.9,387.9 L368.0,389.3 L368.1,390.6 L368.1,391.9 L368.1,393.3 L368.1,394.6 L368.1,395.9 L368.0,397.2 L367.8,398.4 L367.6,399.7 L367.4,400.9 L367.2,402.1 L366.9,403.3 L366.5,404.4 L366.2,405.6 L365.8,406.7 L365.3,407.7 L364.9,408.8 L364.4,409.8 L363.8,410.7 L363.2,411.7 L362.6,412.6 L362.0,413.5 L361.3,414.3 L360.6,415.1 L359.9,415.8 L359.2,416.5 L358.4,417.2 L357.6,417.8 L356.7,418.4 L355.9,419.0 L355.0,419.5 L354.1,419.9Z" fill="#fff" stroke="#000" stroke-width="2.60" stroke-linecap="round" stroke-linejoin="round" />
<path d="M310.6,352.6 L311.2,351.7 L311.9,350.9 L312.6,350.1 L313.3,349.4 L314.0,348.7 L314.8,348.0 L315.6,347.4 L316.5,346.8 L317.3,346.2 L318.2,345.7 L319.1,345.3 L320.1,344.9 L321.0,344.5 L322.0,344.2 L322.9,343.9 L323.9,343.7 L325.0,343.5 L326.0,343.4 L327.0,343.3 L328.1,343.3 L329.2,343.3 L330.2,343.4 L331.3,343.5 L332.4,343.7 L333.5,343.9 L334.6,344.1 L335.7,344.4 L336.8,344.8 L337.9,345.2 L339.0,345.6 L340.1,346.1 L341.2,346.6 L342.3,347.2 L343.4,347.8 L344.4,348.5 L345.5,349.2 L346.5,349.9 L347.6,350.7 L348.6,351.5 L349.6,352.4 L350.6,353.3 L351.6,354.2 L352.5,355.2 L353.5,356.2 L354.4,357.2 L355.3,358.3 L356.2,359.4 L357.0,360.5 L357.9,361.6 L358.7,362.8 L359.4,364.0 L360.2,365.2 L354.0,365.5 C352.5,364.5 348.2,360.9 345.0,359.5 C341.8,358.1 338.3,357.2 335.0,357.0 C331.7,356.8 328.2,357.7 325.0,358.5 C321.8,359.3 318.6,360.6 316.0,362.0 C313.4,363.4 310.6,366.2 309.5,367.0Z" fill="#000" stroke="#000" stroke-width="1.00" stroke-linecap="round" stroke-linejoin="round" />
<line x1="72.0" y1="553.9" x2="98.0" y2="536.8" stroke="#000" stroke-width="3.60" stroke-linecap="butt" />
<line x1="176.0" y1="485.8" x2="241.5" y2="443.0" stroke="#000" stroke-width="3.00" stroke-linecap="butt" />
<line x1="247.5" y1="439.1" x2="257.5" y2="432.5" stroke="#000" stroke-width="3.00" stroke-linecap="butt" />
<line x1="263.5" y1="428.6" x2="347.0" y2="374.0" stroke="#000" stroke-width="2.80" stroke-linecap="butt" />
<line x1="533.0" y1="293.5" x2="551.5" y2="280.5" stroke="#000" stroke-width="3.20" stroke-linecap="butt" />
<path d="M149.6,559.6 L148.9,560.3 L148.1,560.8 L147.4,561.4 L146.6,561.9 L145.8,562.3 L144.9,562.7 L144.1,563.0 L143.2,563.3 L142.2,563.6 L141.3,563.7 L140.3,563.9 L139.3,564.0 L138.3,564.0 L137.3,564.0 L136.3,563.9 L135.2,563.8 L134.1,563.6 L133.0,563.3 L131.9,563.0 L130.8,562.7 L129.7,562.3 L128.6,561.9 L127.4,561.4 L126.3,560.9 L125.1,560.3 L124.0,559.6 L122.8,559.0 L121.7,558.2 L120.5,557.5 L119.4,556.6 L118.2,555.8 L117.1,554.9 L116.0,553.9 L114.9,553.0 L113.7,551.9 L112.6,550.9 L111.6,549.8 L110.5,548.6 L109.4,547.5 L108.4,546.3 L107.4,545.1 L106.4,543.8 L105.4,542.5 L104.4,541.2 L103.5,539.9 L102.6,538.5 L101.7,537.1 L100.8,535.7 L100.0,534.3 L99.2,532.9 L98.4,531.4 L97.6,530.0 L96.9,528.5 L96.2,527.0 L95.6,525.5 L94.9,524.0 L94.4,522.5 L93.8,521.0 L93.3,519.5 L92.8,518.0 L92.4,516.5 L91.9,515.0 L91.6,513.6 L91.2,512.1 L91.0,510.6 L90.7,509.2 L90.5,507.7 L90.3,506.3 L90.2,504.9 L90.1,503.5 L90.0,502.2 L90.0,500.8 L90.0,499.5 L90.1,498.2 L90.2,497.0 L90.4,495.7 L90.6,494.5 L90.8,493.4 L91.0,492.2 L91.3,491.2 L91.7,490.1 L92.1,489.1 L92.5,488.1 L92.9,487.1 L93.4,486.2 L94.0,485.4 L94.5,484.6 L95.1,483.8 L95.8,483.1 L96.4,482.4 L97.1,481.7 L97.9,481.2 L98.6,480.6 L99.4,480.1 L100.2,479.7 L101.1,479.3 L101.9,479.0 L102.8,478.7 L129.8,467.3 L130.8,467.2 L131.7,467.1 L132.7,467.1 L133.7,467.1 L134.7,467.2 L135.7,467.3 L136.7,467.5 L137.8,467.7 L138.8,468.0 L139.9,468.3 L141.0,468.7 L142.1,469.1 L143.2,469.6 L144.3,470.1 L145.4,470.7 L146.5,471.3 L147.6,472.0 L148.7,472.7 L149.8,473.4 L150.9,474.2 L152.0,475.0 L153.1,475.9 L154.2,476.8 L155.2,477.8 L156.3,478.7 L157.4,479.8 L158.4,480.8 L159.5,481.9 L160.5,483.0 L161.5,484.2 L162.5,485.4 L163.4,486.6 L164.4,487.8 L165.3,489.1 L166.2,490.4 L167.1,491.7 L167.9,493.0 L168.8,494.4 L169.6,495.8 L170.4,497.1 L171.1,498.5 L171.8,499.9 L172.5,501.4 L173.2,502.8 L173.8,504.2 L174.4,505.7 L175.0,507.1 L175.5,508.6 L176.0,510.0 L176.5,511.4 L176.9,512.9 L177.3,514.3 L177.7,515.7 L178.0,517.2 L178.3,518.6 L178.5,520.0 L178.7,521.3 L178.9,522.7 L179.0,524.1 L179.1,525.4 L179.2,526.7 L179.2,528.0 L179.2,529.3 L179.1,530.5 L179.0,531.7 L178.9,532.9 L178.7,534.0 L178.5,535.2 L178.2,536.2 L178.0,537.3 L177.6,538.3 L177.3,539.3 L176.9,540.3 L176.4,541.2 L176.0,542.0 L175.5,542.9 L174.9,543.6 L174.3,544.4 L173.7,545.1 L173.1,545.7Z" fill="#fff" stroke="#000" stroke-width="3.80" stroke-linecap="round" stroke-linejoin="round" />
<path d="M153.5,545.5 L166.0,538.0 L174.5,532.0 L180.2,525.0 L179.5,532.5 L174.0,540.0 L163.0,549.0 L154.5,555.0Z" fill="#000" stroke="#000" stroke-width="1.50" stroke-linecap="round" stroke-linejoin="round" />
<path d="M91.0,492.2 L91.3,491.2 L91.7,490.1 L92.1,489.1 L92.5,488.1 L92.9,487.1 L93.4,486.2 L94.0,485.4 L94.5,484.6 L95.1,483.8 L95.8,483.1 L96.4,482.4 L97.1,481.7 L97.9,481.2 L98.6,480.6 L99.4,480.1 L100.2,479.7 L101.1,479.3 L101.9,479.0 L102.8,478.7 L103.8,478.4 L104.7,478.3 L105.7,478.1 L106.7,478.0 L107.7,478.0 L108.7,478.0 L109.7,478.1 L110.8,478.2 L111.9,478.4 L113.0,478.7 L114.1,479.0 L115.2,479.3 L116.3,479.7 L117.4,480.1 L118.6,480.6 L119.7,481.1 L120.9,481.7 L122.0,482.4 L123.2,483.0 L124.3,483.8 L125.5,484.5 L126.6,485.4 L127.8,486.2 L128.9,487.1 L130.0,488.1 L131.1,489.0 L132.3,490.1 L133.4,491.1 L134.4,492.2 L135.5,493.4 L136.6,494.5 L137.6,495.7 L138.6,496.9 L139.6,498.2 L140.6,499.5 L141.6,500.8 L142.5,502.1 L143.4,503.5 L144.3,504.9 L145.2,506.3 L146.0,507.7 L146.8,509.1 L147.6,510.6 L148.4,512.0 L149.1,513.5 L149.8,515.0 L150.4,516.5 L151.1,518.0 L151.6,519.5 L152.2,521.0 L152.7,522.5 L153.2,524.0" fill="none" stroke="#000" stroke-width="3.00" stroke-linecap="round" stroke-linejoin="round" />
<path d="M155.9,543.8 L155.8,545.0 L155.6,546.3 L155.4,547.5 L155.2,548.6 L155.0,549.8 L154.7,550.8 L154.3,551.9 L153.9,552.9 L153.5,553.9 L153.1,554.9 L152.6,555.8 L152.0,556.6 L151.5,557.4 L150.9,558.2 L150.2,558.9 L149.6,559.6 L148.9,560.3 L148.1,560.8 L147.4,561.4 L146.6,561.9 L145.8,562.3 L144.9,562.7 L144.1,563.0 L143.2,563.3 L142.2,563.6 L141.3,563.7 L140.3,563.9 L139.3,564.0 L138.3,564.0 L137.3,564.0 L136.3,563.9 L135.2,563.8 L134.1,563.6 L133.0,563.3 L131.9,563.0 L130.8,562.7 L129.7,562.3 L128.6,561.9 L127.4,561.4 L126.3,560.9" fill="none" stroke="#000" stroke-width="3.20" stroke-linecap="round" stroke-linejoin="round" />
<path d="M159.5,540.5 L159.4,541.8 L159.3,543.0 L159.1,544.3 L158.9,545.5 L158.7,546.6 L158.5,547.8 L158.2,548.8 L157.8,549.9 L157.4,550.9 L157.0,551.9 L156.6,552.9 L156.1,553.8 L155.5,554.6 L155.0,555.4 L154.4,556.2 L153.7,556.9 L153.1,557.6" fill="none" stroke="#000" stroke-width="3.60" stroke-linecap="round" stroke-linejoin="round" />
<path d="M97.6,517.5 L97.4,516.3 L97.2,515.1 L97.1,513.9 L97.0,512.7 L96.9,511.5 L96.8,510.4 L96.8,509.2 L96.8,508.1 L96.9,507.0 L97.0,505.9 L97.1,504.8 L97.3,503.8 L97.5,502.7 L97.7,501.7 L98.0,500.8 L98.3,499.8 L98.6,498.9 L99.0,498.0 L99.4,497.1 L99.8,496.3 L100.3,495.4 L100.7,494.7 L101.3,493.9 L101.8,493.2 L102.4,492.5 L103.0,491.9 L103.6,491.3 L104.3,490.7 L105.0,490.2 L105.7,489.7 L106.4,489.3 L107.2,488.9 L107.9,488.5 L108.7,488.2 L109.5,487.9 L110.4,487.6 L111.2,487.4 L112.1,487.3 L113.0,487.1 L113.9,487.1 L114.8,487.0 L115.8,487.0 L116.7,487.1 L117.7,487.2 L118.6,487.3 L119.6,487.5 L120.6,487.7 L121.5,488.0 L122.5,488.3 L123.5,488.6 L124.5,489.0 L125.5,489.4 L126.5,489.9 L127.5,490.4 L128.5,491.0 L129.5,491.5 L130.5,492.2 L131.4,492.8 L132.4,493.5 L133.4,494.2 L134.3,495.0 L135.2,495.8 L136.2,496.6 L137.1,497.4 L138.0,498.3 L138.9,499.2 L139.7,500.2 L140.6,501.2 L141.4,502.1 L142.2,503.2 L143.0,504.2 L143.8,505.3 L144.5,506.3 L145.2,507.4 L145.9,508.6 L146.6,509.7 L147.3,510.8 L147.9,512.0 L148.5,513.2 L149.0,514.4 L149.6,515.6 L150.1,516.8 L150.5,518.0 L151.0,519.2 L151.4,520.4 L151.8,521.6" fill="none" stroke="#000" stroke-width="2.40" stroke-linecap="round" stroke-linejoin="round" />
<path d="M150.3,548.6 L149.9,549.3 L149.3,550.1 L148.8,550.8 L148.2,551.5 L147.6,552.1 L146.9,552.7 L146.3,553.3 L145.6,553.8 L144.9,554.3 L144.1,554.8 L143.4,555.2 L142.6,555.6 L141.8,555.9 L140.9,556.2 L140.1,556.4 L139.2,556.6 L138.4,556.8 L137.5,556.9 L136.5,556.9 L135.6,557.0 L134.7,557.0 L133.7,556.9 L132.8,556.8 L131.8,556.6 L130.8,556.5 L129.8,556.2 L128.8,555.9 L127.8,555.6 L126.8,555.3 L125.8,554.9 L124.8,554.4 L123.8,554.0 L122.8,553.4 L121.8,552.9 L120.8,552.3 L119.8,551.6 L118.9,551.0 L117.9,550.3 L116.9,549.5 L116.0,548.7 L115.0,547.9 L114.1,547.1 L113.2,546.2 L112.3,545.3 L111.4,544.4 L110.5,543.4 L109.7,542.4 L108.9,541.4 L108.0,540.4 L107.3,539.3 L106.5,538.3 L105.8,537.2 L105.0,536.0 L104.3,534.9 L103.7,533.7 L103.0,532.6 L102.4,531.4" fill="none" stroke="#000" stroke-width="2.60" stroke-linecap="round" stroke-linejoin="round" />
<path d="M131.3,542.9 L130.8,543.1 L130.2,543.4 L129.7,543.6 L129.1,543.9 L128.6,544.0 L128.0,544.2 L127.4,544.3 L126.8,544.5 L126.2,544.5 L125.6,544.6 L125.0,544.6 L124.4,544.7 L123.7,544.7 L123.1,544.6 L122.5,544.5 L121.8,544.5 L121.2,544.3 L120.5,544.2 L119.9,544.0 L119.3,543.9 L118.6,543.6 L118.0,543.4 L117.4,543.1 L116.7,542.9 L116.1,542.6 L115.5,542.2 L114.9,541.9 L114.2,541.5 L113.6,541.1 L113.0,540.7 L112.5,540.2 L111.9,539.8 L111.3,539.3 L110.8,538.8 L110.2,538.3 L109.7,537.8 L109.2,537.2 L108.7,536.7 L108.2,536.1 L107.7,535.5 L107.3,534.9 L106.8,534.2 L106.4,533.6 L106.0,533.0 L105.6,532.3 L105.2,531.6 L104.8,531.0 L104.5,530.3 L104.2,529.6 L103.9,528.9 L103.6,528.2 L103.4,527.4 L103.1,526.7 L102.9,526.0 L102.7,525.3 L102.5,524.5 L102.4,523.8 L102.2,523.1 L102.1,522.4 L102.0,521.6 L102.0,520.9 L101.9,520.2 L101.9,519.5 L101.9,518.8 L102.0,518.1 L102.0,517.4 L102.1,516.7 L102.2,516.0 L102.3,515.3 L102.4,514.7 L102.6,514.0 L102.7,513.4 L102.9,512.8 L103.2,512.1 L103.4,511.5 L103.7,511.0 L104.0,510.4 L104.3,509.9 L104.6,509.3 L104.9,508.8 L105.3,508.3 L105.7,507.8 L106.1,507.4 L106.5,506.9 L106.9,506.5 L107.4,506.1 L107.8,505.7 L108.3,505.4 L108.8,505.1 L109.3,504.7 L109.8,504.5 L110.4,504.2 L110.9,504.0 L111.5,503.7 L112.0,503.6 L112.6,503.4 L113.2,503.3 L113.8,503.1 L114.4,503.1 L115.0,503.0 L115.6,503.0 L116.2,502.9 L116.9,502.9 L117.5,503.0 L118.1,503.0 L118.8,503.1 L119.4,503.3 L120.1,503.4 L120.7,503.6 L121.3,503.7 L122.0,504.0 L122.6,504.2 L123.2,504.5 L123.9,504.7 L124.5,505.0 L125.1,505.4 L125.7,505.7 L126.4,506.1 L127.0,506.5 L127.5,506.9 L128.1,507.4 L128.7,507.8 L129.3,508.3 L129.8,508.8 L130.4,509.3 L130.9,509.8 L131.4,510.4 L131.9,510.9 L132.4,511.5 L132.9,512.1 L133.3,512.7 L133.8,513.4 L134.2,514.0 L134.6,514.6 L135.0,515.3 L135.4,516.0 L135.8,516.6 L136.1,517.3 L136.4,518.0 L136.7,518.7 L137.0,519.4 L137.2,520.2 L137.5,520.9 L137.7,521.6 L137.9,522.3 L138.1,523.1 L138.2,523.8 L138.4,524.5 L138.5,525.2 L138.5,526.0 L138.6,526.7 L138.7,527.4 L138.7,528.1 L138.7,528.8 L138.6,529.5 L138.6,530.2 L138.5,530.9 L138.4,531.6 L138.3,532.3 L138.2,532.9 L138.0,533.6 L137.9,534.2 L137.7,534.8 L137.4,535.5 L137.2,536.0 L136.9,536.6 L136.6,537.2 L136.3,537.7 L136.0,538.3 L135.7,538.8 L135.3,539.3 L134.9,539.8 L134.5,540.2 L134.1,540.7 L133.7,541.1 L133.2,541.5 L132.8,541.9 L132.3,542.2 L131.8,542.5 L131.3,542.9Z" fill="#fff" stroke="#000" stroke-width="3.20" stroke-linecap="round" stroke-linejoin="round" />
<path d="M138.5,526.0 L138.6,526.7 L138.7,527.4 L138.7,528.1 L138.7,528.8 L138.6,529.5 L138.6,530.2 L138.5,530.9 L138.4,531.6 L138.3,532.3 L138.2,532.9 L138.0,533.6 L137.9,534.2 L137.7,534.8 L137.4,535.5 L137.2,536.0 L136.9,536.6 L136.6,537.2 L136.3,537.7 L136.0,538.3 L135.7,538.8 L135.3,539.3 L134.9,539.8 L134.5,540.2 L134.1,540.7 L133.7,541.1 L133.2,541.5 L132.8,541.9 L132.3,542.2 L131.8,542.5 L131.3,542.9 L130.8,543.1 L130.2,543.4 L129.7,543.6 L129.1,543.9 L128.6,544.0 L128.0,544.2 L127.4,544.3 L126.8,544.5 L126.2,544.5 L125.6,544.6 L125.0,544.6 L124.4,544.7 L123.7,544.7 L123.1,544.6 L122.5,544.5 L121.8,544.5 L121.2,544.3 L120.5,544.2 L119.9,544.0 L119.3,543.9 L118.6,543.6 L118.0,543.4 L117.4,543.1 L116.7,542.9 L116.1,542.6 L115.5,542.2 L114.9,541.9 L114.2,541.5 L113.6,541.1 L113.0,540.7" fill="none" stroke="#000" stroke-width="4.00" stroke-linecap="round" stroke-linejoin="round" />
<path d="M102.7,525.3 L102.5,524.5 L102.4,523.8 L102.2,523.1 L102.1,522.4 L102.0,521.6 L102.0,520.9 L101.9,520.2 L101.9,519.5 L101.9,518.8 L102.0,518.1 L102.0,517.4 L102.1,516.7 L102.2,516.0 L102.3,515.3 L102.4,514.7 L102.6,514.0 L102.7,513.4 L102.9,512.8 L103.2,512.1 L103.4,511.5 L103.7,511.0 L104.0,510.4 L104.3,509.9 L104.6,509.3 L104.9,508.8 L105.3,508.3 L105.7,507.8 L106.1,507.4 L106.5,506.9 L106.9,506.5 L107.4,506.1 L107.8,505.7 L108.3,505.4 L108.8,505.1 L109.3,504.7 L109.8,504.5 L110.4,504.2 L110.9,504.0 L111.5,503.7 L112.0,503.6 L112.6,503.4 L113.2,503.3 L113.8,503.1 L114.4,503.1 L115.0,503.0 L115.6,503.0 L116.2,502.9 L116.9,502.9 L117.5,503.0 L118.1,503.0 L118.8,503.1 L119.4,503.3 L120.1,503.4 L120.7,503.6 L121.3,503.7 L122.0,504.0 L122.6,504.2 L123.2,504.5 L123.9,504.7 L124.5,505.0 L125.1,505.4 L125.7,505.7 L126.4,506.1 L127.0,506.5 L127.5,506.9 L128.1,507.4 L128.7,507.8 L129.3,508.3 L129.8,508.8 L130.4,509.3 L123.0,513.5 C122.0,513.5 119.0,512.8 117.0,513.5 C115.0,514.2 112.6,515.8 111.0,517.5 C109.4,519.2 108.2,521.8 107.5,524.0 C106.8,526.2 107.1,529.8 107.0,531.0Z" fill="#000" stroke="#000" stroke-width="1.00" stroke-linecap="round" stroke-linejoin="round" />
<path d="M108.5,523.0 L122.0,516.2 L113.6,523.8 L123.7,523.0 L110.0,532.2 L122.0,525.5" fill="none" stroke="#000" stroke-width="2.20" stroke-linecap="round" stroke-linejoin="round" />
<path d="M556.0,260.9 L597.2,234.4 L610.5,255.1 L569.3,281.6 C560.5,287.3 547.2,266.6 556.0,260.9Z" fill="#000" stroke="#000" stroke-width="1.00" stroke-linecap="round" stroke-linejoin="round" />
<path d="M617.2,260.3 L616.8,260.5 L616.4,260.7 L615.9,260.9 L615.5,261.1 L615.0,261.2 L614.6,261.4 L614.1,261.5 L613.6,261.5 L613.1,261.6 L612.5,261.6 L612.0,261.6 L611.5,261.5 L610.9,261.5 L610.4,261.4 L609.8,261.3 L609.2,261.1 L608.7,261.0 L608.1,260.8 L607.5,260.6 L606.9,260.3 L606.3,260.1 L605.7,259.8 L605.1,259.5 L604.6,259.2 L604.0,258.8 L603.4,258.4 L602.8,258.0 L602.2,257.6 L601.6,257.2 L601.0,256.7 L600.4,256.2 L599.9,255.7 L599.3,255.2 L598.7,254.7 L598.2,254.1 L597.6,253.5 L597.1,253.0 L596.5,252.4 L596.0,251.7 L595.5,251.1 L595.0,250.5 L594.5,249.8 L594.1,249.2 L593.6,248.5 L593.1,247.8 L592.7,247.1 L592.3,246.4 L591.9,245.7 L591.5,245.0 L591.1,244.2 L590.7,243.5 L590.4,242.8 L590.1,242.1 L589.8,241.3 L589.5,240.6 L589.2,239.9 L589.0,239.1 L588.7,238.4 L588.5,237.7 L588.3,236.9 L588.1,236.2 L588.0,235.5 L587.8,234.8 L587.7,234.1 L587.6,233.4 L587.6,232.7 L587.5,232.0 L587.5,231.3 L587.5,230.7 L587.5,230.0 L587.5,229.4 L587.6,228.8 L587.6,228.2 L587.7,227.6 L587.8,227.0 L588.0,226.5 L588.1,225.9 L588.3,225.4 L588.5,224.9 L588.7,224.4 L588.9,223.9 L589.2,223.5 L589.4,223.1 L589.7,222.7 L590.0,222.3 L590.3,221.9 L590.7,221.6 L591.0,221.3 L591.4,221.0 L591.8,220.7 L603.8,213.0 L604.2,212.8 L604.6,212.6 L605.1,212.4 L605.5,212.2 L606.0,212.1 L606.4,211.9 L606.9,211.8 L607.4,211.8 L607.9,211.7 L608.5,211.7 L609.0,211.7 L609.5,211.8 L610.1,211.8 L610.6,211.9 L611.2,212.0 L611.8,212.2 L612.3,212.3 L612.9,212.5 L613.5,212.7 L614.1,213.0 L614.7,213.2 L615.3,213.5 L615.9,213.8 L616.4,214.1 L617.0,214.5 L617.6,214.9 L618.2,215.3 L618.8,215.7 L619.4,216.1 L620.0,216.6 L620.6,217.1 L621.1,217.6 L621.7,218.1 L622.3,218.6 L622.8,219.2 L623.4,219.8 L623.9,220.3 L624.5,220.9 L625.0,221.6 L625.5,222.2 L626.0,222.8 L626.5,223.5 L626.9,224.1 L627.4,224.8 L627.9,225.5 L628.3,226.2 L628.7,226.9 L629.1,227.6 L629.5,228.3 L629.9,229.1 L630.3,229.8 L630.6,230.5 L630.9,231.2 L631.2,232.0 L631.5,232.7 L631.8,233.4 L632.0,234.2 L632.3,234.9 L632.5,235.6 L632.7,236.4 L632.9,237.1 L633.0,237.8 L633.2,238.5 L633.3,239.2 L633.4,239.9 L633.4,240.6 L633.5,241.3 L633.5,242.0 L633.5,242.6 L633.5,243.3 L633.5,243.9 L633.4,244.5 L633.4,245.1 L633.3,245.7 L633.2,246.3 L633.0,246.8 L632.9,247.4 L632.7,247.9 L632.5,248.4 L632.3,248.9 L632.1,249.4 L631.8,249.8 L631.6,250.2 L631.3,250.6 L631.0,251.0 L630.7,251.4 L630.3,251.7 L630.0,252.0 L629.6,252.3 L629.2,252.6Z" fill="#000" stroke="#000" stroke-width="3.40" stroke-linecap="round" stroke-linejoin="round" />
<path d="M615.9,254.7 L615.6,254.9 L615.3,255.0 L615.0,255.2 L614.6,255.3 L614.3,255.4 L614.0,255.5 L613.6,255.5 L613.2,255.6 L612.9,255.6 L612.5,255.6 L612.1,255.6 L611.7,255.5 L611.3,255.5 L610.9,255.4 L610.4,255.3 L610.0,255.2 L609.6,255.0 L609.2,254.9 L608.7,254.7 L608.3,254.5 L607.8,254.3 L607.4,254.1 L606.9,253.8 L606.5,253.5 L606.0,253.3 L605.6,253.0 L605.1,252.6 L604.7,252.3 L604.2,252.0 L603.8,251.6 L603.4,251.2 L602.9,250.8 L602.5,250.4 L602.1,250.0 L601.6,249.5 L601.2,249.1 L600.8,248.6 L600.4,248.2 L600.0,247.7 L599.6,247.2 L599.2,246.7 L598.8,246.2 L598.5,245.7 L598.1,245.1 L597.8,244.6 L597.4,244.1 L597.1,243.5 L596.8,243.0 L596.5,242.4 L596.2,241.8 L595.9,241.3 L595.6,240.7 L595.3,240.1 L595.1,239.6 L594.9,239.0 L594.7,238.4 L594.4,237.9 L594.3,237.3 L594.1,236.7 L593.9,236.2 L593.8,235.6 L593.6,235.1 L593.5,234.5 L593.4,234.0 L593.3,233.5 L593.3,232.9 L593.2,232.4 L593.2,231.9 L593.1,231.4 L593.1,230.9 L593.1,230.4 L593.2,230.0 L593.2,229.5 L593.2,229.0 L593.3,228.6 L593.4,228.2 L593.5,227.8 L593.6,227.4 L593.7,227.0 L593.9,226.6 L594.0,226.3 L594.2,226.0 L594.4,225.6 L594.6,225.3 L594.8,225.1 L595.1,224.8 L595.3,224.5 L595.6,224.3 L595.8,224.1 L596.1,223.9 L596.4,223.7 L596.7,223.6 L597.0,223.4 L597.4,223.3 L597.7,223.2 L598.0,223.1 L598.4,223.1 L598.8,223.0 L599.1,223.0 L599.5,223.0 L599.9,223.0 L600.3,223.1 L600.7,223.1 L601.1,223.2 L601.6,223.3 L602.0,223.4 L602.4,223.6 L602.8,223.7 L603.3,223.9 L603.7,224.1 L604.2,224.3 L604.6,224.5 L605.1,224.8 L605.5,225.1 L606.0,225.3 L606.4,225.6 L606.9,226.0 L607.3,226.3 L607.8,226.6 L608.2,227.0 L608.6,227.4 L609.1,227.8 L609.5,228.2 L609.9,228.6 L610.4,229.1 L610.8,229.5 L611.2,230.0 L611.6,230.4 L612.0,230.9 L612.4,231.4 L612.8,231.9 L613.2,232.4 L613.5,232.9 L613.9,233.5 L614.2,234.0 L614.6,234.5 L614.9,235.1 L615.2,235.6 L615.5,236.2 L615.8,236.8 L616.1,237.3 L616.4,237.9 L616.7,238.5 L616.9,239.0 L617.1,239.6 L617.3,240.2 L617.6,240.7 L617.7,241.3 L617.9,241.9 L618.1,242.4 L618.2,243.0 L618.4,243.5 L618.5,244.1 L618.6,244.6 L618.7,245.1 L618.7,245.7 L618.8,246.2 L618.8,246.7 L618.9,247.2 L618.9,247.7 L618.9,248.2 L618.8,248.6 L618.8,249.1 L618.8,249.6 L618.7,250.0 L618.6,250.4 L618.5,250.8 L618.4,251.2 L618.3,251.6 L618.1,252.0 L618.0,252.3 L617.8,252.6 L617.6,253.0 L617.4,253.3 L617.2,253.5 L616.9,253.8 L616.7,254.1 L616.4,254.3 L616.2,254.5 L615.9,254.7Z" fill="#fff" stroke="none" stroke-width="0.00" stroke-linecap="round" stroke-linejoin="round" />
<path d="M610.6,253.6 L610.4,253.8 L610.1,254.0 L609.8,254.1 L609.5,254.2 L609.2,254.3 L608.9,254.4 L608.6,254.5 L608.2,254.6 L607.9,254.6 L607.6,254.7 L607.2,254.7 L606.9,254.7 L606.5,254.7 L606.2,254.6 L605.8,254.6 L605.4,254.5 L605.1,254.5 L604.7,254.4 L604.3,254.3 L604.0,254.2 L603.6,254.0 L603.2,253.9 L602.8,253.7 L602.5,253.6 L602.1,253.4 L601.7,253.2 L601.4,252.9 L601.0,252.7 L600.6,252.5 L600.3,252.2 L599.9,252.0 L599.6,251.7 L599.2,251.4 L598.9,251.1 L598.5,250.8 L598.2,250.5 L597.9,250.1 L597.6,249.8 L597.3,249.4 L597.0,249.1 L596.7,248.7 L596.4,248.3 L596.1,248.0 L595.8,247.6 L595.6,247.2 L595.3,246.8 L595.1,246.4 L594.8,245.9 L594.6,245.5 L594.4,245.1 L594.2,244.7 L594.0,244.3 L593.8,243.8 L593.7,243.4 L593.5,243.0 L593.4,242.5 L593.2,242.1 L593.1,241.7 L593.0,241.2 L592.9,240.8 L592.8,240.4 L592.8,239.9 L592.7,239.5 L592.7,239.1 L592.6,238.7 L592.6,238.2 L592.6,237.8 L592.6,237.4 L592.7,237.0 L592.7,236.6 L592.7,236.2 L592.8,235.9 L592.9,235.5 L593.0,235.1 L593.1,234.8 L593.2,234.4 L593.3,234.1 L593.4,233.8 L593.6,233.5 L593.7,233.1 L593.9,232.9 L594.1,232.6 L594.3,232.3 L594.5,232.0 L594.7,231.8 L594.9,231.6 L595.2,231.3 L595.4,231.1 L595.7,230.9 L596.0,230.8 L596.2,230.6 L596.5,230.4 L596.8,230.3 L597.1,230.2 L597.4,230.1 L597.7,230.0 L598.0,229.9 L598.4,229.8 L598.7,229.8 L599.0,229.7 L599.4,229.7 L599.7,229.7 L600.1,229.7 L600.4,229.8 L600.8,229.8 L601.2,229.9 L601.5,229.9 L601.9,230.0 L602.3,230.1 L602.6,230.2 L603.0,230.4 L603.4,230.5 L603.8,230.7 L604.1,230.8 L604.5,231.0 L604.9,231.2 L605.2,231.5 L605.6,231.7 L606.0,231.9 L606.3,232.2 L606.7,232.4 L607.0,232.7 L607.4,233.0 L607.7,233.3 L608.1,233.6 L608.4,233.9 L608.7,234.3 L609.0,234.6 L609.3,235.0 L609.6,235.3 L609.9,235.7 L610.2,236.1 L610.5,236.4 L610.8,236.8 L611.0,237.2 L611.3,237.6 L611.5,238.0 L611.8,238.5 L612.0,238.9 L612.2,239.3 L612.4,239.7 L612.6,240.1 L612.8,240.6 L612.9,241.0 L613.1,241.4 L613.2,241.9 L613.4,242.3 L613.5,242.7 L613.6,243.2 L613.7,243.6 L613.8,244.0 L613.8,244.5 L613.9,244.9 L613.9,245.3 L614.0,245.7 L614.0,246.2 L614.0,246.6 L614.0,247.0 L613.9,247.4 L613.9,247.8 L613.9,248.2 L613.8,248.5 L613.7,248.9 L613.6,249.3 L613.5,249.6 L613.4,250.0 L613.3,250.3 L613.2,250.6 L613.0,250.9 L612.9,251.3 L612.7,251.5 L612.5,251.8 L612.3,252.1 L612.1,252.4 L611.9,252.6 L611.7,252.8 L611.4,253.1 L611.2,253.3 L610.9,253.5 L610.6,253.6Z" fill="#000" stroke="none" stroke-width="0.00" stroke-linecap="round" stroke-linejoin="round" />
<path d="M592.5,241.5 L601.7,234.4 L608.1,235.3 L611.5,242.7 L610.3,247.2 L599.5,253.5Z" fill="#fff" stroke="none" stroke-width="0.00" stroke-linecap="round" stroke-linejoin="round" />
<ellipse cx="609.7" cy="217.3" rx="5.4" ry="3.4" transform="rotate(18 609.7 217.3)" fill="#fff"/>
<path d="M617.2,223.4 C617.6,221.1 623.0,222.8 624.8,224.4 C626.6,226.0 628.4,230.5 628.0,232.8 C627.6,235.1 624.4,239.9 622.6,238.3 C620.8,236.7 616.8,225.7 617.2,223.4Z" fill="#fff" stroke="#fff" stroke-width="1.20" stroke-linecap="round" stroke-linejoin="round" />
<ellipse cx="628" cy="245.6" rx="2.9" ry="4.6" transform="rotate(32 628 245.6)" fill="#fff"/>
<path d="M561.0,262.1 C561.4,262.2 562.3,262.4 562.9,262.6 C563.6,262.8 564.1,263.0 564.7,263.3 C565.3,263.5 565.8,263.7 566.3,264.0 C566.8,264.3 567.3,264.5 567.8,264.8 C568.2,265.1 568.6,265.5 569.1,265.8 C569.5,266.1 569.9,266.4 570.2,266.8 C570.6,267.2 570.9,267.5 571.2,267.9 C571.5,268.3 571.8,268.7 572.1,269.1 C572.4,269.6 572.6,270.0 572.8,270.5 C573.0,270.9 573.2,271.4 573.4,271.9 C573.5,272.4 573.7,273.1 573.8,273.4" fill="none" stroke="#fff" stroke-width="2.60" stroke-linecap="round" stroke-linejoin="round" />
<path d="M566.9,258.3 C567.3,258.4 568.2,258.6 568.8,258.8 C569.4,259.0 570.0,259.3 570.6,259.5 C571.1,259.7 571.7,260.0 572.2,260.2 C572.7,260.5 573.2,260.8 573.6,261.1 C574.1,261.4 574.5,261.7 574.9,262.0 C575.4,262.3 575.7,262.7 576.1,263.0 C576.5,263.4 576.8,263.8 577.1,264.1 C577.4,264.5 577.7,264.9 578.0,265.4 C578.2,265.8 578.5,266.2 578.7,266.7 C578.9,267.1 579.1,267.6 579.3,268.1 C579.4,268.6 579.6,269.3 579.7,269.6" fill="none" stroke="#fff" stroke-width="2.60" stroke-linecap="round" stroke-linejoin="round" />
<path d="M572.8,254.5 C573.1,254.6 574.1,254.9 574.7,255.1 C575.3,255.3 575.9,255.5 576.5,255.7 C577.0,255.9 577.6,256.2 578.1,256.4 C578.6,256.7 579.1,257.0 579.5,257.3 C580.0,257.6 580.4,257.9 580.8,258.2 C581.3,258.5 581.6,258.9 582.0,259.2 C582.4,259.6 582.7,260.0 583.0,260.4 C583.3,260.8 583.6,261.2 583.9,261.6 C584.1,262.0 584.4,262.4 584.6,262.9 C584.8,263.3 585.0,263.8 585.2,264.3 C585.3,264.8 585.5,265.6 585.6,265.8" fill="none" stroke="#fff" stroke-width="2.60" stroke-linecap="round" stroke-linejoin="round" />
<path d="M578.7,250.7 C579.0,250.8 580.0,251.1 580.6,251.3 C581.2,251.5 581.8,251.7 582.4,251.9 C582.9,252.1 583.5,252.4 584.0,252.7 C584.5,252.9 585.0,253.2 585.4,253.5 C585.9,253.8 586.3,254.1 586.7,254.4 C587.1,254.8 587.5,255.1 587.9,255.5 C588.3,255.8 588.6,256.2 588.9,256.6 C589.2,257.0 589.5,257.4 589.8,257.8 C590.0,258.2 590.3,258.7 590.5,259.1 C590.7,259.6 590.9,260.0 591.0,260.5 C591.2,261.0 591.4,261.8 591.5,262.0" fill="none" stroke="#fff" stroke-width="2.60" stroke-linecap="round" stroke-linejoin="round" />
<path d="M584.2,247.2 C584.5,247.3 585.5,247.6 586.1,247.8 C586.7,248.0 587.3,248.2 587.8,248.4 C588.4,248.6 588.9,248.9 589.4,249.1 C589.9,249.4 590.4,249.7 590.9,250.0 C591.4,250.3 591.8,250.6 592.2,250.9 C592.6,251.2 593.0,251.6 593.4,251.9 C593.7,252.3 594.1,252.7 594.4,253.1 C594.7,253.5 595.0,253.9 595.2,254.3 C595.5,254.7 595.7,255.1 595.9,255.6 C596.2,256.1 596.4,256.5 596.5,257.0 C596.7,257.5 596.9,258.3 596.9,258.5" fill="none" stroke="#fff" stroke-width="2.60" stroke-linecap="round" stroke-linejoin="round" />
<path d="M563.8,277.7 L563.7,277.7 L563.6,277.8 L563.5,277.8 L563.4,277.8 L563.3,277.9 L563.2,277.9 L563.1,277.9 L563.0,277.9 L562.8,277.9 L562.7,277.9 L562.6,277.9 L562.5,277.9 L562.3,277.9 L562.2,277.8 L562.1,277.8 L561.9,277.8 L561.8,277.7 L561.7,277.6 L561.5,277.6 L561.4,277.5 L561.3,277.4 L561.1,277.4 L561.0,277.3 L560.8,277.2 L560.7,277.1 L560.5,277.0 L560.4,276.9 L560.3,276.8 L560.1,276.7 L560.0,276.5 L559.8,276.4 L559.7,276.3 L559.5,276.1 L559.4,276.0 L559.3,275.9 L559.1,275.7 L559.0,275.6 L558.9,275.4 L558.7,275.2 L558.6,275.1 L558.5,274.9 L558.4,274.8 L558.2,274.6 L558.1,274.4 L558.0,274.2 L557.9,274.1 L557.8,273.9 L557.7,273.7 L557.6,273.5 L557.5,273.3 L557.4,273.1 L557.3,273.0 L557.2,272.8 L557.1,272.6 L557.1,272.4 L557.0,272.2 L556.9,272.0 L556.8,271.9 L556.8,271.7 L556.7,271.5 L556.7,271.3 L556.6,271.1 L556.6,271.0 L556.6,270.8 L556.5,270.6 L556.5,270.4 L556.5,270.3 L556.5,270.1 L556.4,269.9 L556.4,269.8 L556.4,269.6 L556.4,269.5 L556.4,269.3 L556.5,269.2 L556.5,269.0 L556.5,268.9 L556.5,268.8 L556.5,268.7 L556.6,268.5 L556.6,268.4 L556.7,268.3 L556.7,268.2 L556.8,268.1 L556.8,268.0 L556.9,267.9 L557.0,267.8 L557.1,267.8 L557.1,267.7 L557.2,267.6 L557.3,267.6 L557.4,267.5 L557.5,267.5 L557.6,267.4 L557.7,267.4 L557.8,267.4 L557.9,267.3 L558.0,267.3 L558.1,267.3 L558.2,267.3 L558.4,267.3 L558.5,267.3 L558.6,267.3 L558.7,267.4 L558.9,267.4 L559.0,267.4 L559.1,267.5 L559.3,267.5 L559.4,267.6 L559.5,267.6 L559.7,267.7 L559.8,267.8 L560.0,267.9 L560.1,267.9 L560.2,268.0 L560.4,268.1 L560.5,268.2 L560.7,268.3 L560.8,268.4 L561.0,268.6 L561.1,268.7 L561.2,268.8 L561.4,268.9 L561.5,269.1 L561.7,269.2 L561.8,269.4 L561.9,269.5 L562.1,269.7 L562.2,269.8 L562.3,270.0 L562.5,270.1 L562.6,270.3 L562.7,270.5 L562.8,270.6 L562.9,270.8 L563.1,271.0 L563.2,271.2 L563.3,271.3 L563.4,271.5 L563.5,271.7 L563.6,271.9 L563.7,272.1 L563.8,272.3 L563.9,272.4 L563.9,272.6 L564.0,272.8 L564.1,273.0 L564.2,273.2 L564.2,273.4 L564.3,273.5 L564.3,273.7 L564.4,273.9 L564.4,274.1 L564.5,274.3 L564.5,274.4 L564.6,274.6 L564.6,274.8 L564.6,275.0 L564.6,275.1 L564.6,275.3 L564.6,275.4 L564.6,275.6 L564.6,275.7 L564.6,275.9 L564.6,276.0 L564.6,276.2 L564.6,276.3 L564.6,276.4 L564.5,276.6 L564.5,276.7 L564.4,276.8 L564.4,276.9 L564.3,277.0 L564.3,277.1 L564.2,277.2 L564.2,277.3 L564.1,277.4 L564.0,277.5 L563.9,277.5 L563.9,277.6 L563.8,277.7Z" fill="#fff" stroke="none" stroke-width="0.00" stroke-linecap="round" stroke-linejoin="round" />
<path d="M559.2,275.2 L562.6,274.9" fill="none" stroke="#000" stroke-width="1.60" stroke-linecap="round" stroke-linejoin="round" />
<line x1="36.3" y1="155.0" x2="196.7" y2="255.1" stroke="#000" stroke-width="3.30" stroke-linecap="butt" />
<polygon points="207.7,262.0 192.3,258.3 197.6,249.8" fill="#000"/>
<line x1="290.3" y1="45.0" x2="266.9" y2="97.5" stroke="#000" stroke-width="3.70" stroke-linecap="butt" />
<polygon points="262.0,108.5 263.3,93.8 272.1,97.7" fill="#000"/>
<line x1="32.8" y1="374.5" x2="101.8" y2="466.9" stroke="#000" stroke-width="4.00" stroke-linecap="butt" />
<polygon points="109.0,476.5 96.9,468.0 104.3,462.5" fill="#000"/>
<line x1="700.5" y1="310.5" x2="605.4" y2="282.7" stroke="#000" stroke-width="3.60" stroke-linecap="butt" />
<polygon points="592.0,278.8 608.8,278.3 605.9,288.3" fill="#000"/>
<text transform="translate(11.4 146.0) scale(0.620 1)" font-size="46" font-weight="bold" filter="url(#g)">1</text>
<text transform="translate(295.5 42.0) scale(0.700 1)" font-size="46" font-weight="bold" filter="url(#g)">2</text>
<text transform="translate(23.0 369.0) scale(0.700 1)" font-size="46" font-weight="bold" filter="url(#g)">3</text>
<text transform="translate(706.3 326.4) scale(0.700 1)" font-size="46" font-weight="bold" filter="url(#g)">4</text>
<rect x="10" y="141" width="6.2" height="6" fill="#fff"/><rect x="22.6" y="141" width="5" height="6" fill="#fff"/>
<rect x="574.5" y="587.5" width="179" height="58.5" fill="#fff" stroke="#000" stroke-width="2.6"/>
<text x="594" y="628" font-size="36" filter="url(#g)">fw200gf</text>
</svg></body></html>
